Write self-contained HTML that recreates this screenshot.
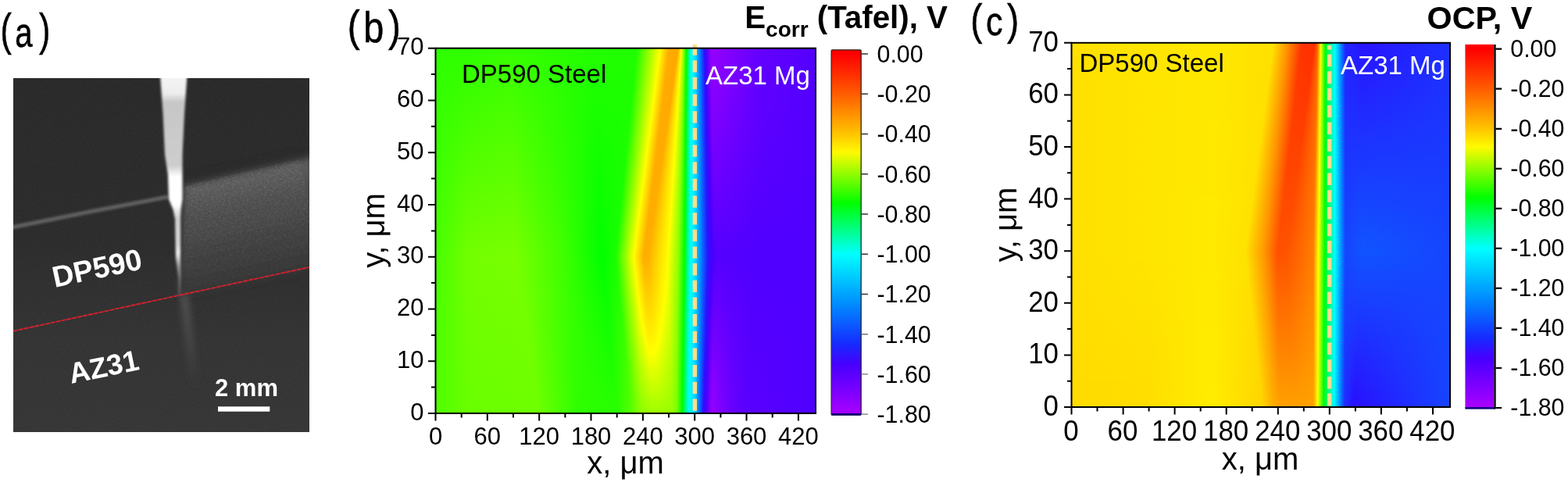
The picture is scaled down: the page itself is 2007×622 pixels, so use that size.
<!DOCTYPE html>
<html lang="en">
<head>
<meta charset="utf-8">
<title>SECM maps of DP590 steel / AZ31 Mg galvanic couple</title>
<style>
html,body{margin:0;padding:0;background:#fff;}
body{width:2007px;height:622px;overflow:hidden;font-family:"Liberation Sans", sans-serif;}
svg{display:block;}
</style>
</head>
<body>
<svg width="2007" height="622" viewBox="0 0 2007 622" font-family='"Liberation Sans", sans-serif' fill="#000">
<defs>
<clipPath id="pc"><rect x="17" y="100" width="379" height="453"/></clipPath>
<filter id="bl2" x="-30%" y="-20%" width="160%" height="140%"><feGaussianBlur stdDeviation="1.6"/></filter>
<filter id="bl4" x="-20%" y="-20%" width="140%" height="140%"><feGaussianBlur stdDeviation="4"/></filter>
<filter id="bl8" x="-30%" y="-30%" width="160%" height="160%"><feGaussianBlur stdDeviation="8"/></filter>
<filter id="grain" x="0" y="0" width="100%" height="100%"><feTurbulence type="fractalNoise" baseFrequency="0.55" numOctaves="2" seed="7" result="n"/><feColorMatrix in="n" type="matrix" values="0 0 0 0 1  0 0 0 0 1  0 0 0 0 1  0.9 0 0 0 -0.42"/></filter>
<linearGradient id="pbg" x1="0" x2="0" y1="100" y2="553" gradientUnits="userSpaceOnUse"><stop offset="0" stop-color="#2a2a2a"/><stop offset="0.45" stop-color="#2c2c2c"/><stop offset="0.75" stop-color="#343434"/><stop offset="1" stop-color="#363636"/></linearGradient>
<linearGradient id="psurf" x1="300" y1="215" x2="330" y2="360" gradientUnits="userSpaceOnUse"><stop offset="0" stop-color="#626262"/><stop offset="0.3" stop-color="#4e4e4e"/><stop offset="0.7" stop-color="#3e3e3e"/><stop offset="1" stop-color="#353535"/></linearGradient>
<linearGradient id="pstreak" x1="0" x2="0" y1="100" y2="380" gradientUnits="userSpaceOnUse"><stop offset="0" stop-color="#f4f4f4"/><stop offset="0.07" stop-color="#ededed"/><stop offset="0.11" stop-color="#c6c6c6"/><stop offset="0.40" stop-color="#cdcdcd"/><stop offset="0.45" stop-color="#fff"/><stop offset="0.58" stop-color="#fff"/><stop offset="0.64" stop-color="#cfcfcf"/><stop offset="0.76" stop-color="#d8d8d8"/><stop offset="0.80" stop-color="#f0f0f0"/><stop offset="0.86" stop-color="#9a9a9a"/><stop offset="0.93" stop-color="#6a6a6a"/><stop offset="1" stop-color="#4a4a4a"/></linearGradient>
<linearGradient id="prefl" x1="0" x2="0" y1="376" y2="500" gradientUnits="userSpaceOnUse"><stop offset="0" stop-color="#5a5a5a" stop-opacity="0.9"/><stop offset="0.5" stop-color="#4c4c4c" stop-opacity="0.7"/><stop offset="1" stop-color="#404040" stop-opacity="0"/></linearGradient>
<filter id="grain2" x="0" y="0" width="100%" height="100%"><feTurbulence type="fractalNoise" baseFrequency="0.35 0.6" numOctaves="2" seed="3" result="n"/><feColorMatrix in="n" type="matrix" values="0 0 0 0 1  0 0 0 0 1  0 0 0 0 1  1.6 0 0 0 -0.62"/></filter>
<clipPath id="psc"><polygon points="238,238 396,201 396,342 232,377"/></clipPath>
<linearGradient id="pfade" x1="300" y1="215" x2="330" y2="360" gradientUnits="userSpaceOnUse"><stop offset="0" stop-color="#fff" stop-opacity="0.9"/><stop offset="0.6" stop-color="#fff" stop-opacity="0.5"/><stop offset="1" stop-color="#fff" stop-opacity="0.15"/></linearGradient>
<mask id="pmask" maskUnits="userSpaceOnUse" x="17" y="100" width="379" height="453"><polygon points="238,238 396,201 396,342 232,377" fill="url(#pfade)"/></mask>

<linearGradient id="kb" x1="0" x2="0" y1="0" y2="1"><stop offset="0" stop-color="#ff0000"/><stop offset="0.0113" stop-color="#ff0000"/><stop offset="0.1209" stop-color="#ff5c00"/><stop offset="0.2305" stop-color="#ffc400"/><stop offset="0.2798" stop-color="#fffa00"/><stop offset="0.4196" stop-color="#00ff00"/><stop offset="0.5593" stop-color="#00ffff"/><stop offset="0.6963" stop-color="#008cff"/><stop offset="0.8059" stop-color="#162aff"/><stop offset="0.8607" stop-color="#4600ff"/><stop offset="0.9976" stop-color="#aa00ff"/></linearGradient>
<linearGradient id="kc" x1="0" x2="0" y1="0" y2="1"><stop offset="0" stop-color="#ff0000"/><stop offset="0.0125" stop-color="#ff0000"/><stop offset="0.1221" stop-color="#ff5c00"/><stop offset="0.2318" stop-color="#ffc400"/><stop offset="0.2811" stop-color="#fffa00"/><stop offset="0.4209" stop-color="#00ff00"/><stop offset="0.5607" stop-color="#00ffff"/><stop offset="0.6978" stop-color="#008cff"/><stop offset="0.8075" stop-color="#162aff"/><stop offset="0.8623" stop-color="#4600ff"/><stop offset="0.9994" stop-color="#aa00ff"/></linearGradient>
<linearGradient id="b0" gradientUnits="userSpaceOnUse" x1="557.5" x2="1044" y1="0" y2="0"><stop offset="0.0000" stop-color="#2dff00"/><stop offset="0.0874" stop-color="#2eff00"/><stop offset="0.1903" stop-color="#37ff00"/><stop offset="0.2932" stop-color="#2dff00"/><stop offset="0.4164" stop-color="#23ff00"/><stop offset="0.5289" stop-color="#1eff00"/><stop offset="0.5904" stop-color="#ffff00"/><stop offset="0.6131" stop-color="#ffac00"/><stop offset="0.6376" stop-color="#ffa700"/><stop offset="0.6462" stop-color="#ffff00"/><stop offset="0.6525" stop-color="#91ff00"/><stop offset="0.6598" stop-color="#00ff00"/><stop offset="0.6711" stop-color="#00ffeb"/><stop offset="0.6738" stop-color="#00ffff"/><stop offset="0.6820" stop-color="#00e1ff"/><stop offset="0.6948" stop-color="#0080ff"/><stop offset="0.7072" stop-color="#2814ff"/><stop offset="0.7116" stop-color="#4600ff"/><stop offset="0.7246" stop-color="#9700ff"/><stop offset="0.7760" stop-color="#8200ff"/><stop offset="0.8479" stop-color="#6500ff"/><stop offset="1.0000" stop-color="#5300ff"/></linearGradient>
<linearGradient id="b1" gradientUnits="userSpaceOnUse" x1="557.5" x2="1044" y1="0" y2="0"><stop offset="0.0000" stop-color="#2eff00"/><stop offset="0.0874" stop-color="#2fff00"/><stop offset="0.1906" stop-color="#38ff00"/><stop offset="0.2938" stop-color="#2dff00"/><stop offset="0.4167" stop-color="#22ff00"/><stop offset="0.5280" stop-color="#1eff00"/><stop offset="0.5894" stop-color="#ffff00"/><stop offset="0.6121" stop-color="#ffac00"/><stop offset="0.6365" stop-color="#ffa700"/><stop offset="0.6457" stop-color="#ffff00"/><stop offset="0.6523" stop-color="#91ff00"/><stop offset="0.6597" stop-color="#00ff00"/><stop offset="0.6711" stop-color="#00ffeb"/><stop offset="0.6738" stop-color="#00ffff"/><stop offset="0.6820" stop-color="#00e1ff"/><stop offset="0.6949" stop-color="#0080ff"/><stop offset="0.7073" stop-color="#2814ff"/><stop offset="0.7117" stop-color="#4600ff"/><stop offset="0.7248" stop-color="#9600ff"/><stop offset="0.7760" stop-color="#8100ff"/><stop offset="0.8479" stop-color="#6400ff"/><stop offset="1.0000" stop-color="#5300ff"/></linearGradient>
<linearGradient id="b2" gradientUnits="userSpaceOnUse" x1="557.5" x2="1044" y1="0" y2="0"><stop offset="0.0000" stop-color="#2eff00"/><stop offset="0.0874" stop-color="#30ff00"/><stop offset="0.1909" stop-color="#39ff00"/><stop offset="0.2944" stop-color="#2eff00"/><stop offset="0.4170" stop-color="#22ff00"/><stop offset="0.5272" stop-color="#1eff00"/><stop offset="0.5883" stop-color="#ffff00"/><stop offset="0.6111" stop-color="#ffac00"/><stop offset="0.6353" stop-color="#ffa700"/><stop offset="0.6451" stop-color="#ffff00"/><stop offset="0.6521" stop-color="#91ff00"/><stop offset="0.6596" stop-color="#00ff00"/><stop offset="0.6710" stop-color="#00ffeb"/><stop offset="0.6738" stop-color="#00ffff"/><stop offset="0.6820" stop-color="#00e1ff"/><stop offset="0.6949" stop-color="#0080ff"/><stop offset="0.7074" stop-color="#2814ff"/><stop offset="0.7119" stop-color="#4600ff"/><stop offset="0.7249" stop-color="#9500ff"/><stop offset="0.7760" stop-color="#8000ff"/><stop offset="0.8479" stop-color="#6400ff"/><stop offset="1.0000" stop-color="#5300ff"/></linearGradient>
<linearGradient id="b3" gradientUnits="userSpaceOnUse" x1="557.5" x2="1044" y1="0" y2="0"><stop offset="0.0000" stop-color="#2eff00"/><stop offset="0.0874" stop-color="#31ff00"/><stop offset="0.1912" stop-color="#3aff00"/><stop offset="0.2951" stop-color="#2eff00"/><stop offset="0.4173" stop-color="#21ff00"/><stop offset="0.5264" stop-color="#1eff00"/><stop offset="0.5873" stop-color="#ffff00"/><stop offset="0.6101" stop-color="#ffac00"/><stop offset="0.6341" stop-color="#ffa700"/><stop offset="0.6446" stop-color="#ffff00"/><stop offset="0.6519" stop-color="#91ff00"/><stop offset="0.6595" stop-color="#00ff00"/><stop offset="0.6710" stop-color="#00ffeb"/><stop offset="0.6738" stop-color="#00ffff"/><stop offset="0.6820" stop-color="#00e1ff"/><stop offset="0.6950" stop-color="#0080ff"/><stop offset="0.7076" stop-color="#2814ff"/><stop offset="0.7121" stop-color="#4600ff"/><stop offset="0.7251" stop-color="#9400ff"/><stop offset="0.7760" stop-color="#8000ff"/><stop offset="0.8479" stop-color="#6400ff"/><stop offset="1.0000" stop-color="#5300ff"/></linearGradient>
<linearGradient id="b4" gradientUnits="userSpaceOnUse" x1="557.5" x2="1044" y1="0" y2="0"><stop offset="0.0000" stop-color="#2fff00"/><stop offset="0.0874" stop-color="#32ff00"/><stop offset="0.1915" stop-color="#3bff00"/><stop offset="0.2957" stop-color="#2eff00"/><stop offset="0.4176" stop-color="#21ff00"/><stop offset="0.5255" stop-color="#1eff00"/><stop offset="0.5862" stop-color="#ffff00"/><stop offset="0.6091" stop-color="#ffac00"/><stop offset="0.6330" stop-color="#ffa700"/><stop offset="0.6441" stop-color="#ffff00"/><stop offset="0.6517" stop-color="#91ff00"/><stop offset="0.6595" stop-color="#00ff00"/><stop offset="0.6710" stop-color="#00ffeb"/><stop offset="0.6737" stop-color="#00ffff"/><stop offset="0.6820" stop-color="#00e1ff"/><stop offset="0.6950" stop-color="#0080ff"/><stop offset="0.7077" stop-color="#2814ff"/><stop offset="0.7123" stop-color="#4600ff"/><stop offset="0.7253" stop-color="#9300ff"/><stop offset="0.7760" stop-color="#7f00ff"/><stop offset="0.8479" stop-color="#6300ff"/><stop offset="1.0000" stop-color="#5200ff"/></linearGradient>
<linearGradient id="b5" gradientUnits="userSpaceOnUse" x1="557.5" x2="1044" y1="0" y2="0"><stop offset="0.0000" stop-color="#2fff00"/><stop offset="0.0874" stop-color="#33ff00"/><stop offset="0.1918" stop-color="#3cff00"/><stop offset="0.2963" stop-color="#2fff00"/><stop offset="0.4179" stop-color="#20ff00"/><stop offset="0.5247" stop-color="#1eff00"/><stop offset="0.5852" stop-color="#ffff00"/><stop offset="0.6081" stop-color="#ffac00"/><stop offset="0.6318" stop-color="#ffa700"/><stop offset="0.6436" stop-color="#ffff00"/><stop offset="0.6514" stop-color="#91ff00"/><stop offset="0.6594" stop-color="#00ff00"/><stop offset="0.6710" stop-color="#00ffeb"/><stop offset="0.6737" stop-color="#00ffff"/><stop offset="0.6820" stop-color="#00e1ff"/><stop offset="0.6951" stop-color="#0080ff"/><stop offset="0.7079" stop-color="#2814ff"/><stop offset="0.7125" stop-color="#4600ff"/><stop offset="0.7254" stop-color="#9200ff"/><stop offset="0.7760" stop-color="#7e00ff"/><stop offset="0.8479" stop-color="#6300ff"/><stop offset="1.0000" stop-color="#5200ff"/></linearGradient>
<linearGradient id="b6" gradientUnits="userSpaceOnUse" x1="557.5" x2="1044" y1="0" y2="0"><stop offset="0.0000" stop-color="#2fff00"/><stop offset="0.0874" stop-color="#34ff00"/><stop offset="0.1921" stop-color="#3dff00"/><stop offset="0.2969" stop-color="#2fff00"/><stop offset="0.4182" stop-color="#20ff00"/><stop offset="0.5239" stop-color="#1eff00"/><stop offset="0.5841" stop-color="#ffff00"/><stop offset="0.6072" stop-color="#ffac00"/><stop offset="0.6306" stop-color="#ffa800"/><stop offset="0.6431" stop-color="#ffff00"/><stop offset="0.6512" stop-color="#91ff00"/><stop offset="0.6593" stop-color="#00ff00"/><stop offset="0.6709" stop-color="#00ffeb"/><stop offset="0.6737" stop-color="#00ffff"/><stop offset="0.6820" stop-color="#00e1ff"/><stop offset="0.6952" stop-color="#0080ff"/><stop offset="0.7080" stop-color="#2814ff"/><stop offset="0.7127" stop-color="#4600ff"/><stop offset="0.7256" stop-color="#9100ff"/><stop offset="0.7760" stop-color="#7d00ff"/><stop offset="0.8479" stop-color="#6300ff"/><stop offset="1.0000" stop-color="#5200ff"/></linearGradient>
<linearGradient id="b7" gradientUnits="userSpaceOnUse" x1="557.5" x2="1044" y1="0" y2="0"><stop offset="0.0000" stop-color="#30ff00"/><stop offset="0.0874" stop-color="#35ff00"/><stop offset="0.1924" stop-color="#3eff00"/><stop offset="0.2975" stop-color="#2fff00"/><stop offset="0.4185" stop-color="#1fff00"/><stop offset="0.5231" stop-color="#1dff00"/><stop offset="0.5831" stop-color="#ffff00"/><stop offset="0.6062" stop-color="#ffac00"/><stop offset="0.6295" stop-color="#ffa800"/><stop offset="0.6425" stop-color="#ffff00"/><stop offset="0.6510" stop-color="#91ff00"/><stop offset="0.6592" stop-color="#00ff00"/><stop offset="0.6709" stop-color="#00ffeb"/><stop offset="0.6737" stop-color="#00ffff"/><stop offset="0.6820" stop-color="#00e1ff"/><stop offset="0.6952" stop-color="#0080ff"/><stop offset="0.7081" stop-color="#2814ff"/><stop offset="0.7129" stop-color="#4600ff"/><stop offset="0.7257" stop-color="#9000ff"/><stop offset="0.7760" stop-color="#7d00ff"/><stop offset="0.8479" stop-color="#6200ff"/><stop offset="1.0000" stop-color="#5200ff"/></linearGradient>
<linearGradient id="b8" gradientUnits="userSpaceOnUse" x1="557.5" x2="1044" y1="0" y2="0"><stop offset="0.0000" stop-color="#30ff00"/><stop offset="0.0874" stop-color="#36ff00"/><stop offset="0.1928" stop-color="#3fff00"/><stop offset="0.2981" stop-color="#30ff00"/><stop offset="0.4189" stop-color="#1fff00"/><stop offset="0.5222" stop-color="#1dff00"/><stop offset="0.5821" stop-color="#ffff00"/><stop offset="0.6052" stop-color="#ffac00"/><stop offset="0.6283" stop-color="#ffa800"/><stop offset="0.6420" stop-color="#ffff00"/><stop offset="0.6508" stop-color="#91ff00"/><stop offset="0.6592" stop-color="#00ff00"/><stop offset="0.6709" stop-color="#00ffeb"/><stop offset="0.6736" stop-color="#00ffff"/><stop offset="0.6820" stop-color="#00e1ff"/><stop offset="0.6953" stop-color="#0080ff"/><stop offset="0.7083" stop-color="#2814ff"/><stop offset="0.7131" stop-color="#4600ff"/><stop offset="0.7259" stop-color="#8f00ff"/><stop offset="0.7760" stop-color="#7c00ff"/><stop offset="0.8479" stop-color="#6200ff"/><stop offset="1.0000" stop-color="#5200ff"/></linearGradient>
<linearGradient id="b9" gradientUnits="userSpaceOnUse" x1="557.5" x2="1044" y1="0" y2="0"><stop offset="0.0000" stop-color="#31ff00"/><stop offset="0.0874" stop-color="#37ff00"/><stop offset="0.1931" stop-color="#40ff00"/><stop offset="0.2988" stop-color="#30ff00"/><stop offset="0.4192" stop-color="#1eff00"/><stop offset="0.5214" stop-color="#1dff00"/><stop offset="0.5810" stop-color="#ffff00"/><stop offset="0.6042" stop-color="#ffac00"/><stop offset="0.6271" stop-color="#ffa800"/><stop offset="0.6415" stop-color="#ffff00"/><stop offset="0.6506" stop-color="#91ff00"/><stop offset="0.6591" stop-color="#00ff00"/><stop offset="0.6708" stop-color="#00ffeb"/><stop offset="0.6736" stop-color="#00ffff"/><stop offset="0.6820" stop-color="#00e1ff"/><stop offset="0.6953" stop-color="#0080ff"/><stop offset="0.7084" stop-color="#2814ff"/><stop offset="0.7132" stop-color="#4600ff"/><stop offset="0.7260" stop-color="#8e00ff"/><stop offset="0.7760" stop-color="#7b00ff"/><stop offset="0.8479" stop-color="#6200ff"/><stop offset="1.0000" stop-color="#5200ff"/></linearGradient>
<linearGradient id="b10" gradientUnits="userSpaceOnUse" x1="557.5" x2="1044" y1="0" y2="0"><stop offset="0.0000" stop-color="#31ff00"/><stop offset="0.0874" stop-color="#38ff00"/><stop offset="0.1934" stop-color="#41ff00"/><stop offset="0.2994" stop-color="#30ff00"/><stop offset="0.4195" stop-color="#1dff00"/><stop offset="0.5206" stop-color="#1dff00"/><stop offset="0.5800" stop-color="#ffff00"/><stop offset="0.6032" stop-color="#ffac00"/><stop offset="0.6259" stop-color="#ffa800"/><stop offset="0.6410" stop-color="#ffff00"/><stop offset="0.6504" stop-color="#91ff00"/><stop offset="0.6590" stop-color="#00ff00"/><stop offset="0.6708" stop-color="#00ffeb"/><stop offset="0.6736" stop-color="#00ffff"/><stop offset="0.6820" stop-color="#00e1ff"/><stop offset="0.6954" stop-color="#0080ff"/><stop offset="0.7085" stop-color="#2814ff"/><stop offset="0.7134" stop-color="#4600ff"/><stop offset="0.7262" stop-color="#8d00ff"/><stop offset="0.7760" stop-color="#7b00ff"/><stop offset="0.8479" stop-color="#6100ff"/><stop offset="1.0000" stop-color="#5200ff"/></linearGradient>
<linearGradient id="b11" gradientUnits="userSpaceOnUse" x1="557.5" x2="1044" y1="0" y2="0"><stop offset="0.0000" stop-color="#31ff00"/><stop offset="0.0874" stop-color="#39ff00"/><stop offset="0.1937" stop-color="#42ff00"/><stop offset="0.3000" stop-color="#30ff00"/><stop offset="0.4198" stop-color="#1dff00"/><stop offset="0.5197" stop-color="#1dff00"/><stop offset="0.5789" stop-color="#ffff00"/><stop offset="0.6022" stop-color="#ffac00"/><stop offset="0.6248" stop-color="#ffa800"/><stop offset="0.6404" stop-color="#ffff00"/><stop offset="0.6501" stop-color="#91ff00"/><stop offset="0.6589" stop-color="#00ff00"/><stop offset="0.6708" stop-color="#00ffeb"/><stop offset="0.6736" stop-color="#00ffff"/><stop offset="0.6820" stop-color="#00e1ff"/><stop offset="0.6955" stop-color="#0080ff"/><stop offset="0.7087" stop-color="#2814ff"/><stop offset="0.7136" stop-color="#4600ff"/><stop offset="0.7263" stop-color="#8c00ff"/><stop offset="0.7760" stop-color="#7a00ff"/><stop offset="0.8479" stop-color="#6100ff"/><stop offset="1.0000" stop-color="#5200ff"/></linearGradient>
<linearGradient id="b12" gradientUnits="userSpaceOnUse" x1="557.5" x2="1044" y1="0" y2="0"><stop offset="0.0000" stop-color="#32ff00"/><stop offset="0.0874" stop-color="#3aff00"/><stop offset="0.1940" stop-color="#43ff00"/><stop offset="0.3006" stop-color="#31ff00"/><stop offset="0.4201" stop-color="#1cff00"/><stop offset="0.5189" stop-color="#1dff00"/><stop offset="0.5779" stop-color="#ffff00"/><stop offset="0.6012" stop-color="#ffac00"/><stop offset="0.6236" stop-color="#ffa800"/><stop offset="0.6399" stop-color="#ffff00"/><stop offset="0.6499" stop-color="#91ff00"/><stop offset="0.6589" stop-color="#00ff00"/><stop offset="0.6707" stop-color="#00ffeb"/><stop offset="0.6736" stop-color="#00ffff"/><stop offset="0.6820" stop-color="#00e1ff"/><stop offset="0.6955" stop-color="#0080ff"/><stop offset="0.7088" stop-color="#2814ff"/><stop offset="0.7138" stop-color="#4600ff"/><stop offset="0.7265" stop-color="#8b00ff"/><stop offset="0.7760" stop-color="#7900ff"/><stop offset="0.8479" stop-color="#6100ff"/><stop offset="1.0000" stop-color="#5200ff"/></linearGradient>
<linearGradient id="b13" gradientUnits="userSpaceOnUse" x1="557.5" x2="1044" y1="0" y2="0"><stop offset="0.0000" stop-color="#32ff00"/><stop offset="0.0874" stop-color="#3bff00"/><stop offset="0.1943" stop-color="#44ff00"/><stop offset="0.3012" stop-color="#31ff00"/><stop offset="0.4204" stop-color="#1cff00"/><stop offset="0.5181" stop-color="#1dff00"/><stop offset="0.5768" stop-color="#ffff00"/><stop offset="0.6003" stop-color="#ffac00"/><stop offset="0.6224" stop-color="#ffa900"/><stop offset="0.6394" stop-color="#ffff00"/><stop offset="0.6497" stop-color="#91ff00"/><stop offset="0.6588" stop-color="#00ff00"/><stop offset="0.6707" stop-color="#00ffeb"/><stop offset="0.6735" stop-color="#00ffff"/><stop offset="0.6820" stop-color="#00e1ff"/><stop offset="0.6956" stop-color="#0080ff"/><stop offset="0.7090" stop-color="#2814ff"/><stop offset="0.7140" stop-color="#4600ff"/><stop offset="0.7266" stop-color="#8a00ff"/><stop offset="0.7760" stop-color="#7800ff"/><stop offset="0.8479" stop-color="#6000ff"/><stop offset="1.0000" stop-color="#5200ff"/></linearGradient>
<linearGradient id="b14" gradientUnits="userSpaceOnUse" x1="557.5" x2="1044" y1="0" y2="0"><stop offset="0.0000" stop-color="#32ff00"/><stop offset="0.0874" stop-color="#3cff00"/><stop offset="0.1946" stop-color="#45ff00"/><stop offset="0.3018" stop-color="#31ff00"/><stop offset="0.4207" stop-color="#1bff00"/><stop offset="0.5172" stop-color="#1dff00"/><stop offset="0.5758" stop-color="#ffff00"/><stop offset="0.5993" stop-color="#ffac00"/><stop offset="0.6213" stop-color="#ffa900"/><stop offset="0.6389" stop-color="#ffff00"/><stop offset="0.6495" stop-color="#91ff00"/><stop offset="0.6587" stop-color="#00ff00"/><stop offset="0.6707" stop-color="#00ffeb"/><stop offset="0.6735" stop-color="#00ffff"/><stop offset="0.6820" stop-color="#00e1ff"/><stop offset="0.6957" stop-color="#0080ff"/><stop offset="0.7091" stop-color="#2814ff"/><stop offset="0.7142" stop-color="#4600ff"/><stop offset="0.7268" stop-color="#8900ff"/><stop offset="0.7760" stop-color="#7800ff"/><stop offset="0.8479" stop-color="#6000ff"/><stop offset="1.0000" stop-color="#5200ff"/></linearGradient>
<linearGradient id="b15" gradientUnits="userSpaceOnUse" x1="557.5" x2="1044" y1="0" y2="0"><stop offset="0.0000" stop-color="#33ff00"/><stop offset="0.0874" stop-color="#3dff00"/><stop offset="0.1949" stop-color="#46ff00"/><stop offset="0.3025" stop-color="#32ff00"/><stop offset="0.4210" stop-color="#1bff00"/><stop offset="0.5164" stop-color="#1dff00"/><stop offset="0.5747" stop-color="#ffff00"/><stop offset="0.5983" stop-color="#ffac00"/><stop offset="0.6201" stop-color="#ffa900"/><stop offset="0.6383" stop-color="#ffff00"/><stop offset="0.6493" stop-color="#91ff00"/><stop offset="0.6586" stop-color="#00ff00"/><stop offset="0.6706" stop-color="#00ffeb"/><stop offset="0.6735" stop-color="#00ffff"/><stop offset="0.6820" stop-color="#00e1ff"/><stop offset="0.6957" stop-color="#0080ff"/><stop offset="0.7092" stop-color="#2814ff"/><stop offset="0.7144" stop-color="#4600ff"/><stop offset="0.7270" stop-color="#8800ff"/><stop offset="0.7760" stop-color="#7700ff"/><stop offset="0.8479" stop-color="#6000ff"/><stop offset="1.0000" stop-color="#5200ff"/></linearGradient>
<linearGradient id="b16" gradientUnits="userSpaceOnUse" x1="557.5" x2="1044" y1="0" y2="0"><stop offset="0.0000" stop-color="#33ff00"/><stop offset="0.0874" stop-color="#3eff00"/><stop offset="0.1952" stop-color="#47ff00"/><stop offset="0.3031" stop-color="#32ff00"/><stop offset="0.4213" stop-color="#1aff00"/><stop offset="0.5156" stop-color="#1dff00"/><stop offset="0.5737" stop-color="#ffff00"/><stop offset="0.5973" stop-color="#ffac00"/><stop offset="0.6189" stop-color="#ffa900"/><stop offset="0.6378" stop-color="#ffff00"/><stop offset="0.6491" stop-color="#91ff00"/><stop offset="0.6585" stop-color="#00ff00"/><stop offset="0.6706" stop-color="#00ffeb"/><stop offset="0.6735" stop-color="#00ffff"/><stop offset="0.6820" stop-color="#00e1ff"/><stop offset="0.6958" stop-color="#0080ff"/><stop offset="0.7094" stop-color="#2814ff"/><stop offset="0.7146" stop-color="#4600ff"/><stop offset="0.7271" stop-color="#8700ff"/><stop offset="0.7760" stop-color="#7600ff"/><stop offset="0.8479" stop-color="#6000ff"/><stop offset="1.0000" stop-color="#5200ff"/></linearGradient>
<linearGradient id="b17" gradientUnits="userSpaceOnUse" x1="557.5" x2="1044" y1="0" y2="0"><stop offset="0.0000" stop-color="#34ff00"/><stop offset="0.0874" stop-color="#3fff00"/><stop offset="0.1955" stop-color="#48ff00"/><stop offset="0.3037" stop-color="#32ff00"/><stop offset="0.4216" stop-color="#1aff00"/><stop offset="0.5147" stop-color="#1dff00"/><stop offset="0.5726" stop-color="#ffff00"/><stop offset="0.5963" stop-color="#ffac00"/><stop offset="0.6177" stop-color="#ffa900"/><stop offset="0.6373" stop-color="#ffff00"/><stop offset="0.6488" stop-color="#91ff00"/><stop offset="0.6585" stop-color="#00ff00"/><stop offset="0.6706" stop-color="#00ffeb"/><stop offset="0.6734" stop-color="#00ffff"/><stop offset="0.6820" stop-color="#00e1ff"/><stop offset="0.6958" stop-color="#0080ff"/><stop offset="0.7095" stop-color="#2814ff"/><stop offset="0.7148" stop-color="#4600ff"/><stop offset="0.7273" stop-color="#8600ff"/><stop offset="0.7760" stop-color="#7600ff"/><stop offset="0.8479" stop-color="#5f00ff"/><stop offset="1.0000" stop-color="#5200ff"/></linearGradient>
<linearGradient id="b18" gradientUnits="userSpaceOnUse" x1="557.5" x2="1044" y1="0" y2="0"><stop offset="0.0000" stop-color="#34ff00"/><stop offset="0.0874" stop-color="#40ff00"/><stop offset="0.1958" stop-color="#49ff00"/><stop offset="0.3043" stop-color="#33ff00"/><stop offset="0.4219" stop-color="#19ff00"/><stop offset="0.5139" stop-color="#1dff00"/><stop offset="0.5716" stop-color="#ffff00"/><stop offset="0.5953" stop-color="#ffac00"/><stop offset="0.6166" stop-color="#ffa900"/><stop offset="0.6368" stop-color="#ffff00"/><stop offset="0.6486" stop-color="#91ff00"/><stop offset="0.6584" stop-color="#00ff00"/><stop offset="0.6706" stop-color="#00ffeb"/><stop offset="0.6734" stop-color="#00ffff"/><stop offset="0.6820" stop-color="#00e1ff"/><stop offset="0.6959" stop-color="#0080ff"/><stop offset="0.7097" stop-color="#2814ff"/><stop offset="0.7150" stop-color="#4600ff"/><stop offset="0.7274" stop-color="#8500ff"/><stop offset="0.7760" stop-color="#7500ff"/><stop offset="0.8479" stop-color="#5f00ff"/><stop offset="1.0000" stop-color="#5200ff"/></linearGradient>
<linearGradient id="b19" gradientUnits="userSpaceOnUse" x1="557.5" x2="1044" y1="0" y2="0"><stop offset="0.0000" stop-color="#34ff00"/><stop offset="0.0874" stop-color="#41ff00"/><stop offset="0.1961" stop-color="#4aff00"/><stop offset="0.3049" stop-color="#33ff00"/><stop offset="0.4222" stop-color="#19ff00"/><stop offset="0.5131" stop-color="#1dff00"/><stop offset="0.5705" stop-color="#ffff00"/><stop offset="0.5943" stop-color="#ffac00"/><stop offset="0.6154" stop-color="#ffaa00"/><stop offset="0.6362" stop-color="#ffff00"/><stop offset="0.6484" stop-color="#91ff00"/><stop offset="0.6583" stop-color="#00ff00"/><stop offset="0.6705" stop-color="#00ffeb"/><stop offset="0.6734" stop-color="#00ffff"/><stop offset="0.6820" stop-color="#00e1ff"/><stop offset="0.6960" stop-color="#0080ff"/><stop offset="0.7098" stop-color="#2814ff"/><stop offset="0.7152" stop-color="#4600ff"/><stop offset="0.7276" stop-color="#8400ff"/><stop offset="0.7760" stop-color="#7400ff"/><stop offset="0.8479" stop-color="#5f00ff"/><stop offset="1.0000" stop-color="#5200ff"/></linearGradient>
<linearGradient id="b20" gradientUnits="userSpaceOnUse" x1="557.5" x2="1044" y1="0" y2="0"><stop offset="0.0000" stop-color="#35ff00"/><stop offset="0.0874" stop-color="#43ff00"/><stop offset="0.1964" stop-color="#4bff00"/><stop offset="0.3055" stop-color="#33ff00"/><stop offset="0.4226" stop-color="#18ff00"/><stop offset="0.5122" stop-color="#1cff00"/><stop offset="0.5695" stop-color="#ffff00"/><stop offset="0.5934" stop-color="#ffac00"/><stop offset="0.6142" stop-color="#ffaa00"/><stop offset="0.6357" stop-color="#ffff00"/><stop offset="0.6482" stop-color="#91ff00"/><stop offset="0.6582" stop-color="#00ff00"/><stop offset="0.6705" stop-color="#00ffeb"/><stop offset="0.6734" stop-color="#00ffff"/><stop offset="0.6820" stop-color="#00e1ff"/><stop offset="0.6960" stop-color="#0080ff"/><stop offset="0.7099" stop-color="#2814ff"/><stop offset="0.7155" stop-color="#4600ff"/><stop offset="0.7277" stop-color="#8300ff"/><stop offset="0.7760" stop-color="#7300ff"/><stop offset="0.8479" stop-color="#5e00ff"/><stop offset="1.0000" stop-color="#5200ff"/></linearGradient>
<linearGradient id="b21" gradientUnits="userSpaceOnUse" x1="557.5" x2="1044" y1="0" y2="0"><stop offset="0.0000" stop-color="#35ff00"/><stop offset="0.0874" stop-color="#44ff00"/><stop offset="0.1968" stop-color="#4cff00"/><stop offset="0.3062" stop-color="#33ff00"/><stop offset="0.4229" stop-color="#18ff00"/><stop offset="0.5114" stop-color="#1cff00"/><stop offset="0.5684" stop-color="#ffff00"/><stop offset="0.5924" stop-color="#ffac00"/><stop offset="0.6131" stop-color="#ffaa00"/><stop offset="0.6352" stop-color="#ffff00"/><stop offset="0.6480" stop-color="#91ff00"/><stop offset="0.6582" stop-color="#00ff00"/><stop offset="0.6705" stop-color="#00ffeb"/><stop offset="0.6733" stop-color="#00ffff"/><stop offset="0.6820" stop-color="#00e1ff"/><stop offset="0.6961" stop-color="#0080ff"/><stop offset="0.7101" stop-color="#2814ff"/><stop offset="0.7157" stop-color="#4600ff"/><stop offset="0.7279" stop-color="#8200ff"/><stop offset="0.7760" stop-color="#7300ff"/><stop offset="0.8479" stop-color="#5e00ff"/><stop offset="1.0000" stop-color="#5200ff"/></linearGradient>
<linearGradient id="b22" gradientUnits="userSpaceOnUse" x1="557.5" x2="1044" y1="0" y2="0"><stop offset="0.0000" stop-color="#35ff00"/><stop offset="0.0874" stop-color="#45ff00"/><stop offset="0.1971" stop-color="#4dff00"/><stop offset="0.3068" stop-color="#34ff00"/><stop offset="0.4232" stop-color="#17ff00"/><stop offset="0.5106" stop-color="#1cff00"/><stop offset="0.5674" stop-color="#ffff00"/><stop offset="0.5914" stop-color="#ffac00"/><stop offset="0.6119" stop-color="#ffaa00"/><stop offset="0.6347" stop-color="#ffff00"/><stop offset="0.6478" stop-color="#91ff00"/><stop offset="0.6581" stop-color="#00ff00"/><stop offset="0.6704" stop-color="#00ffeb"/><stop offset="0.6733" stop-color="#00ffff"/><stop offset="0.6820" stop-color="#00e1ff"/><stop offset="0.6961" stop-color="#0080ff"/><stop offset="0.7102" stop-color="#2814ff"/><stop offset="0.7159" stop-color="#4600ff"/><stop offset="0.7280" stop-color="#8100ff"/><stop offset="0.7760" stop-color="#7200ff"/><stop offset="0.8479" stop-color="#5e00ff"/><stop offset="1.0000" stop-color="#5200ff"/></linearGradient>
<linearGradient id="b23" gradientUnits="userSpaceOnUse" x1="557.5" x2="1044" y1="0" y2="0"><stop offset="0.0000" stop-color="#36ff00"/><stop offset="0.0874" stop-color="#46ff00"/><stop offset="0.1974" stop-color="#4eff00"/><stop offset="0.3074" stop-color="#34ff00"/><stop offset="0.4235" stop-color="#17ff00"/><stop offset="0.5097" stop-color="#1cff00"/><stop offset="0.5663" stop-color="#ffff00"/><stop offset="0.5904" stop-color="#ffac00"/><stop offset="0.6107" stop-color="#ffaa00"/><stop offset="0.6341" stop-color="#ffff00"/><stop offset="0.6476" stop-color="#91ff00"/><stop offset="0.6580" stop-color="#00ff00"/><stop offset="0.6704" stop-color="#00ffeb"/><stop offset="0.6733" stop-color="#00ffff"/><stop offset="0.6820" stop-color="#00e1ff"/><stop offset="0.6962" stop-color="#0080ff"/><stop offset="0.7103" stop-color="#2814ff"/><stop offset="0.7161" stop-color="#4600ff"/><stop offset="0.7282" stop-color="#7f00ff"/><stop offset="0.7760" stop-color="#7100ff"/><stop offset="0.8479" stop-color="#5d00ff"/><stop offset="1.0000" stop-color="#5100ff"/></linearGradient>
<linearGradient id="b24" gradientUnits="userSpaceOnUse" x1="557.5" x2="1044" y1="0" y2="0"><stop offset="0.0000" stop-color="#36ff00"/><stop offset="0.0874" stop-color="#47ff00"/><stop offset="0.1977" stop-color="#4fff00"/><stop offset="0.3080" stop-color="#34ff00"/><stop offset="0.4238" stop-color="#16ff00"/><stop offset="0.5089" stop-color="#1cff00"/><stop offset="0.5653" stop-color="#ffff00"/><stop offset="0.5894" stop-color="#ffac00"/><stop offset="0.6096" stop-color="#ffaa00"/><stop offset="0.6336" stop-color="#ffff00"/><stop offset="0.6473" stop-color="#91ff00"/><stop offset="0.6579" stop-color="#00ff00"/><stop offset="0.6704" stop-color="#00ffeb"/><stop offset="0.6733" stop-color="#00ffff"/><stop offset="0.6820" stop-color="#00e1ff"/><stop offset="0.6963" stop-color="#0080ff"/><stop offset="0.7105" stop-color="#2814ff"/><stop offset="0.7163" stop-color="#4600ff"/><stop offset="0.7283" stop-color="#7e00ff"/><stop offset="0.7760" stop-color="#7100ff"/><stop offset="0.8479" stop-color="#5d00ff"/><stop offset="1.0000" stop-color="#5100ff"/></linearGradient>
<linearGradient id="b25" gradientUnits="userSpaceOnUse" x1="557.5" x2="1044" y1="0" y2="0"><stop offset="0.0000" stop-color="#37ff00"/><stop offset="0.0874" stop-color="#48ff00"/><stop offset="0.1980" stop-color="#50ff00"/><stop offset="0.3086" stop-color="#35ff00"/><stop offset="0.4241" stop-color="#16ff00"/><stop offset="0.5081" stop-color="#1cff00"/><stop offset="0.5642" stop-color="#ffff00"/><stop offset="0.5884" stop-color="#ffac00"/><stop offset="0.6084" stop-color="#ffab00"/><stop offset="0.6331" stop-color="#ffff00"/><stop offset="0.6471" stop-color="#91ff00"/><stop offset="0.6579" stop-color="#00ff00"/><stop offset="0.6703" stop-color="#00ffeb"/><stop offset="0.6733" stop-color="#00ffff"/><stop offset="0.6820" stop-color="#00e1ff"/><stop offset="0.6963" stop-color="#0080ff"/><stop offset="0.7106" stop-color="#2814ff"/><stop offset="0.7165" stop-color="#4600ff"/><stop offset="0.7285" stop-color="#7d00ff"/><stop offset="0.7760" stop-color="#7000ff"/><stop offset="0.8479" stop-color="#5d00ff"/><stop offset="1.0000" stop-color="#5100ff"/></linearGradient>
<linearGradient id="b26" gradientUnits="userSpaceOnUse" x1="557.5" x2="1044" y1="0" y2="0"><stop offset="0.0000" stop-color="#37ff00"/><stop offset="0.0874" stop-color="#49ff00"/><stop offset="0.1983" stop-color="#51ff00"/><stop offset="0.3092" stop-color="#35ff00"/><stop offset="0.4244" stop-color="#15ff00"/><stop offset="0.5072" stop-color="#1cff00"/><stop offset="0.5632" stop-color="#ffff00"/><stop offset="0.5874" stop-color="#ffac00"/><stop offset="0.6072" stop-color="#ffab00"/><stop offset="0.6326" stop-color="#ffff00"/><stop offset="0.6469" stop-color="#91ff00"/><stop offset="0.6578" stop-color="#00ff00"/><stop offset="0.6703" stop-color="#00ffeb"/><stop offset="0.6732" stop-color="#00ffff"/><stop offset="0.6820" stop-color="#00e1ff"/><stop offset="0.6964" stop-color="#0080ff"/><stop offset="0.7108" stop-color="#2814ff"/><stop offset="0.7167" stop-color="#4600ff"/><stop offset="0.7286" stop-color="#7c00ff"/><stop offset="0.7760" stop-color="#6f00ff"/><stop offset="0.8479" stop-color="#5c00ff"/><stop offset="1.0000" stop-color="#5100ff"/></linearGradient>
<linearGradient id="b27" gradientUnits="userSpaceOnUse" x1="557.5" x2="1044" y1="0" y2="0"><stop offset="0.0000" stop-color="#37ff00"/><stop offset="0.0874" stop-color="#4aff00"/><stop offset="0.1986" stop-color="#52ff00"/><stop offset="0.3099" stop-color="#35ff00"/><stop offset="0.4247" stop-color="#15ff00"/><stop offset="0.5064" stop-color="#1cff00"/><stop offset="0.5622" stop-color="#ffff00"/><stop offset="0.5865" stop-color="#ffac00"/><stop offset="0.6060" stop-color="#ffab00"/><stop offset="0.6321" stop-color="#ffff00"/><stop offset="0.6467" stop-color="#91ff00"/><stop offset="0.6577" stop-color="#00ff00"/><stop offset="0.6703" stop-color="#00ffeb"/><stop offset="0.6732" stop-color="#00ffff"/><stop offset="0.6820" stop-color="#00e1ff"/><stop offset="0.6965" stop-color="#0080ff"/><stop offset="0.7109" stop-color="#2814ff"/><stop offset="0.7170" stop-color="#4600ff"/><stop offset="0.7288" stop-color="#7b00ff"/><stop offset="0.7760" stop-color="#6f00ff"/><stop offset="0.8479" stop-color="#5c00ff"/><stop offset="1.0000" stop-color="#5100ff"/></linearGradient>
<linearGradient id="b28" gradientUnits="userSpaceOnUse" x1="557.5" x2="1044" y1="0" y2="0"><stop offset="0.0000" stop-color="#38ff00"/><stop offset="0.0874" stop-color="#4bff00"/><stop offset="0.1989" stop-color="#53ff00"/><stop offset="0.3105" stop-color="#36ff00"/><stop offset="0.4250" stop-color="#14ff00"/><stop offset="0.5056" stop-color="#1cff00"/><stop offset="0.5611" stop-color="#ffff00"/><stop offset="0.5855" stop-color="#ffac00"/><stop offset="0.6049" stop-color="#ffab00"/><stop offset="0.6315" stop-color="#ffff00"/><stop offset="0.6465" stop-color="#91ff00"/><stop offset="0.6576" stop-color="#00ff00"/><stop offset="0.6702" stop-color="#00ffeb"/><stop offset="0.6732" stop-color="#00ffff"/><stop offset="0.6820" stop-color="#00e1ff"/><stop offset="0.6965" stop-color="#0080ff"/><stop offset="0.7110" stop-color="#2814ff"/><stop offset="0.7172" stop-color="#4600ff"/><stop offset="0.7290" stop-color="#7a00ff"/><stop offset="0.7760" stop-color="#6e00ff"/><stop offset="0.8479" stop-color="#5c00ff"/><stop offset="1.0000" stop-color="#5100ff"/></linearGradient>
<linearGradient id="b29" gradientUnits="userSpaceOnUse" x1="557.5" x2="1044" y1="0" y2="0"><stop offset="0.0000" stop-color="#38ff00"/><stop offset="0.0874" stop-color="#4cff00"/><stop offset="0.1992" stop-color="#54ff00"/><stop offset="0.3111" stop-color="#36ff00"/><stop offset="0.4253" stop-color="#14ff00"/><stop offset="0.5048" stop-color="#1cff00"/><stop offset="0.5601" stop-color="#ffff00"/><stop offset="0.5845" stop-color="#ffac00"/><stop offset="0.6037" stop-color="#ffab00"/><stop offset="0.6310" stop-color="#ffff00"/><stop offset="0.6463" stop-color="#91ff00"/><stop offset="0.6575" stop-color="#00ff00"/><stop offset="0.6702" stop-color="#00ffeb"/><stop offset="0.6732" stop-color="#00ffff"/><stop offset="0.6820" stop-color="#00e1ff"/><stop offset="0.6966" stop-color="#0080ff"/><stop offset="0.7112" stop-color="#2814ff"/><stop offset="0.7174" stop-color="#4600ff"/><stop offset="0.7291" stop-color="#7900ff"/><stop offset="0.7760" stop-color="#6d00ff"/><stop offset="0.8479" stop-color="#5b00ff"/><stop offset="1.0000" stop-color="#5100ff"/></linearGradient>
<linearGradient id="b30" gradientUnits="userSpaceOnUse" x1="557.5" x2="1044" y1="0" y2="0"><stop offset="0.0000" stop-color="#38ff00"/><stop offset="0.0874" stop-color="#4dff00"/><stop offset="0.1995" stop-color="#55ff00"/><stop offset="0.3117" stop-color="#36ff00"/><stop offset="0.4256" stop-color="#13ff00"/><stop offset="0.5039" stop-color="#1cff00"/><stop offset="0.5590" stop-color="#ffff00"/><stop offset="0.5835" stop-color="#ffac00"/><stop offset="0.6025" stop-color="#ffab00"/><stop offset="0.6305" stop-color="#ffff00"/><stop offset="0.6460" stop-color="#91ff00"/><stop offset="0.6575" stop-color="#00ff00"/><stop offset="0.6702" stop-color="#00ffeb"/><stop offset="0.6731" stop-color="#00ffff"/><stop offset="0.6820" stop-color="#00e1ff"/><stop offset="0.6966" stop-color="#0080ff"/><stop offset="0.7113" stop-color="#2814ff"/><stop offset="0.7176" stop-color="#4600ff"/><stop offset="0.7293" stop-color="#7800ff"/><stop offset="0.7760" stop-color="#6c00ff"/><stop offset="0.8479" stop-color="#5b00ff"/><stop offset="1.0000" stop-color="#5100ff"/></linearGradient>
<linearGradient id="b31" gradientUnits="userSpaceOnUse" x1="557.5" x2="1044" y1="0" y2="0"><stop offset="0.0000" stop-color="#39ff00"/><stop offset="0.0874" stop-color="#4eff00"/><stop offset="0.1998" stop-color="#56ff00"/><stop offset="0.3123" stop-color="#36ff00"/><stop offset="0.4259" stop-color="#12ff00"/><stop offset="0.5031" stop-color="#1cff00"/><stop offset="0.5580" stop-color="#ffff00"/><stop offset="0.5825" stop-color="#ffac00"/><stop offset="0.6014" stop-color="#ffab00"/><stop offset="0.6300" stop-color="#ffff00"/><stop offset="0.6458" stop-color="#91ff00"/><stop offset="0.6574" stop-color="#00ff00"/><stop offset="0.6701" stop-color="#00ffeb"/><stop offset="0.6731" stop-color="#00ffff"/><stop offset="0.6820" stop-color="#00e1ff"/><stop offset="0.6967" stop-color="#0080ff"/><stop offset="0.7115" stop-color="#2814ff"/><stop offset="0.7179" stop-color="#4600ff"/><stop offset="0.7294" stop-color="#7700ff"/><stop offset="0.7760" stop-color="#6c00ff"/><stop offset="0.8479" stop-color="#5b00ff"/><stop offset="1.0000" stop-color="#5100ff"/></linearGradient>
<linearGradient id="b32" gradientUnits="userSpaceOnUse" x1="557.5" x2="1044" y1="0" y2="0"><stop offset="0.0000" stop-color="#39ff00"/><stop offset="0.0874" stop-color="#4fff00"/><stop offset="0.2001" stop-color="#57ff00"/><stop offset="0.3129" stop-color="#37ff00"/><stop offset="0.4263" stop-color="#12ff00"/><stop offset="0.5023" stop-color="#1cff00"/><stop offset="0.5569" stop-color="#ffff00"/><stop offset="0.5815" stop-color="#ffac00"/><stop offset="0.6002" stop-color="#ffac00"/><stop offset="0.6294" stop-color="#ffff00"/><stop offset="0.6456" stop-color="#91ff00"/><stop offset="0.6573" stop-color="#00ff00"/><stop offset="0.6701" stop-color="#00ffeb"/><stop offset="0.6731" stop-color="#00ffff"/><stop offset="0.6820" stop-color="#00e1ff"/><stop offset="0.6968" stop-color="#0080ff"/><stop offset="0.7116" stop-color="#2814ff"/><stop offset="0.7181" stop-color="#4600ff"/><stop offset="0.7296" stop-color="#7600ff"/><stop offset="0.7760" stop-color="#6b00ff"/><stop offset="0.8479" stop-color="#5a00ff"/><stop offset="1.0000" stop-color="#5100ff"/></linearGradient>
<linearGradient id="b33" gradientUnits="userSpaceOnUse" x1="557.5" x2="1044" y1="0" y2="0"><stop offset="0.0000" stop-color="#3aff00"/><stop offset="0.0874" stop-color="#50ff00"/><stop offset="0.2005" stop-color="#58ff00"/><stop offset="0.3135" stop-color="#37ff00"/><stop offset="0.4266" stop-color="#11ff00"/><stop offset="0.5014" stop-color="#1bff00"/><stop offset="0.5559" stop-color="#ffff00"/><stop offset="0.5805" stop-color="#ffac00"/><stop offset="0.5990" stop-color="#ffac00"/><stop offset="0.6289" stop-color="#ffff00"/><stop offset="0.6454" stop-color="#91ff00"/><stop offset="0.6572" stop-color="#00ff00"/><stop offset="0.6701" stop-color="#00ffeb"/><stop offset="0.6731" stop-color="#00ffff"/><stop offset="0.6820" stop-color="#00e1ff"/><stop offset="0.6968" stop-color="#0080ff"/><stop offset="0.7117" stop-color="#2814ff"/><stop offset="0.7183" stop-color="#4600ff"/><stop offset="0.7297" stop-color="#7500ff"/><stop offset="0.7760" stop-color="#6a00ff"/><stop offset="0.8479" stop-color="#5a00ff"/><stop offset="1.0000" stop-color="#5100ff"/></linearGradient>
<linearGradient id="b34" gradientUnits="userSpaceOnUse" x1="557.5" x2="1044" y1="0" y2="0"><stop offset="0.0000" stop-color="#3aff00"/><stop offset="0.0874" stop-color="#51ff00"/><stop offset="0.2008" stop-color="#59ff00"/><stop offset="0.3142" stop-color="#37ff00"/><stop offset="0.4269" stop-color="#11ff00"/><stop offset="0.5006" stop-color="#1bff00"/><stop offset="0.5548" stop-color="#ffff00"/><stop offset="0.5796" stop-color="#ffac00"/><stop offset="0.5978" stop-color="#ffac00"/><stop offset="0.6284" stop-color="#ffff00"/><stop offset="0.6452" stop-color="#91ff00"/><stop offset="0.6572" stop-color="#00ff00"/><stop offset="0.6701" stop-color="#00ffeb"/><stop offset="0.6730" stop-color="#00ffff"/><stop offset="0.6820" stop-color="#00e1ff"/><stop offset="0.6969" stop-color="#0080ff"/><stop offset="0.7119" stop-color="#2814ff"/><stop offset="0.7186" stop-color="#4600ff"/><stop offset="0.7299" stop-color="#7400ff"/><stop offset="0.7760" stop-color="#6a00ff"/><stop offset="0.8479" stop-color="#5a00ff"/><stop offset="1.0000" stop-color="#5100ff"/></linearGradient>
<linearGradient id="b35" gradientUnits="userSpaceOnUse" x1="557.5" x2="1044" y1="0" y2="0"><stop offset="0.0000" stop-color="#3aff00"/><stop offset="0.0874" stop-color="#52ff00"/><stop offset="0.2011" stop-color="#5aff00"/><stop offset="0.3148" stop-color="#38ff00"/><stop offset="0.4272" stop-color="#10ff00"/><stop offset="0.4998" stop-color="#1bff00"/><stop offset="0.5538" stop-color="#ffff00"/><stop offset="0.5786" stop-color="#ffac00"/><stop offset="0.5967" stop-color="#ffac00"/><stop offset="0.6279" stop-color="#ffff00"/><stop offset="0.6450" stop-color="#91ff00"/><stop offset="0.6571" stop-color="#00ff00"/><stop offset="0.6700" stop-color="#00ffeb"/><stop offset="0.6730" stop-color="#00ffff"/><stop offset="0.6820" stop-color="#00e1ff"/><stop offset="0.6969" stop-color="#0080ff"/><stop offset="0.7120" stop-color="#2814ff"/><stop offset="0.7188" stop-color="#4600ff"/><stop offset="0.7300" stop-color="#7300ff"/><stop offset="0.7760" stop-color="#6900ff"/><stop offset="0.8479" stop-color="#5900ff"/><stop offset="1.0000" stop-color="#5100ff"/></linearGradient>
<linearGradient id="b36" gradientUnits="userSpaceOnUse" x1="557.5" x2="1044" y1="0" y2="0"><stop offset="0.0000" stop-color="#3bff00"/><stop offset="0.0874" stop-color="#53ff00"/><stop offset="0.2014" stop-color="#5bff00"/><stop offset="0.3154" stop-color="#38ff00"/><stop offset="0.4275" stop-color="#10ff00"/><stop offset="0.4989" stop-color="#1bff00"/><stop offset="0.5527" stop-color="#ffff00"/><stop offset="0.5776" stop-color="#ffac00"/><stop offset="0.5955" stop-color="#ffac00"/><stop offset="0.6273" stop-color="#ffff00"/><stop offset="0.6447" stop-color="#91ff00"/><stop offset="0.6570" stop-color="#00ff00"/><stop offset="0.6700" stop-color="#00ffeb"/><stop offset="0.6730" stop-color="#00ffff"/><stop offset="0.6820" stop-color="#00e1ff"/><stop offset="0.6970" stop-color="#0080ff"/><stop offset="0.7122" stop-color="#2814ff"/><stop offset="0.7190" stop-color="#4600ff"/><stop offset="0.7302" stop-color="#7200ff"/><stop offset="0.7760" stop-color="#6800ff"/><stop offset="0.8479" stop-color="#5900ff"/><stop offset="1.0000" stop-color="#5100ff"/></linearGradient>
<linearGradient id="b37" gradientUnits="userSpaceOnUse" x1="557.5" x2="1044" y1="0" y2="0"><stop offset="0.0000" stop-color="#3bff00"/><stop offset="0.0874" stop-color="#54ff00"/><stop offset="0.2017" stop-color="#5cff00"/><stop offset="0.3160" stop-color="#38ff00"/><stop offset="0.4278" stop-color="#0fff00"/><stop offset="0.4981" stop-color="#1bff00"/><stop offset="0.5517" stop-color="#ffff00"/><stop offset="0.5766" stop-color="#ffac00"/><stop offset="0.5943" stop-color="#ffac00"/><stop offset="0.6268" stop-color="#ffff00"/><stop offset="0.6445" stop-color="#91ff00"/><stop offset="0.6569" stop-color="#00ff00"/><stop offset="0.6700" stop-color="#00ffeb"/><stop offset="0.6730" stop-color="#00ffff"/><stop offset="0.6820" stop-color="#00e1ff"/><stop offset="0.6971" stop-color="#0080ff"/><stop offset="0.7123" stop-color="#2814ff"/><stop offset="0.7193" stop-color="#4600ff"/><stop offset="0.7303" stop-color="#7100ff"/><stop offset="0.7760" stop-color="#6700ff"/><stop offset="0.8479" stop-color="#5900ff"/><stop offset="1.0000" stop-color="#5100ff"/></linearGradient>
<linearGradient id="b38" gradientUnits="userSpaceOnUse" x1="557.5" x2="1044" y1="0" y2="0"><stop offset="0.0000" stop-color="#3bff00"/><stop offset="0.0874" stop-color="#55ff00"/><stop offset="0.2020" stop-color="#5dff00"/><stop offset="0.3166" stop-color="#39ff00"/><stop offset="0.4281" stop-color="#0fff00"/><stop offset="0.4973" stop-color="#1bff00"/><stop offset="0.5506" stop-color="#ffff00"/><stop offset="0.5756" stop-color="#ffac00"/><stop offset="0.5932" stop-color="#ffad00"/><stop offset="0.6263" stop-color="#ffff00"/><stop offset="0.6443" stop-color="#91ff00"/><stop offset="0.6568" stop-color="#00ff00"/><stop offset="0.6699" stop-color="#00ffeb"/><stop offset="0.6730" stop-color="#00ffff"/><stop offset="0.6820" stop-color="#00e1ff"/><stop offset="0.6971" stop-color="#0080ff"/><stop offset="0.7124" stop-color="#2814ff"/><stop offset="0.7195" stop-color="#4600ff"/><stop offset="0.7305" stop-color="#7000ff"/><stop offset="0.7760" stop-color="#6700ff"/><stop offset="0.8479" stop-color="#5800ff"/><stop offset="1.0000" stop-color="#5100ff"/></linearGradient>
<linearGradient id="b39" gradientUnits="userSpaceOnUse" x1="557.5" x2="1044" y1="0" y2="0"><stop offset="0.0000" stop-color="#3cff00"/><stop offset="0.0874" stop-color="#56ff00"/><stop offset="0.2023" stop-color="#5dff00"/><stop offset="0.3172" stop-color="#39ff00"/><stop offset="0.4284" stop-color="#0eff00"/><stop offset="0.4964" stop-color="#1bff00"/><stop offset="0.5496" stop-color="#ffff00"/><stop offset="0.5746" stop-color="#ffac00"/><stop offset="0.5920" stop-color="#ffad00"/><stop offset="0.6258" stop-color="#ffff00"/><stop offset="0.6441" stop-color="#91ff00"/><stop offset="0.6568" stop-color="#00ff00"/><stop offset="0.6699" stop-color="#00ffeb"/><stop offset="0.6729" stop-color="#00ffff"/><stop offset="0.6820" stop-color="#00e1ff"/><stop offset="0.6972" stop-color="#0080ff"/><stop offset="0.7126" stop-color="#2814ff"/><stop offset="0.7198" stop-color="#4600ff"/><stop offset="0.7306" stop-color="#6f00ff"/><stop offset="0.7760" stop-color="#6600ff"/><stop offset="0.8479" stop-color="#5800ff"/><stop offset="1.0000" stop-color="#5100ff"/></linearGradient>
<linearGradient id="b40" gradientUnits="userSpaceOnUse" x1="557.5" x2="1044" y1="0" y2="0"><stop offset="0.0000" stop-color="#3cff00"/><stop offset="0.0874" stop-color="#57ff00"/><stop offset="0.2026" stop-color="#5eff00"/><stop offset="0.3179" stop-color="#39ff00"/><stop offset="0.4287" stop-color="#0eff00"/><stop offset="0.4956" stop-color="#1bff00"/><stop offset="0.5485" stop-color="#ffff00"/><stop offset="0.5736" stop-color="#ffac00"/><stop offset="0.5908" stop-color="#ffad00"/><stop offset="0.6252" stop-color="#ffff00"/><stop offset="0.6439" stop-color="#91ff00"/><stop offset="0.6567" stop-color="#00ff00"/><stop offset="0.6699" stop-color="#00ffeb"/><stop offset="0.6729" stop-color="#00ffff"/><stop offset="0.6820" stop-color="#00e1ff"/><stop offset="0.6973" stop-color="#0080ff"/><stop offset="0.7127" stop-color="#2814ff"/><stop offset="0.7201" stop-color="#4600ff"/><stop offset="0.7308" stop-color="#6e00ff"/><stop offset="0.7760" stop-color="#6500ff"/><stop offset="0.8479" stop-color="#5800ff"/><stop offset="1.0000" stop-color="#5100ff"/></linearGradient>
<linearGradient id="b41" gradientUnits="userSpaceOnUse" x1="557.5" x2="1044" y1="0" y2="0"><stop offset="0.0000" stop-color="#3dff00"/><stop offset="0.0874" stop-color="#59ff00"/><stop offset="0.2029" stop-color="#5fff00"/><stop offset="0.3185" stop-color="#39ff00"/><stop offset="0.4290" stop-color="#0dff00"/><stop offset="0.4948" stop-color="#1bff00"/><stop offset="0.5475" stop-color="#ffff00"/><stop offset="0.5727" stop-color="#ffac00"/><stop offset="0.5897" stop-color="#ffad00"/><stop offset="0.6247" stop-color="#ffff00"/><stop offset="0.6437" stop-color="#91ff00"/><stop offset="0.6566" stop-color="#00ff00"/><stop offset="0.6698" stop-color="#00ffeb"/><stop offset="0.6729" stop-color="#00ffff"/><stop offset="0.6820" stop-color="#00e1ff"/><stop offset="0.6973" stop-color="#0080ff"/><stop offset="0.7128" stop-color="#2814ff"/><stop offset="0.7203" stop-color="#4600ff"/><stop offset="0.7310" stop-color="#6d00ff"/><stop offset="0.7760" stop-color="#6500ff"/><stop offset="0.8479" stop-color="#5700ff"/><stop offset="1.0000" stop-color="#5000ff"/></linearGradient>
<linearGradient id="b42" gradientUnits="userSpaceOnUse" x1="557.5" x2="1044" y1="0" y2="0"><stop offset="0.0000" stop-color="#3dff00"/><stop offset="0.0874" stop-color="#5aff00"/><stop offset="0.2032" stop-color="#60ff00"/><stop offset="0.3191" stop-color="#3aff00"/><stop offset="0.4293" stop-color="#0dff00"/><stop offset="0.4939" stop-color="#1bff00"/><stop offset="0.5464" stop-color="#ffff00"/><stop offset="0.5717" stop-color="#ffac00"/><stop offset="0.5885" stop-color="#ffad00"/><stop offset="0.6242" stop-color="#ffff00"/><stop offset="0.6435" stop-color="#91ff00"/><stop offset="0.6565" stop-color="#00ff00"/><stop offset="0.6698" stop-color="#00ffeb"/><stop offset="0.6729" stop-color="#00ffff"/><stop offset="0.6820" stop-color="#00e1ff"/><stop offset="0.6974" stop-color="#0080ff"/><stop offset="0.7130" stop-color="#2814ff"/><stop offset="0.7206" stop-color="#4600ff"/><stop offset="0.7311" stop-color="#6c00ff"/><stop offset="0.7760" stop-color="#6400ff"/><stop offset="0.8479" stop-color="#5700ff"/><stop offset="1.0000" stop-color="#5000ff"/></linearGradient>
<linearGradient id="b43" gradientUnits="userSpaceOnUse" x1="557.5" x2="1044" y1="0" y2="0"><stop offset="0.0000" stop-color="#3dff00"/><stop offset="0.0874" stop-color="#5bff00"/><stop offset="0.2035" stop-color="#61ff00"/><stop offset="0.3197" stop-color="#3aff00"/><stop offset="0.4296" stop-color="#0cff00"/><stop offset="0.4931" stop-color="#1bff00"/><stop offset="0.5454" stop-color="#ffff00"/><stop offset="0.5707" stop-color="#ffac00"/><stop offset="0.5873" stop-color="#ffad00"/><stop offset="0.6237" stop-color="#ffff00"/><stop offset="0.6432" stop-color="#91ff00"/><stop offset="0.6565" stop-color="#00ff00"/><stop offset="0.6698" stop-color="#00ffeb"/><stop offset="0.6728" stop-color="#00ffff"/><stop offset="0.6820" stop-color="#00e1ff"/><stop offset="0.6974" stop-color="#0080ff"/><stop offset="0.7131" stop-color="#2814ff"/><stop offset="0.7208" stop-color="#4600ff"/><stop offset="0.7313" stop-color="#6b00ff"/><stop offset="0.7760" stop-color="#6300ff"/><stop offset="0.8479" stop-color="#5700ff"/><stop offset="1.0000" stop-color="#5000ff"/></linearGradient>
<linearGradient id="b44" gradientUnits="userSpaceOnUse" x1="557.5" x2="1044" y1="0" y2="0"><stop offset="0.0000" stop-color="#3eff00"/><stop offset="0.0874" stop-color="#5cff00"/><stop offset="0.2038" stop-color="#62ff00"/><stop offset="0.3203" stop-color="#3aff00"/><stop offset="0.4299" stop-color="#0cff00"/><stop offset="0.4923" stop-color="#1bff00"/><stop offset="0.5443" stop-color="#ffff00"/><stop offset="0.5697" stop-color="#ffac00"/><stop offset="0.5861" stop-color="#ffad00"/><stop offset="0.6231" stop-color="#ffff00"/><stop offset="0.6430" stop-color="#91ff00"/><stop offset="0.6564" stop-color="#00ff00"/><stop offset="0.6697" stop-color="#00ffeb"/><stop offset="0.6728" stop-color="#00ffff"/><stop offset="0.6820" stop-color="#00e1ff"/><stop offset="0.6975" stop-color="#0080ff"/><stop offset="0.7133" stop-color="#2814ff"/><stop offset="0.7211" stop-color="#4600ff"/><stop offset="0.7314" stop-color="#6a00ff"/><stop offset="0.7760" stop-color="#6200ff"/><stop offset="0.8479" stop-color="#5600ff"/><stop offset="1.0000" stop-color="#5000ff"/></linearGradient>
<linearGradient id="b45" gradientUnits="userSpaceOnUse" x1="557.5" x2="1044" y1="0" y2="0"><stop offset="0.0000" stop-color="#3eff00"/><stop offset="0.0874" stop-color="#5dff00"/><stop offset="0.2042" stop-color="#63ff00"/><stop offset="0.3209" stop-color="#3bff00"/><stop offset="0.4303" stop-color="#0bff00"/><stop offset="0.4914" stop-color="#1bff00"/><stop offset="0.5433" stop-color="#ffff00"/><stop offset="0.5687" stop-color="#ffac00"/><stop offset="0.5850" stop-color="#ffae00"/><stop offset="0.6226" stop-color="#ffff00"/><stop offset="0.6428" stop-color="#91ff00"/><stop offset="0.6563" stop-color="#00ff00"/><stop offset="0.6697" stop-color="#00ffeb"/><stop offset="0.6728" stop-color="#00ffff"/><stop offset="0.6820" stop-color="#00e1ff"/><stop offset="0.6976" stop-color="#0080ff"/><stop offset="0.7134" stop-color="#2814ff"/><stop offset="0.7214" stop-color="#4600ff"/><stop offset="0.7316" stop-color="#6900ff"/><stop offset="0.7760" stop-color="#6200ff"/><stop offset="0.8479" stop-color="#5600ff"/><stop offset="1.0000" stop-color="#5000ff"/></linearGradient>
<linearGradient id="b46" gradientUnits="userSpaceOnUse" x1="557.5" x2="1044" y1="0" y2="0"><stop offset="0.0000" stop-color="#3eff00"/><stop offset="0.0874" stop-color="#5eff00"/><stop offset="0.2045" stop-color="#64ff00"/><stop offset="0.3216" stop-color="#3bff00"/><stop offset="0.4306" stop-color="#0bff00"/><stop offset="0.4906" stop-color="#1bff00"/><stop offset="0.5423" stop-color="#ffff00"/><stop offset="0.5677" stop-color="#ffac00"/><stop offset="0.5838" stop-color="#ffae00"/><stop offset="0.6221" stop-color="#ffff00"/><stop offset="0.6426" stop-color="#91ff00"/><stop offset="0.6562" stop-color="#00ff00"/><stop offset="0.6697" stop-color="#00ffeb"/><stop offset="0.6728" stop-color="#00ffff"/><stop offset="0.6820" stop-color="#00e1ff"/><stop offset="0.6976" stop-color="#0080ff"/><stop offset="0.7135" stop-color="#2814ff"/><stop offset="0.7217" stop-color="#4600ff"/><stop offset="0.7317" stop-color="#6800ff"/><stop offset="0.7760" stop-color="#6100ff"/><stop offset="0.8479" stop-color="#5600ff"/><stop offset="1.0000" stop-color="#5000ff"/></linearGradient>
<linearGradient id="b47" gradientUnits="userSpaceOnUse" x1="557.5" x2="1044" y1="0" y2="0"><stop offset="0.0000" stop-color="#3fff00"/><stop offset="0.0874" stop-color="#5fff00"/><stop offset="0.2048" stop-color="#65ff00"/><stop offset="0.3222" stop-color="#3bff00"/><stop offset="0.4309" stop-color="#0aff00"/><stop offset="0.4898" stop-color="#1aff00"/><stop offset="0.5412" stop-color="#ffff00"/><stop offset="0.5667" stop-color="#ffac00"/><stop offset="0.5826" stop-color="#ffae00"/><stop offset="0.6216" stop-color="#ffff00"/><stop offset="0.6424" stop-color="#91ff00"/><stop offset="0.6562" stop-color="#00ff00"/><stop offset="0.6697" stop-color="#00ffeb"/><stop offset="0.6727" stop-color="#00ffff"/><stop offset="0.6820" stop-color="#00e1ff"/><stop offset="0.6977" stop-color="#0080ff"/><stop offset="0.7137" stop-color="#2814ff"/><stop offset="0.7220" stop-color="#4600ff"/><stop offset="0.7319" stop-color="#6700ff"/><stop offset="0.7760" stop-color="#6000ff"/><stop offset="0.8479" stop-color="#5500ff"/><stop offset="1.0000" stop-color="#5000ff"/></linearGradient>
<linearGradient id="b48" gradientUnits="userSpaceOnUse" x1="557.5" x2="1044" y1="0" y2="0"><stop offset="0.0000" stop-color="#3fff00"/><stop offset="0.0874" stop-color="#60ff00"/><stop offset="0.2051" stop-color="#66ff00"/><stop offset="0.3228" stop-color="#3cff00"/><stop offset="0.4312" stop-color="#0aff00"/><stop offset="0.4890" stop-color="#1aff00"/><stop offset="0.5402" stop-color="#ffff00"/><stop offset="0.5658" stop-color="#ffac00"/><stop offset="0.5815" stop-color="#ffae00"/><stop offset="0.6211" stop-color="#ffff00"/><stop offset="0.6422" stop-color="#91ff00"/><stop offset="0.6561" stop-color="#00ff00"/><stop offset="0.6696" stop-color="#00ffeb"/><stop offset="0.6727" stop-color="#00ffff"/><stop offset="0.6820" stop-color="#00e1ff"/><stop offset="0.6977" stop-color="#0080ff"/><stop offset="0.7138" stop-color="#2814ff"/><stop offset="0.7223" stop-color="#4600ff"/><stop offset="0.7320" stop-color="#6600ff"/><stop offset="0.7760" stop-color="#6000ff"/><stop offset="0.8479" stop-color="#5500ff"/><stop offset="1.0000" stop-color="#5000ff"/></linearGradient>
<linearGradient id="b49" gradientUnits="userSpaceOnUse" x1="557.5" x2="1044" y1="0" y2="0"><stop offset="0.0000" stop-color="#40ff00"/><stop offset="0.0874" stop-color="#61ff00"/><stop offset="0.2054" stop-color="#67ff00"/><stop offset="0.3234" stop-color="#3cff00"/><stop offset="0.4315" stop-color="#09ff00"/><stop offset="0.4881" stop-color="#1aff00"/><stop offset="0.5391" stop-color="#ffff00"/><stop offset="0.5648" stop-color="#ffac00"/><stop offset="0.5803" stop-color="#ffae00"/><stop offset="0.6205" stop-color="#ffff00"/><stop offset="0.6419" stop-color="#91ff00"/><stop offset="0.6560" stop-color="#00ff00"/><stop offset="0.6696" stop-color="#00ffeb"/><stop offset="0.6727" stop-color="#00ffff"/><stop offset="0.6820" stop-color="#00e1ff"/><stop offset="0.6978" stop-color="#0080ff"/><stop offset="0.7140" stop-color="#2814ff"/><stop offset="0.7226" stop-color="#4600ff"/><stop offset="0.7322" stop-color="#6500ff"/><stop offset="0.7760" stop-color="#5f00ff"/><stop offset="0.8479" stop-color="#5500ff"/><stop offset="1.0000" stop-color="#5000ff"/></linearGradient>
<linearGradient id="b50" gradientUnits="userSpaceOnUse" x1="557.5" x2="1044" y1="0" y2="0"><stop offset="0.0000" stop-color="#40ff00"/><stop offset="0.0874" stop-color="#62ff00"/><stop offset="0.2057" stop-color="#68ff00"/><stop offset="0.3240" stop-color="#3cff00"/><stop offset="0.4318" stop-color="#09ff00"/><stop offset="0.4873" stop-color="#1aff00"/><stop offset="0.5381" stop-color="#ffff00"/><stop offset="0.5638" stop-color="#ffac00"/><stop offset="0.5791" stop-color="#ffae00"/><stop offset="0.6200" stop-color="#ffff00"/><stop offset="0.6417" stop-color="#91ff00"/><stop offset="0.6559" stop-color="#00ff00"/><stop offset="0.6696" stop-color="#00ffeb"/><stop offset="0.6727" stop-color="#00ffff"/><stop offset="0.6820" stop-color="#00e1ff"/><stop offset="0.6979" stop-color="#0080ff"/><stop offset="0.7141" stop-color="#2814ff"/><stop offset="0.7229" stop-color="#4600ff"/><stop offset="0.7323" stop-color="#6400ff"/><stop offset="0.7760" stop-color="#5e00ff"/><stop offset="0.8479" stop-color="#5400ff"/><stop offset="1.0000" stop-color="#5000ff"/></linearGradient>
<linearGradient id="b51" gradientUnits="userSpaceOnUse" x1="557.5" x2="1044" y1="0" y2="0"><stop offset="0.0000" stop-color="#40ff00"/><stop offset="0.0874" stop-color="#63ff00"/><stop offset="0.2060" stop-color="#69ff00"/><stop offset="0.3246" stop-color="#3cff00"/><stop offset="0.4321" stop-color="#08ff00"/><stop offset="0.4865" stop-color="#1aff00"/><stop offset="0.5370" stop-color="#ffff00"/><stop offset="0.5628" stop-color="#ffac00"/><stop offset="0.5779" stop-color="#ffaf00"/><stop offset="0.6195" stop-color="#ffff00"/><stop offset="0.6415" stop-color="#91ff00"/><stop offset="0.6558" stop-color="#00ff00"/><stop offset="0.6695" stop-color="#00ffeb"/><stop offset="0.6727" stop-color="#00ffff"/><stop offset="0.6820" stop-color="#00e1ff"/><stop offset="0.6979" stop-color="#0080ff"/><stop offset="0.7142" stop-color="#2814ff"/><stop offset="0.7232" stop-color="#4600ff"/><stop offset="0.7325" stop-color="#6200ff"/><stop offset="0.7760" stop-color="#5e00ff"/><stop offset="0.8479" stop-color="#5400ff"/><stop offset="1.0000" stop-color="#5000ff"/></linearGradient>
<linearGradient id="b52" gradientUnits="userSpaceOnUse" x1="557.5" x2="1044" y1="0" y2="0"><stop offset="0.0000" stop-color="#41ff00"/><stop offset="0.0874" stop-color="#64ff00"/><stop offset="0.2063" stop-color="#6aff00"/><stop offset="0.3253" stop-color="#3dff00"/><stop offset="0.4324" stop-color="#07ff00"/><stop offset="0.4856" stop-color="#1aff00"/><stop offset="0.5360" stop-color="#ffff00"/><stop offset="0.5618" stop-color="#ffac00"/><stop offset="0.5768" stop-color="#ffaf00"/><stop offset="0.6190" stop-color="#ffff00"/><stop offset="0.6413" stop-color="#91ff00"/><stop offset="0.6558" stop-color="#00ff00"/><stop offset="0.6695" stop-color="#00ffeb"/><stop offset="0.6726" stop-color="#00ffff"/><stop offset="0.6820" stop-color="#00e1ff"/><stop offset="0.6980" stop-color="#0080ff"/><stop offset="0.7144" stop-color="#2814ff"/><stop offset="0.7235" stop-color="#4600ff"/><stop offset="0.7326" stop-color="#6100ff"/><stop offset="0.7760" stop-color="#5d00ff"/><stop offset="0.8479" stop-color="#5400ff"/><stop offset="1.0000" stop-color="#5000ff"/></linearGradient>
<linearGradient id="b53" gradientUnits="userSpaceOnUse" x1="557.5" x2="1044" y1="0" y2="0"><stop offset="0.0000" stop-color="#41ff00"/><stop offset="0.0874" stop-color="#65ff00"/><stop offset="0.2066" stop-color="#6bff00"/><stop offset="0.3259" stop-color="#3dff00"/><stop offset="0.4327" stop-color="#07ff00"/><stop offset="0.4848" stop-color="#1aff00"/><stop offset="0.5349" stop-color="#ffff00"/><stop offset="0.5608" stop-color="#ffac00"/><stop offset="0.5756" stop-color="#ffaf00"/><stop offset="0.6184" stop-color="#ffff00"/><stop offset="0.6411" stop-color="#91ff00"/><stop offset="0.6557" stop-color="#00ff00"/><stop offset="0.6695" stop-color="#00ffeb"/><stop offset="0.6726" stop-color="#00ffff"/><stop offset="0.6820" stop-color="#00e1ff"/><stop offset="0.6981" stop-color="#0080ff"/><stop offset="0.7145" stop-color="#2814ff"/><stop offset="0.7238" stop-color="#4600ff"/><stop offset="0.7328" stop-color="#6000ff"/><stop offset="0.7760" stop-color="#5c00ff"/><stop offset="0.8479" stop-color="#5300ff"/><stop offset="1.0000" stop-color="#5000ff"/></linearGradient>
<linearGradient id="b54" gradientUnits="userSpaceOnUse" x1="557.5" x2="1044" y1="0" y2="0"><stop offset="0.0000" stop-color="#41ff00"/><stop offset="0.0874" stop-color="#66ff00"/><stop offset="0.2069" stop-color="#6cff00"/><stop offset="0.3265" stop-color="#3dff00"/><stop offset="0.4330" stop-color="#06ff00"/><stop offset="0.4840" stop-color="#1aff00"/><stop offset="0.5339" stop-color="#ffff00"/><stop offset="0.5598" stop-color="#ffac00"/><stop offset="0.5744" stop-color="#ffaf00"/><stop offset="0.6179" stop-color="#ffff00"/><stop offset="0.6409" stop-color="#91ff00"/><stop offset="0.6556" stop-color="#00ff00"/><stop offset="0.6694" stop-color="#00ffeb"/><stop offset="0.6726" stop-color="#00ffff"/><stop offset="0.6820" stop-color="#00e1ff"/><stop offset="0.6981" stop-color="#0080ff"/><stop offset="0.7146" stop-color="#2814ff"/><stop offset="0.7241" stop-color="#4600ff"/><stop offset="0.7330" stop-color="#5f00ff"/><stop offset="0.7760" stop-color="#5b00ff"/><stop offset="0.8479" stop-color="#5300ff"/><stop offset="1.0000" stop-color="#5000ff"/></linearGradient>
<linearGradient id="b55" gradientUnits="userSpaceOnUse" x1="557.5" x2="1044" y1="0" y2="0"><stop offset="0.0000" stop-color="#42ff00"/><stop offset="0.0874" stop-color="#67ff00"/><stop offset="0.2072" stop-color="#6dff00"/><stop offset="0.3271" stop-color="#3eff00"/><stop offset="0.4333" stop-color="#06ff00"/><stop offset="0.4831" stop-color="#1aff00"/><stop offset="0.5328" stop-color="#ffff00"/><stop offset="0.5589" stop-color="#ffac00"/><stop offset="0.5733" stop-color="#ffaf00"/><stop offset="0.6174" stop-color="#ffff00"/><stop offset="0.6407" stop-color="#91ff00"/><stop offset="0.6555" stop-color="#00ff00"/><stop offset="0.6694" stop-color="#00ffeb"/><stop offset="0.6726" stop-color="#00ffff"/><stop offset="0.6820" stop-color="#00e1ff"/><stop offset="0.6982" stop-color="#0080ff"/><stop offset="0.7148" stop-color="#2814ff"/><stop offset="0.7245" stop-color="#4600ff"/><stop offset="0.7331" stop-color="#5e00ff"/><stop offset="0.7760" stop-color="#5b00ff"/><stop offset="0.8479" stop-color="#5300ff"/><stop offset="1.0000" stop-color="#5000ff"/></linearGradient>
<linearGradient id="b56" gradientUnits="userSpaceOnUse" x1="557.5" x2="1044" y1="0" y2="0"><stop offset="0.0000" stop-color="#42ff00"/><stop offset="0.0874" stop-color="#68ff00"/><stop offset="0.2075" stop-color="#6eff00"/><stop offset="0.3277" stop-color="#3eff00"/><stop offset="0.4336" stop-color="#05ff00"/><stop offset="0.4823" stop-color="#1aff00"/><stop offset="0.5318" stop-color="#ffff00"/><stop offset="0.5579" stop-color="#ffac00"/><stop offset="0.5721" stop-color="#ffaf00"/><stop offset="0.6169" stop-color="#ffff00"/><stop offset="0.6404" stop-color="#91ff00"/><stop offset="0.6555" stop-color="#00ff00"/><stop offset="0.6694" stop-color="#00ffeb"/><stop offset="0.6725" stop-color="#00ffff"/><stop offset="0.6820" stop-color="#00e1ff"/><stop offset="0.6982" stop-color="#0080ff"/><stop offset="0.7149" stop-color="#2814ff"/><stop offset="0.7248" stop-color="#4600ff"/><stop offset="0.7333" stop-color="#5d00ff"/><stop offset="0.7760" stop-color="#5a00ff"/><stop offset="0.8479" stop-color="#5200ff"/><stop offset="1.0000" stop-color="#5000ff"/></linearGradient>
<linearGradient id="b57" gradientUnits="userSpaceOnUse" x1="557.5" x2="1044" y1="0" y2="0"><stop offset="0.0000" stop-color="#43ff00"/><stop offset="0.0874" stop-color="#69ff00"/><stop offset="0.2078" stop-color="#6fff00"/><stop offset="0.3283" stop-color="#3eff00"/><stop offset="0.4340" stop-color="#05ff00"/><stop offset="0.4815" stop-color="#1aff00"/><stop offset="0.5307" stop-color="#ffff00"/><stop offset="0.5569" stop-color="#ffac00"/><stop offset="0.5709" stop-color="#ffaf00"/><stop offset="0.6163" stop-color="#ffff00"/><stop offset="0.6402" stop-color="#91ff00"/><stop offset="0.6554" stop-color="#00ff00"/><stop offset="0.6693" stop-color="#00ffeb"/><stop offset="0.6725" stop-color="#00ffff"/><stop offset="0.6820" stop-color="#00e1ff"/><stop offset="0.6983" stop-color="#0080ff"/><stop offset="0.7151" stop-color="#2814ff"/><stop offset="0.7252" stop-color="#4600ff"/><stop offset="0.7334" stop-color="#5c00ff"/><stop offset="0.7760" stop-color="#5900ff"/><stop offset="0.8479" stop-color="#5200ff"/><stop offset="1.0000" stop-color="#5000ff"/></linearGradient>
<linearGradient id="b58" gradientUnits="userSpaceOnUse" x1="557.5" x2="1044" y1="0" y2="0"><stop offset="0.0000" stop-color="#43ff00"/><stop offset="0.0874" stop-color="#6aff00"/><stop offset="0.2082" stop-color="#70ff00"/><stop offset="0.3290" stop-color="#3fff00"/><stop offset="0.4343" stop-color="#04ff00"/><stop offset="0.4806" stop-color="#1aff00"/><stop offset="0.5297" stop-color="#ffff00"/><stop offset="0.5559" stop-color="#ffac00"/><stop offset="0.5698" stop-color="#ffb000"/><stop offset="0.6158" stop-color="#ffff00"/><stop offset="0.6400" stop-color="#91ff00"/><stop offset="0.6553" stop-color="#00ff00"/><stop offset="0.6693" stop-color="#00ffeb"/><stop offset="0.6725" stop-color="#00ffff"/><stop offset="0.6820" stop-color="#00e1ff"/><stop offset="0.6984" stop-color="#0080ff"/><stop offset="0.7152" stop-color="#2814ff"/><stop offset="0.7255" stop-color="#4600ff"/><stop offset="0.7336" stop-color="#5b00ff"/><stop offset="0.7760" stop-color="#5900ff"/><stop offset="0.8479" stop-color="#5200ff"/><stop offset="1.0000" stop-color="#5000ff"/></linearGradient>
<linearGradient id="b59" gradientUnits="userSpaceOnUse" x1="557.5" x2="1044" y1="0" y2="0"><stop offset="0.0000" stop-color="#43ff00"/><stop offset="0.0874" stop-color="#6bff00"/><stop offset="0.2085" stop-color="#71ff00"/><stop offset="0.3296" stop-color="#3fff00"/><stop offset="0.4346" stop-color="#04ff00"/><stop offset="0.4798" stop-color="#1aff00"/><stop offset="0.5286" stop-color="#ffff00"/><stop offset="0.5549" stop-color="#ffac00"/><stop offset="0.5686" stop-color="#ffb000"/><stop offset="0.6153" stop-color="#ffff00"/><stop offset="0.6398" stop-color="#91ff00"/><stop offset="0.6552" stop-color="#00ff00"/><stop offset="0.6693" stop-color="#00ffeb"/><stop offset="0.6725" stop-color="#00ffff"/><stop offset="0.6820" stop-color="#00e1ff"/><stop offset="0.6984" stop-color="#0080ff"/><stop offset="0.7153" stop-color="#2814ff"/><stop offset="0.7259" stop-color="#4600ff"/><stop offset="0.7337" stop-color="#5a00ff"/><stop offset="0.7760" stop-color="#5800ff"/><stop offset="0.8479" stop-color="#5100ff"/><stop offset="1.0000" stop-color="#4f00ff"/></linearGradient>
<linearGradient id="b60" gradientUnits="userSpaceOnUse" x1="557.5" x2="1044" y1="0" y2="0"><stop offset="0.0000" stop-color="#44ff00"/><stop offset="0.0874" stop-color="#6cff00"/><stop offset="0.2088" stop-color="#72ff00"/><stop offset="0.3302" stop-color="#3fff00"/><stop offset="0.4349" stop-color="#03ff00"/><stop offset="0.4790" stop-color="#19ff00"/><stop offset="0.5276" stop-color="#ffff00"/><stop offset="0.5539" stop-color="#ffac00"/><stop offset="0.5674" stop-color="#ffb000"/><stop offset="0.6148" stop-color="#ffff00"/><stop offset="0.6396" stop-color="#91ff00"/><stop offset="0.6552" stop-color="#00ff00"/><stop offset="0.6693" stop-color="#00ffeb"/><stop offset="0.6724" stop-color="#00ffff"/><stop offset="0.6820" stop-color="#00e1ff"/><stop offset="0.6985" stop-color="#0080ff"/><stop offset="0.7155" stop-color="#2814ff"/><stop offset="0.7263" stop-color="#4600ff"/><stop offset="0.7339" stop-color="#5900ff"/><stop offset="0.7760" stop-color="#5700ff"/><stop offset="0.8479" stop-color="#5100ff"/><stop offset="1.0000" stop-color="#4f00ff"/></linearGradient>
<linearGradient id="b61" gradientUnits="userSpaceOnUse" x1="557.5" x2="1044" y1="0" y2="0"><stop offset="0.0000" stop-color="#44ff00"/><stop offset="0.0874" stop-color="#6eff00"/><stop offset="0.2091" stop-color="#73ff00"/><stop offset="0.3308" stop-color="#3fff00"/><stop offset="0.4352" stop-color="#03ff00"/><stop offset="0.4781" stop-color="#19ff00"/><stop offset="0.5265" stop-color="#ffff00"/><stop offset="0.5529" stop-color="#ffac00"/><stop offset="0.5662" stop-color="#ffb000"/><stop offset="0.6142" stop-color="#ffff00"/><stop offset="0.6394" stop-color="#91ff00"/><stop offset="0.6551" stop-color="#00ff00"/><stop offset="0.6692" stop-color="#00ffeb"/><stop offset="0.6724" stop-color="#00ffff"/><stop offset="0.6820" stop-color="#00e1ff"/><stop offset="0.6985" stop-color="#0080ff"/><stop offset="0.7156" stop-color="#2814ff"/><stop offset="0.7267" stop-color="#4600ff"/><stop offset="0.7340" stop-color="#5800ff"/><stop offset="0.7760" stop-color="#5600ff"/><stop offset="0.8479" stop-color="#5100ff"/><stop offset="1.0000" stop-color="#4f00ff"/></linearGradient>
<linearGradient id="b62" gradientUnits="userSpaceOnUse" x1="557.5" x2="1044" y1="0" y2="0"><stop offset="0.0000" stop-color="#44ff00"/><stop offset="0.0874" stop-color="#6fff00"/><stop offset="0.2094" stop-color="#74ff00"/><stop offset="0.3314" stop-color="#40ff00"/><stop offset="0.4355" stop-color="#02ff00"/><stop offset="0.4773" stop-color="#19ff00"/><stop offset="0.5255" stop-color="#ffff00"/><stop offset="0.5520" stop-color="#ffac00"/><stop offset="0.5651" stop-color="#ffb000"/><stop offset="0.6137" stop-color="#ffff00"/><stop offset="0.6391" stop-color="#91ff00"/><stop offset="0.6550" stop-color="#00ff00"/><stop offset="0.6692" stop-color="#00ffeb"/><stop offset="0.6724" stop-color="#00ffff"/><stop offset="0.6820" stop-color="#00e1ff"/><stop offset="0.6986" stop-color="#0080ff"/><stop offset="0.7158" stop-color="#2814ff"/><stop offset="0.7271" stop-color="#4600ff"/><stop offset="0.7342" stop-color="#5700ff"/><stop offset="0.7760" stop-color="#5600ff"/><stop offset="0.8479" stop-color="#5000ff"/><stop offset="1.0000" stop-color="#4f00ff"/></linearGradient>
<linearGradient id="b63" gradientUnits="userSpaceOnUse" x1="557.5" x2="1044" y1="0" y2="0"><stop offset="0.0000" stop-color="#45ff00"/><stop offset="0.0874" stop-color="#70ff00"/><stop offset="0.2097" stop-color="#75ff00"/><stop offset="0.3320" stop-color="#40ff00"/><stop offset="0.4358" stop-color="#02ff00"/><stop offset="0.4765" stop-color="#19ff00"/><stop offset="0.5244" stop-color="#ffff00"/><stop offset="0.5510" stop-color="#ffac00"/><stop offset="0.5639" stop-color="#ffb000"/><stop offset="0.6132" stop-color="#ffff00"/><stop offset="0.6389" stop-color="#91ff00"/><stop offset="0.6549" stop-color="#00ff00"/><stop offset="0.6692" stop-color="#00ffeb"/><stop offset="0.6724" stop-color="#00ffff"/><stop offset="0.6820" stop-color="#00e1ff"/><stop offset="0.6987" stop-color="#0080ff"/><stop offset="0.7159" stop-color="#2814ff"/><stop offset="0.7275" stop-color="#4600ff"/><stop offset="0.7343" stop-color="#5600ff"/><stop offset="0.7760" stop-color="#5500ff"/><stop offset="0.8479" stop-color="#5000ff"/><stop offset="1.0000" stop-color="#4f00ff"/></linearGradient>
<linearGradient id="b64" gradientUnits="userSpaceOnUse" x1="557.5" x2="1044" y1="0" y2="0"><stop offset="0.0000" stop-color="#45ff00"/><stop offset="0.0874" stop-color="#71ff00"/><stop offset="0.2100" stop-color="#76ff00"/><stop offset="0.3326" stop-color="#40ff00"/><stop offset="0.4361" stop-color="#01ff00"/><stop offset="0.4756" stop-color="#19ff00"/><stop offset="0.5234" stop-color="#ffff00"/><stop offset="0.5500" stop-color="#ffac00"/><stop offset="0.5627" stop-color="#ffb100"/><stop offset="0.6127" stop-color="#ffff00"/><stop offset="0.6387" stop-color="#91ff00"/><stop offset="0.6548" stop-color="#00ff00"/><stop offset="0.6691" stop-color="#00ffeb"/><stop offset="0.6724" stop-color="#00ffff"/><stop offset="0.6820" stop-color="#00e1ff"/><stop offset="0.6987" stop-color="#0080ff"/><stop offset="0.7160" stop-color="#2814ff"/><stop offset="0.7279" stop-color="#4600ff"/><stop offset="0.7345" stop-color="#5500ff"/><stop offset="0.7760" stop-color="#5400ff"/><stop offset="0.8479" stop-color="#5000ff"/><stop offset="1.0000" stop-color="#4f00ff"/></linearGradient>
<linearGradient id="b65" gradientUnits="userSpaceOnUse" x1="557.5" x2="1044" y1="0" y2="0"><stop offset="0.0000" stop-color="#46ff00"/><stop offset="0.0874" stop-color="#72ff00"/><stop offset="0.2103" stop-color="#77ff00"/><stop offset="0.3333" stop-color="#41ff00"/><stop offset="0.4364" stop-color="#01ff00"/><stop offset="0.4748" stop-color="#19ff00"/><stop offset="0.5224" stop-color="#ffff00"/><stop offset="0.5490" stop-color="#ffac00"/><stop offset="0.5616" stop-color="#ffb100"/><stop offset="0.6122" stop-color="#ffff00"/><stop offset="0.6385" stop-color="#91ff00"/><stop offset="0.6548" stop-color="#00ff00"/><stop offset="0.6691" stop-color="#00ffeb"/><stop offset="0.6723" stop-color="#00ffff"/><stop offset="0.6820" stop-color="#00e1ff"/><stop offset="0.6988" stop-color="#0080ff"/><stop offset="0.7162" stop-color="#2814ff"/><stop offset="0.7284" stop-color="#4600ff"/><stop offset="0.7347" stop-color="#5400ff"/><stop offset="0.7760" stop-color="#5400ff"/><stop offset="0.8479" stop-color="#4f00ff"/><stop offset="1.0000" stop-color="#4f00ff"/></linearGradient>
<linearGradient id="b66" gradientUnits="userSpaceOnUse" x1="557.5" x2="1044" y1="0" y2="0"><stop offset="0.0000" stop-color="#46ff00"/><stop offset="0.0874" stop-color="#73ff00"/><stop offset="0.2106" stop-color="#78ff00"/><stop offset="0.3339" stop-color="#41ff00"/><stop offset="0.4367" stop-color="#00ff00"/><stop offset="0.4740" stop-color="#19ff00"/><stop offset="0.5213" stop-color="#ffff00"/><stop offset="0.5480" stop-color="#ffac00"/><stop offset="0.5604" stop-color="#ffb100"/><stop offset="0.6116" stop-color="#ffff00"/><stop offset="0.6383" stop-color="#91ff00"/><stop offset="0.6547" stop-color="#00ff00"/><stop offset="0.6691" stop-color="#00ffeb"/><stop offset="0.6723" stop-color="#00ffff"/><stop offset="0.6820" stop-color="#00e1ff"/><stop offset="0.6989" stop-color="#0080ff"/><stop offset="0.7163" stop-color="#2814ff"/><stop offset="0.7288" stop-color="#4600ff"/><stop offset="0.7348" stop-color="#5300ff"/><stop offset="0.7760" stop-color="#5300ff"/><stop offset="0.8479" stop-color="#4f00ff"/><stop offset="1.0000" stop-color="#4f00ff"/></linearGradient>
<linearGradient id="b67" gradientUnits="userSpaceOnUse" x1="557.5" x2="1044" y1="0" y2="0"><stop offset="0.0000" stop-color="#46ff00"/><stop offset="0.0874" stop-color="#73ff00"/><stop offset="0.2116" stop-color="#78ff00"/><stop offset="0.3347" stop-color="#41ff00"/><stop offset="0.4374" stop-color="#01ff00"/><stop offset="0.4744" stop-color="#1aff00"/><stop offset="0.5214" stop-color="#fdff00"/><stop offset="0.5217" stop-color="#ffff00"/><stop offset="0.5481" stop-color="#ffae00"/><stop offset="0.5606" stop-color="#ffb300"/><stop offset="0.6111" stop-color="#ffff00"/><stop offset="0.6117" stop-color="#fdff00"/><stop offset="0.6382" stop-color="#91ff00"/><stop offset="0.6546" stop-color="#00ff00"/><stop offset="0.6690" stop-color="#00ffeb"/><stop offset="0.6722" stop-color="#00ffff"/><stop offset="0.6820" stop-color="#00e0ff"/><stop offset="0.6988" stop-color="#0080ff"/><stop offset="0.7162" stop-color="#2814ff"/><stop offset="0.7285" stop-color="#4600ff"/><stop offset="0.7347" stop-color="#5400ff"/><stop offset="0.7758" stop-color="#5300ff"/><stop offset="0.8473" stop-color="#4f00ff"/><stop offset="1.0000" stop-color="#4f00ff"/></linearGradient>
<linearGradient id="b68" gradientUnits="userSpaceOnUse" x1="557.5" x2="1044" y1="0" y2="0"><stop offset="0.0000" stop-color="#46ff00"/><stop offset="0.0874" stop-color="#73ff00"/><stop offset="0.2129" stop-color="#78ff00"/><stop offset="0.3355" stop-color="#40ff00"/><stop offset="0.4382" stop-color="#01ff00"/><stop offset="0.4752" stop-color="#1bff00"/><stop offset="0.5219" stop-color="#fbff00"/><stop offset="0.5225" stop-color="#ffff00"/><stop offset="0.5486" stop-color="#ffb100"/><stop offset="0.5612" stop-color="#ffb600"/><stop offset="0.6106" stop-color="#ffff00"/><stop offset="0.6119" stop-color="#fbff00"/><stop offset="0.6381" stop-color="#90ff00"/><stop offset="0.6545" stop-color="#00ff00"/><stop offset="0.6689" stop-color="#00ffeb"/><stop offset="0.6722" stop-color="#00ffff"/><stop offset="0.6820" stop-color="#00e0ff"/><stop offset="0.6986" stop-color="#0080ff"/><stop offset="0.7159" stop-color="#2814ff"/><stop offset="0.7279" stop-color="#4600ff"/><stop offset="0.7345" stop-color="#5500ff"/><stop offset="0.7756" stop-color="#5400ff"/><stop offset="0.8464" stop-color="#4f00ff"/><stop offset="1.0000" stop-color="#4f00ff"/></linearGradient>
<linearGradient id="b69" gradientUnits="userSpaceOnUse" x1="557.5" x2="1044" y1="0" y2="0"><stop offset="0.0000" stop-color="#47ff00"/><stop offset="0.0874" stop-color="#72ff00"/><stop offset="0.2141" stop-color="#77ff00"/><stop offset="0.3363" stop-color="#40ff00"/><stop offset="0.4391" stop-color="#02ff00"/><stop offset="0.4761" stop-color="#1cff00"/><stop offset="0.5223" stop-color="#f9ff00"/><stop offset="0.5234" stop-color="#ffff00"/><stop offset="0.5490" stop-color="#ffb300"/><stop offset="0.5618" stop-color="#ffb800"/><stop offset="0.6100" stop-color="#ffff00"/><stop offset="0.6121" stop-color="#f9ff00"/><stop offset="0.6380" stop-color="#90ff00"/><stop offset="0.6543" stop-color="#00ff00"/><stop offset="0.6688" stop-color="#00ffeb"/><stop offset="0.6721" stop-color="#00ffff"/><stop offset="0.6820" stop-color="#00e0ff"/><stop offset="0.6985" stop-color="#0080ff"/><stop offset="0.7157" stop-color="#2814ff"/><stop offset="0.7273" stop-color="#4600ff"/><stop offset="0.7344" stop-color="#5700ff"/><stop offset="0.7754" stop-color="#5400ff"/><stop offset="0.8456" stop-color="#5000ff"/><stop offset="1.0000" stop-color="#4f00ff"/></linearGradient>
<linearGradient id="b70" gradientUnits="userSpaceOnUse" x1="557.5" x2="1044" y1="0" y2="0"><stop offset="0.0000" stop-color="#47ff00"/><stop offset="0.0874" stop-color="#72ff00"/><stop offset="0.2153" stop-color="#77ff00"/><stop offset="0.3371" stop-color="#3fff00"/><stop offset="0.4399" stop-color="#03ff00"/><stop offset="0.4769" stop-color="#1eff00"/><stop offset="0.5228" stop-color="#f7ff00"/><stop offset="0.5243" stop-color="#ffff00"/><stop offset="0.5495" stop-color="#ffb600"/><stop offset="0.5624" stop-color="#ffbb00"/><stop offset="0.6094" stop-color="#ffff00"/><stop offset="0.6123" stop-color="#f7ff00"/><stop offset="0.6379" stop-color="#8fff00"/><stop offset="0.6542" stop-color="#00ff00"/><stop offset="0.6688" stop-color="#00ffeb"/><stop offset="0.6720" stop-color="#00ffff"/><stop offset="0.6820" stop-color="#00e0ff"/><stop offset="0.6983" stop-color="#0080ff"/><stop offset="0.7154" stop-color="#2814ff"/><stop offset="0.7268" stop-color="#4600ff"/><stop offset="0.7342" stop-color="#5800ff"/><stop offset="0.7752" stop-color="#5500ff"/><stop offset="0.8448" stop-color="#5000ff"/><stop offset="1.0000" stop-color="#4f00ff"/></linearGradient>
<linearGradient id="b71" gradientUnits="userSpaceOnUse" x1="557.5" x2="1044" y1="0" y2="0"><stop offset="0.0000" stop-color="#47ff00"/><stop offset="0.0874" stop-color="#72ff00"/><stop offset="0.2166" stop-color="#77ff00"/><stop offset="0.3379" stop-color="#3fff00"/><stop offset="0.4407" stop-color="#04ff00"/><stop offset="0.4777" stop-color="#1fff00"/><stop offset="0.5232" stop-color="#f5ff00"/><stop offset="0.5251" stop-color="#ffff00"/><stop offset="0.5499" stop-color="#ffb900"/><stop offset="0.5631" stop-color="#ffbd00"/><stop offset="0.6089" stop-color="#ffff00"/><stop offset="0.6125" stop-color="#f5ff00"/><stop offset="0.6378" stop-color="#8fff00"/><stop offset="0.6541" stop-color="#00ff00"/><stop offset="0.6687" stop-color="#00ffeb"/><stop offset="0.6719" stop-color="#00ffff"/><stop offset="0.6820" stop-color="#00e0ff"/><stop offset="0.6982" stop-color="#0080ff"/><stop offset="0.7152" stop-color="#2814ff"/><stop offset="0.7262" stop-color="#4600ff"/><stop offset="0.7341" stop-color="#5900ff"/><stop offset="0.7750" stop-color="#5500ff"/><stop offset="0.8440" stop-color="#5000ff"/><stop offset="1.0000" stop-color="#4f00ff"/></linearGradient>
<linearGradient id="b72" gradientUnits="userSpaceOnUse" x1="557.5" x2="1044" y1="0" y2="0"><stop offset="0.0000" stop-color="#47ff00"/><stop offset="0.0874" stop-color="#72ff00"/><stop offset="0.2178" stop-color="#77ff00"/><stop offset="0.3388" stop-color="#3fff00"/><stop offset="0.4415" stop-color="#05ff00"/><stop offset="0.4785" stop-color="#20ff00"/><stop offset="0.5237" stop-color="#f2ff00"/><stop offset="0.5260" stop-color="#ffff00"/><stop offset="0.5504" stop-color="#ffbb00"/><stop offset="0.5637" stop-color="#ffc000"/><stop offset="0.6082" stop-color="#ffff00"/><stop offset="0.6127" stop-color="#f3ff00"/><stop offset="0.6378" stop-color="#8fff00"/><stop offset="0.6540" stop-color="#00ff00"/><stop offset="0.6686" stop-color="#00ffeb"/><stop offset="0.6719" stop-color="#00ffff"/><stop offset="0.6820" stop-color="#00dfff"/><stop offset="0.6980" stop-color="#0080ff"/><stop offset="0.7149" stop-color="#2814ff"/><stop offset="0.7257" stop-color="#4600ff"/><stop offset="0.7339" stop-color="#5b00ff"/><stop offset="0.7748" stop-color="#5600ff"/><stop offset="0.8432" stop-color="#5000ff"/><stop offset="1.0000" stop-color="#4f00ff"/></linearGradient>
<linearGradient id="b73" gradientUnits="userSpaceOnUse" x1="557.5" x2="1044" y1="0" y2="0"><stop offset="0.0000" stop-color="#47ff00"/><stop offset="0.0874" stop-color="#72ff00"/><stop offset="0.2190" stop-color="#77ff00"/><stop offset="0.3396" stop-color="#3eff00"/><stop offset="0.4424" stop-color="#05ff00"/><stop offset="0.4794" stop-color="#21ff00"/><stop offset="0.5241" stop-color="#f0ff00"/><stop offset="0.5270" stop-color="#ffff00"/><stop offset="0.5508" stop-color="#ffbe00"/><stop offset="0.5643" stop-color="#ffc300"/><stop offset="0.6076" stop-color="#ffff00"/><stop offset="0.6129" stop-color="#f1ff00"/><stop offset="0.6377" stop-color="#8eff00"/><stop offset="0.6538" stop-color="#00ff00"/><stop offset="0.6685" stop-color="#00ffeb"/><stop offset="0.6718" stop-color="#00ffff"/><stop offset="0.6820" stop-color="#00dfff"/><stop offset="0.6979" stop-color="#0080ff"/><stop offset="0.7147" stop-color="#2814ff"/><stop offset="0.7252" stop-color="#4600ff"/><stop offset="0.7337" stop-color="#5c00ff"/><stop offset="0.7746" stop-color="#5700ff"/><stop offset="0.8423" stop-color="#5100ff"/><stop offset="1.0000" stop-color="#4f00ff"/></linearGradient>
<linearGradient id="b74" gradientUnits="userSpaceOnUse" x1="557.5" x2="1044" y1="0" y2="0"><stop offset="0.0000" stop-color="#48ff00"/><stop offset="0.0874" stop-color="#71ff00"/><stop offset="0.2203" stop-color="#76ff00"/><stop offset="0.3404" stop-color="#3eff00"/><stop offset="0.4432" stop-color="#06ff00"/><stop offset="0.4802" stop-color="#22ff00"/><stop offset="0.5246" stop-color="#eeff00"/><stop offset="0.5279" stop-color="#ffff00"/><stop offset="0.5513" stop-color="#ffc100"/><stop offset="0.5649" stop-color="#ffc500"/><stop offset="0.6069" stop-color="#ffff00"/><stop offset="0.6131" stop-color="#efff00"/><stop offset="0.6376" stop-color="#8eff00"/><stop offset="0.6537" stop-color="#00ff00"/><stop offset="0.6684" stop-color="#00ffeb"/><stop offset="0.6717" stop-color="#00ffff"/><stop offset="0.6820" stop-color="#00dfff"/><stop offset="0.6978" stop-color="#0080ff"/><stop offset="0.7144" stop-color="#2814ff"/><stop offset="0.7247" stop-color="#4600ff"/><stop offset="0.7336" stop-color="#5d00ff"/><stop offset="0.7744" stop-color="#5700ff"/><stop offset="0.8415" stop-color="#5100ff"/><stop offset="1.0000" stop-color="#4f00ff"/></linearGradient>
<linearGradient id="b75" gradientUnits="userSpaceOnUse" x1="557.5" x2="1044" y1="0" y2="0"><stop offset="0.0000" stop-color="#48ff00"/><stop offset="0.0874" stop-color="#71ff00"/><stop offset="0.2215" stop-color="#76ff00"/><stop offset="0.3412" stop-color="#3dff00"/><stop offset="0.4440" stop-color="#07ff00"/><stop offset="0.4810" stop-color="#24ff00"/><stop offset="0.5250" stop-color="#ecff00"/><stop offset="0.5289" stop-color="#ffff00"/><stop offset="0.5518" stop-color="#ffc300"/><stop offset="0.5655" stop-color="#ffc800"/><stop offset="0.6063" stop-color="#ffff00"/><stop offset="0.6133" stop-color="#edff00"/><stop offset="0.6375" stop-color="#8dff00"/><stop offset="0.6536" stop-color="#00ff00"/><stop offset="0.6683" stop-color="#00ffeb"/><stop offset="0.6716" stop-color="#00ffff"/><stop offset="0.6820" stop-color="#00dfff"/><stop offset="0.6976" stop-color="#0080ff"/><stop offset="0.7142" stop-color="#2814ff"/><stop offset="0.7242" stop-color="#4600ff"/><stop offset="0.7334" stop-color="#5f00ff"/><stop offset="0.7742" stop-color="#5800ff"/><stop offset="0.8407" stop-color="#5100ff"/><stop offset="1.0000" stop-color="#4f00ff"/></linearGradient>
<linearGradient id="b76" gradientUnits="userSpaceOnUse" x1="557.5" x2="1044" y1="0" y2="0"><stop offset="0.0000" stop-color="#48ff00"/><stop offset="0.0874" stop-color="#71ff00"/><stop offset="0.2227" stop-color="#76ff00"/><stop offset="0.3420" stop-color="#3dff00"/><stop offset="0.4448" stop-color="#08ff00"/><stop offset="0.4818" stop-color="#25ff00"/><stop offset="0.5255" stop-color="#eaff00"/><stop offset="0.5299" stop-color="#ffff00"/><stop offset="0.5522" stop-color="#ffc600"/><stop offset="0.5661" stop-color="#ffca00"/><stop offset="0.6055" stop-color="#ffff00"/><stop offset="0.6135" stop-color="#ebff00"/><stop offset="0.6374" stop-color="#8dff00"/><stop offset="0.6535" stop-color="#00ff00"/><stop offset="0.6683" stop-color="#00ffeb"/><stop offset="0.6715" stop-color="#00ffff"/><stop offset="0.6820" stop-color="#00dfff"/><stop offset="0.6975" stop-color="#0080ff"/><stop offset="0.7139" stop-color="#2814ff"/><stop offset="0.7238" stop-color="#4600ff"/><stop offset="0.7332" stop-color="#6000ff"/><stop offset="0.7739" stop-color="#5800ff"/><stop offset="0.8399" stop-color="#5100ff"/><stop offset="1.0000" stop-color="#4f00ff"/></linearGradient>
<linearGradient id="b77" gradientUnits="userSpaceOnUse" x1="557.5" x2="1044" y1="0" y2="0"><stop offset="0.0000" stop-color="#48ff00"/><stop offset="0.0874" stop-color="#71ff00"/><stop offset="0.2240" stop-color="#76ff00"/><stop offset="0.3429" stop-color="#3dff00"/><stop offset="0.4456" stop-color="#09ff00"/><stop offset="0.4826" stop-color="#26ff00"/><stop offset="0.5259" stop-color="#e7ff00"/><stop offset="0.5309" stop-color="#ffff00"/><stop offset="0.5527" stop-color="#ffc900"/><stop offset="0.5668" stop-color="#ffcd00"/><stop offset="0.6048" stop-color="#ffff00"/><stop offset="0.6137" stop-color="#e8ff00"/><stop offset="0.6373" stop-color="#8dff00"/><stop offset="0.6534" stop-color="#00ff00"/><stop offset="0.6682" stop-color="#00ffeb"/><stop offset="0.6715" stop-color="#00ffff"/><stop offset="0.6820" stop-color="#00deff"/><stop offset="0.6973" stop-color="#0080ff"/><stop offset="0.7137" stop-color="#2814ff"/><stop offset="0.7233" stop-color="#4600ff"/><stop offset="0.7331" stop-color="#6200ff"/><stop offset="0.7737" stop-color="#5900ff"/><stop offset="0.8391" stop-color="#5100ff"/><stop offset="1.0000" stop-color="#4f00ff"/></linearGradient>
<linearGradient id="b78" gradientUnits="userSpaceOnUse" x1="557.5" x2="1044" y1="0" y2="0"><stop offset="0.0000" stop-color="#48ff00"/><stop offset="0.0874" stop-color="#71ff00"/><stop offset="0.2252" stop-color="#76ff00"/><stop offset="0.3437" stop-color="#3cff00"/><stop offset="0.4465" stop-color="#09ff00"/><stop offset="0.4835" stop-color="#27ff00"/><stop offset="0.5264" stop-color="#e5ff00"/><stop offset="0.5319" stop-color="#ffff00"/><stop offset="0.5531" stop-color="#ffcc00"/><stop offset="0.5674" stop-color="#ffd000"/><stop offset="0.6040" stop-color="#ffff00"/><stop offset="0.6139" stop-color="#e6ff00"/><stop offset="0.6373" stop-color="#8cff00"/><stop offset="0.6532" stop-color="#00ff00"/><stop offset="0.6681" stop-color="#00ffeb"/><stop offset="0.6714" stop-color="#00ffff"/><stop offset="0.6820" stop-color="#00deff"/><stop offset="0.6972" stop-color="#0080ff"/><stop offset="0.7134" stop-color="#2814ff"/><stop offset="0.7229" stop-color="#4600ff"/><stop offset="0.7329" stop-color="#6300ff"/><stop offset="0.7735" stop-color="#5a00ff"/><stop offset="0.8382" stop-color="#5200ff"/><stop offset="1.0000" stop-color="#4f00ff"/></linearGradient>
<linearGradient id="b79" gradientUnits="userSpaceOnUse" x1="557.5" x2="1044" y1="0" y2="0"><stop offset="0.0000" stop-color="#49ff00"/><stop offset="0.0874" stop-color="#70ff00"/><stop offset="0.2264" stop-color="#75ff00"/><stop offset="0.3445" stop-color="#3cff00"/><stop offset="0.4473" stop-color="#0aff00"/><stop offset="0.4843" stop-color="#28ff00"/><stop offset="0.5268" stop-color="#e3ff00"/><stop offset="0.5330" stop-color="#ffff00"/><stop offset="0.5536" stop-color="#ffce00"/><stop offset="0.5680" stop-color="#ffd200"/><stop offset="0.6032" stop-color="#ffff00"/><stop offset="0.6141" stop-color="#e4ff00"/><stop offset="0.6372" stop-color="#8cff00"/><stop offset="0.6531" stop-color="#00ff00"/><stop offset="0.6680" stop-color="#00ffeb"/><stop offset="0.6713" stop-color="#00ffff"/><stop offset="0.6820" stop-color="#00deff"/><stop offset="0.6970" stop-color="#0080ff"/><stop offset="0.7132" stop-color="#2814ff"/><stop offset="0.7224" stop-color="#4600ff"/><stop offset="0.7327" stop-color="#6400ff"/><stop offset="0.7733" stop-color="#5a00ff"/><stop offset="0.8374" stop-color="#5200ff"/><stop offset="1.0000" stop-color="#4f00ff"/></linearGradient>
<linearGradient id="b80" gradientUnits="userSpaceOnUse" x1="557.5" x2="1044" y1="0" y2="0"><stop offset="0.0000" stop-color="#49ff00"/><stop offset="0.0874" stop-color="#70ff00"/><stop offset="0.2276" stop-color="#75ff00"/><stop offset="0.3453" stop-color="#3cff00"/><stop offset="0.4481" stop-color="#0bff00"/><stop offset="0.4851" stop-color="#29ff00"/><stop offset="0.5273" stop-color="#e1ff00"/><stop offset="0.5341" stop-color="#ffff00"/><stop offset="0.5540" stop-color="#ffd100"/><stop offset="0.5686" stop-color="#ffd500"/><stop offset="0.6023" stop-color="#ffff00"/><stop offset="0.6143" stop-color="#e2ff00"/><stop offset="0.6371" stop-color="#8cff00"/><stop offset="0.6530" stop-color="#00ff00"/><stop offset="0.6679" stop-color="#00ffeb"/><stop offset="0.6712" stop-color="#00ffff"/><stop offset="0.6820" stop-color="#00deff"/><stop offset="0.6969" stop-color="#0080ff"/><stop offset="0.7130" stop-color="#2814ff"/><stop offset="0.7220" stop-color="#4600ff"/><stop offset="0.7326" stop-color="#6600ff"/><stop offset="0.7731" stop-color="#5b00ff"/><stop offset="0.8366" stop-color="#5200ff"/><stop offset="1.0000" stop-color="#4f00ff"/></linearGradient>
<linearGradient id="b81" gradientUnits="userSpaceOnUse" x1="557.5" x2="1044" y1="0" y2="0"><stop offset="0.0000" stop-color="#49ff00"/><stop offset="0.0874" stop-color="#70ff00"/><stop offset="0.2289" stop-color="#75ff00"/><stop offset="0.3461" stop-color="#3bff00"/><stop offset="0.4489" stop-color="#0cff00"/><stop offset="0.4859" stop-color="#2bff00"/><stop offset="0.5277" stop-color="#dfff00"/><stop offset="0.5352" stop-color="#ffff00"/><stop offset="0.5545" stop-color="#ffd400"/><stop offset="0.5692" stop-color="#ffd700"/><stop offset="0.6015" stop-color="#ffff00"/><stop offset="0.6145" stop-color="#e0ff00"/><stop offset="0.6370" stop-color="#8bff00"/><stop offset="0.6529" stop-color="#00ff00"/><stop offset="0.6679" stop-color="#00ffeb"/><stop offset="0.6711" stop-color="#00ffff"/><stop offset="0.6820" stop-color="#00deff"/><stop offset="0.6967" stop-color="#0080ff"/><stop offset="0.7127" stop-color="#2814ff"/><stop offset="0.7216" stop-color="#4600ff"/><stop offset="0.7324" stop-color="#6700ff"/><stop offset="0.7729" stop-color="#5b00ff"/><stop offset="0.8358" stop-color="#5200ff"/><stop offset="1.0000" stop-color="#4f00ff"/></linearGradient>
<linearGradient id="b82" gradientUnits="userSpaceOnUse" x1="557.5" x2="1044" y1="0" y2="0"><stop offset="0.0000" stop-color="#49ff00"/><stop offset="0.0874" stop-color="#70ff00"/><stop offset="0.2301" stop-color="#75ff00"/><stop offset="0.3470" stop-color="#3bff00"/><stop offset="0.4497" stop-color="#0dff00"/><stop offset="0.4867" stop-color="#2cff00"/><stop offset="0.5282" stop-color="#dcff00"/><stop offset="0.5364" stop-color="#ffff00"/><stop offset="0.5549" stop-color="#ffd600"/><stop offset="0.5698" stop-color="#ffda00"/><stop offset="0.6005" stop-color="#ffff00"/><stop offset="0.6147" stop-color="#deff00"/><stop offset="0.6369" stop-color="#8bff00"/><stop offset="0.6527" stop-color="#00ff00"/><stop offset="0.6678" stop-color="#00ffeb"/><stop offset="0.6711" stop-color="#00ffff"/><stop offset="0.6820" stop-color="#00ddff"/><stop offset="0.6966" stop-color="#0080ff"/><stop offset="0.7125" stop-color="#2814ff"/><stop offset="0.7212" stop-color="#4600ff"/><stop offset="0.7323" stop-color="#6800ff"/><stop offset="0.7727" stop-color="#5c00ff"/><stop offset="0.8349" stop-color="#5300ff"/><stop offset="1.0000" stop-color="#4f00ff"/></linearGradient>
<linearGradient id="b83" gradientUnits="userSpaceOnUse" x1="557.5" x2="1044" y1="0" y2="0"><stop offset="0.0000" stop-color="#49ff00"/><stop offset="0.0874" stop-color="#70ff00"/><stop offset="0.2313" stop-color="#75ff00"/><stop offset="0.3478" stop-color="#3aff00"/><stop offset="0.4506" stop-color="#0dff00"/><stop offset="0.4876" stop-color="#2dff00"/><stop offset="0.5286" stop-color="#daff00"/><stop offset="0.5376" stop-color="#ffff00"/><stop offset="0.5554" stop-color="#ffd900"/><stop offset="0.5704" stop-color="#ffdd00"/><stop offset="0.5995" stop-color="#ffff00"/><stop offset="0.6150" stop-color="#dcff00"/><stop offset="0.6369" stop-color="#8aff00"/><stop offset="0.6526" stop-color="#00ff00"/><stop offset="0.6677" stop-color="#00ffeb"/><stop offset="0.6710" stop-color="#00ffff"/><stop offset="0.6820" stop-color="#00ddff"/><stop offset="0.6965" stop-color="#0080ff"/><stop offset="0.7122" stop-color="#2814ff"/><stop offset="0.7208" stop-color="#4600ff"/><stop offset="0.7321" stop-color="#6a00ff"/><stop offset="0.7725" stop-color="#5c00ff"/><stop offset="0.8341" stop-color="#5300ff"/><stop offset="1.0000" stop-color="#4f00ff"/></linearGradient>
<linearGradient id="b84" gradientUnits="userSpaceOnUse" x1="557.5" x2="1044" y1="0" y2="0"><stop offset="0.0000" stop-color="#4aff00"/><stop offset="0.0874" stop-color="#6fff00"/><stop offset="0.2326" stop-color="#74ff00"/><stop offset="0.3486" stop-color="#3aff00"/><stop offset="0.4514" stop-color="#0eff00"/><stop offset="0.4884" stop-color="#2eff00"/><stop offset="0.5291" stop-color="#d8ff00"/><stop offset="0.5389" stop-color="#ffff00"/><stop offset="0.5558" stop-color="#ffdc00"/><stop offset="0.5711" stop-color="#ffdf00"/><stop offset="0.5985" stop-color="#ffff00"/><stop offset="0.6152" stop-color="#daff00"/><stop offset="0.6368" stop-color="#8aff00"/><stop offset="0.6525" stop-color="#00ff00"/><stop offset="0.6676" stop-color="#00ffeb"/><stop offset="0.6709" stop-color="#00ffff"/><stop offset="0.6820" stop-color="#00ddff"/><stop offset="0.6963" stop-color="#0080ff"/><stop offset="0.7120" stop-color="#2814ff"/><stop offset="0.7204" stop-color="#4600ff"/><stop offset="0.7319" stop-color="#6b00ff"/><stop offset="0.7723" stop-color="#5d00ff"/><stop offset="0.8333" stop-color="#5300ff"/><stop offset="1.0000" stop-color="#4f00ff"/></linearGradient>
<linearGradient id="b85" gradientUnits="userSpaceOnUse" x1="557.5" x2="1044" y1="0" y2="0"><stop offset="0.0000" stop-color="#4aff00"/><stop offset="0.0874" stop-color="#6fff00"/><stop offset="0.2338" stop-color="#74ff00"/><stop offset="0.3494" stop-color="#3aff00"/><stop offset="0.4522" stop-color="#0fff00"/><stop offset="0.4892" stop-color="#2fff00"/><stop offset="0.5295" stop-color="#d6ff00"/><stop offset="0.5402" stop-color="#ffff00"/><stop offset="0.5563" stop-color="#ffde00"/><stop offset="0.5717" stop-color="#ffe200"/><stop offset="0.5974" stop-color="#ffff00"/><stop offset="0.6154" stop-color="#d8ff00"/><stop offset="0.6367" stop-color="#8aff00"/><stop offset="0.6524" stop-color="#00ff00"/><stop offset="0.6675" stop-color="#00ffeb"/><stop offset="0.6708" stop-color="#00ffff"/><stop offset="0.6820" stop-color="#00ddff"/><stop offset="0.6962" stop-color="#0080ff"/><stop offset="0.7117" stop-color="#2814ff"/><stop offset="0.7200" stop-color="#4600ff"/><stop offset="0.7318" stop-color="#6d00ff"/><stop offset="0.7721" stop-color="#5e00ff"/><stop offset="0.8325" stop-color="#5300ff"/><stop offset="1.0000" stop-color="#4f00ff"/></linearGradient>
<linearGradient id="b86" gradientUnits="userSpaceOnUse" x1="557.5" x2="1044" y1="0" y2="0"><stop offset="0.0000" stop-color="#4aff00"/><stop offset="0.0874" stop-color="#6fff00"/><stop offset="0.2350" stop-color="#74ff00"/><stop offset="0.3502" stop-color="#39ff00"/><stop offset="0.4530" stop-color="#10ff00"/><stop offset="0.4900" stop-color="#31ff00"/><stop offset="0.5300" stop-color="#d4ff00"/><stop offset="0.5415" stop-color="#ffff00"/><stop offset="0.5567" stop-color="#ffe100"/><stop offset="0.5723" stop-color="#ffe400"/><stop offset="0.5962" stop-color="#ffff00"/><stop offset="0.6156" stop-color="#d6ff00"/><stop offset="0.6366" stop-color="#89ff00"/><stop offset="0.6522" stop-color="#00ff00"/><stop offset="0.6674" stop-color="#00ffeb"/><stop offset="0.6708" stop-color="#00ffff"/><stop offset="0.6820" stop-color="#00ddff"/><stop offset="0.6960" stop-color="#0080ff"/><stop offset="0.7115" stop-color="#2814ff"/><stop offset="0.7196" stop-color="#4600ff"/><stop offset="0.7316" stop-color="#6e00ff"/><stop offset="0.7719" stop-color="#5e00ff"/><stop offset="0.8317" stop-color="#5300ff"/><stop offset="1.0000" stop-color="#4f00ff"/></linearGradient>
<linearGradient id="b87" gradientUnits="userSpaceOnUse" x1="557.5" x2="1044" y1="0" y2="0"><stop offset="0.0000" stop-color="#4aff00"/><stop offset="0.0874" stop-color="#6fff00"/><stop offset="0.2363" stop-color="#74ff00"/><stop offset="0.3511" stop-color="#39ff00"/><stop offset="0.4538" stop-color="#11ff00"/><stop offset="0.4908" stop-color="#32ff00"/><stop offset="0.5304" stop-color="#d1ff00"/><stop offset="0.5429" stop-color="#ffff00"/><stop offset="0.5572" stop-color="#ffe400"/><stop offset="0.5729" stop-color="#ffe700"/><stop offset="0.5950" stop-color="#ffff00"/><stop offset="0.6158" stop-color="#d3ff00"/><stop offset="0.6365" stop-color="#89ff00"/><stop offset="0.6521" stop-color="#00ff00"/><stop offset="0.6674" stop-color="#00ffeb"/><stop offset="0.6707" stop-color="#00ffff"/><stop offset="0.6820" stop-color="#00dcff"/><stop offset="0.6959" stop-color="#0080ff"/><stop offset="0.7112" stop-color="#2814ff"/><stop offset="0.7193" stop-color="#4600ff"/><stop offset="0.7314" stop-color="#6f00ff"/><stop offset="0.7717" stop-color="#5f00ff"/><stop offset="0.8308" stop-color="#5400ff"/><stop offset="1.0000" stop-color="#4f00ff"/></linearGradient>
<linearGradient id="b88" gradientUnits="userSpaceOnUse" x1="557.5" x2="1044" y1="0" y2="0"><stop offset="0.0000" stop-color="#4aff00"/><stop offset="0.0874" stop-color="#6fff00"/><stop offset="0.2375" stop-color="#74ff00"/><stop offset="0.3519" stop-color="#38ff00"/><stop offset="0.4547" stop-color="#11ff00"/><stop offset="0.4917" stop-color="#33ff00"/><stop offset="0.5309" stop-color="#cfff00"/><stop offset="0.5444" stop-color="#ffff00"/><stop offset="0.5576" stop-color="#ffe700"/><stop offset="0.5735" stop-color="#ffe900"/><stop offset="0.5937" stop-color="#ffff00"/><stop offset="0.6160" stop-color="#d1ff00"/><stop offset="0.6364" stop-color="#88ff00"/><stop offset="0.6520" stop-color="#00ff00"/><stop offset="0.6673" stop-color="#00ffeb"/><stop offset="0.6706" stop-color="#00ffff"/><stop offset="0.6820" stop-color="#00dcff"/><stop offset="0.6957" stop-color="#0080ff"/><stop offset="0.7110" stop-color="#2814ff"/><stop offset="0.7189" stop-color="#4600ff"/><stop offset="0.7313" stop-color="#7100ff"/><stop offset="0.7715" stop-color="#5f00ff"/><stop offset="0.8300" stop-color="#5400ff"/><stop offset="1.0000" stop-color="#4f00ff"/></linearGradient>
<linearGradient id="b89" gradientUnits="userSpaceOnUse" x1="557.5" x2="1044" y1="0" y2="0"><stop offset="0.0000" stop-color="#4bff00"/><stop offset="0.0874" stop-color="#6eff00"/><stop offset="0.2387" stop-color="#73ff00"/><stop offset="0.3527" stop-color="#38ff00"/><stop offset="0.4555" stop-color="#12ff00"/><stop offset="0.4925" stop-color="#34ff00"/><stop offset="0.5313" stop-color="#cdff00"/><stop offset="0.5459" stop-color="#ffff00"/><stop offset="0.5581" stop-color="#ffe900"/><stop offset="0.5741" stop-color="#ffec00"/><stop offset="0.5923" stop-color="#ffff00"/><stop offset="0.6162" stop-color="#cfff00"/><stop offset="0.6364" stop-color="#88ff00"/><stop offset="0.6519" stop-color="#00ff00"/><stop offset="0.6672" stop-color="#00ffeb"/><stop offset="0.6705" stop-color="#00ffff"/><stop offset="0.6820" stop-color="#00dcff"/><stop offset="0.6956" stop-color="#0080ff"/><stop offset="0.7107" stop-color="#2814ff"/><stop offset="0.7185" stop-color="#4600ff"/><stop offset="0.7311" stop-color="#7200ff"/><stop offset="0.7713" stop-color="#6000ff"/><stop offset="0.8292" stop-color="#5400ff"/><stop offset="1.0000" stop-color="#4f00ff"/></linearGradient>
<linearGradient id="b90" gradientUnits="userSpaceOnUse" x1="557.5" x2="1044" y1="0" y2="0"><stop offset="0.0000" stop-color="#4bff00"/><stop offset="0.0874" stop-color="#6eff00"/><stop offset="0.2400" stop-color="#73ff00"/><stop offset="0.3535" stop-color="#38ff00"/><stop offset="0.4563" stop-color="#13ff00"/><stop offset="0.4933" stop-color="#35ff00"/><stop offset="0.5318" stop-color="#cbff00"/><stop offset="0.5475" stop-color="#ffff00"/><stop offset="0.5585" stop-color="#ffec00"/><stop offset="0.5748" stop-color="#ffef00"/><stop offset="0.5908" stop-color="#ffff00"/><stop offset="0.6164" stop-color="#cdff00"/><stop offset="0.6363" stop-color="#88ff00"/><stop offset="0.6517" stop-color="#00ff00"/><stop offset="0.6671" stop-color="#00ffeb"/><stop offset="0.6704" stop-color="#00ffff"/><stop offset="0.6820" stop-color="#00dcff"/><stop offset="0.6955" stop-color="#0080ff"/><stop offset="0.7105" stop-color="#2814ff"/><stop offset="0.7182" stop-color="#4600ff"/><stop offset="0.7309" stop-color="#7400ff"/><stop offset="0.7711" stop-color="#6100ff"/><stop offset="0.8284" stop-color="#5400ff"/><stop offset="1.0000" stop-color="#4f00ff"/></linearGradient>
<linearGradient id="b91" gradientUnits="userSpaceOnUse" x1="557.5" x2="1044" y1="0" y2="0"><stop offset="0.0000" stop-color="#4bff00"/><stop offset="0.0874" stop-color="#6eff00"/><stop offset="0.2412" stop-color="#73ff00"/><stop offset="0.3543" stop-color="#37ff00"/><stop offset="0.4571" stop-color="#14ff00"/><stop offset="0.4941" stop-color="#37ff00"/><stop offset="0.5322" stop-color="#c9ff00"/><stop offset="0.5492" stop-color="#ffff00"/><stop offset="0.5590" stop-color="#ffef00"/><stop offset="0.5754" stop-color="#fff100"/><stop offset="0.5893" stop-color="#ffff00"/><stop offset="0.6166" stop-color="#cbff00"/><stop offset="0.6362" stop-color="#87ff00"/><stop offset="0.6516" stop-color="#00ff00"/><stop offset="0.6670" stop-color="#00ffeb"/><stop offset="0.6704" stop-color="#00ffff"/><stop offset="0.6820" stop-color="#00dbff"/><stop offset="0.6953" stop-color="#0080ff"/><stop offset="0.7102" stop-color="#2814ff"/><stop offset="0.7178" stop-color="#4600ff"/><stop offset="0.7308" stop-color="#7500ff"/><stop offset="0.7709" stop-color="#6100ff"/><stop offset="0.8276" stop-color="#5400ff"/><stop offset="1.0000" stop-color="#4f00ff"/></linearGradient>
<linearGradient id="b92" gradientUnits="userSpaceOnUse" x1="557.5" x2="1044" y1="0" y2="0"><stop offset="0.0000" stop-color="#4bff00"/><stop offset="0.0874" stop-color="#6eff00"/><stop offset="0.2424" stop-color="#73ff00"/><stop offset="0.3552" stop-color="#37ff00"/><stop offset="0.4579" stop-color="#15ff00"/><stop offset="0.4949" stop-color="#38ff00"/><stop offset="0.5327" stop-color="#c6ff00"/><stop offset="0.5510" stop-color="#ffff00"/><stop offset="0.5594" stop-color="#fff100"/><stop offset="0.5760" stop-color="#fff400"/><stop offset="0.5876" stop-color="#ffff00"/><stop offset="0.6168" stop-color="#c9ff00"/><stop offset="0.6361" stop-color="#87ff00"/><stop offset="0.6515" stop-color="#00ff00"/><stop offset="0.6669" stop-color="#00ffeb"/><stop offset="0.6703" stop-color="#00ffff"/><stop offset="0.6820" stop-color="#00dbff"/><stop offset="0.6952" stop-color="#0080ff"/><stop offset="0.7100" stop-color="#2814ff"/><stop offset="0.7174" stop-color="#4600ff"/><stop offset="0.7306" stop-color="#7600ff"/><stop offset="0.7707" stop-color="#6200ff"/><stop offset="0.8267" stop-color="#5500ff"/><stop offset="1.0000" stop-color="#4f00ff"/></linearGradient>
<linearGradient id="b93" gradientUnits="userSpaceOnUse" x1="557.5" x2="1044" y1="0" y2="0"><stop offset="0.0000" stop-color="#4bff00"/><stop offset="0.0874" stop-color="#6eff00"/><stop offset="0.2436" stop-color="#73ff00"/><stop offset="0.3560" stop-color="#36ff00"/><stop offset="0.4588" stop-color="#15ff00"/><stop offset="0.4958" stop-color="#39ff00"/><stop offset="0.5332" stop-color="#c4ff00"/><stop offset="0.5528" stop-color="#ffff00"/><stop offset="0.5599" stop-color="#fff400"/><stop offset="0.5766" stop-color="#fff600"/><stop offset="0.5857" stop-color="#ffff00"/><stop offset="0.6170" stop-color="#c7ff00"/><stop offset="0.6360" stop-color="#86ff00"/><stop offset="0.6514" stop-color="#00ff00"/><stop offset="0.6669" stop-color="#00ffeb"/><stop offset="0.6702" stop-color="#00ffff"/><stop offset="0.6820" stop-color="#00dbff"/><stop offset="0.6950" stop-color="#0080ff"/><stop offset="0.7098" stop-color="#2814ff"/><stop offset="0.7171" stop-color="#4600ff"/><stop offset="0.7304" stop-color="#7800ff"/><stop offset="0.7705" stop-color="#6200ff"/><stop offset="0.8259" stop-color="#5500ff"/><stop offset="1.0000" stop-color="#4f00ff"/></linearGradient>
<linearGradient id="b94" gradientUnits="userSpaceOnUse" x1="557.5" x2="1044" y1="0" y2="0"><stop offset="0.0000" stop-color="#4cff00"/><stop offset="0.0874" stop-color="#6dff00"/><stop offset="0.2449" stop-color="#72ff00"/><stop offset="0.3568" stop-color="#36ff00"/><stop offset="0.4596" stop-color="#16ff00"/><stop offset="0.4966" stop-color="#3aff00"/><stop offset="0.5336" stop-color="#c2ff00"/><stop offset="0.5548" stop-color="#ffff00"/><stop offset="0.5603" stop-color="#fff700"/><stop offset="0.5772" stop-color="#fff900"/><stop offset="0.5838" stop-color="#ffff00"/><stop offset="0.6172" stop-color="#c5ff00"/><stop offset="0.6360" stop-color="#86ff00"/><stop offset="0.6513" stop-color="#00ff00"/><stop offset="0.6668" stop-color="#00ffeb"/><stop offset="0.6701" stop-color="#00ffff"/><stop offset="0.6820" stop-color="#00dbff"/><stop offset="0.6949" stop-color="#0080ff"/><stop offset="0.7095" stop-color="#2814ff"/><stop offset="0.7167" stop-color="#4600ff"/><stop offset="0.7303" stop-color="#7900ff"/><stop offset="0.7703" stop-color="#6300ff"/><stop offset="0.8251" stop-color="#5500ff"/><stop offset="1.0000" stop-color="#4f00ff"/></linearGradient>
<linearGradient id="b95" gradientUnits="userSpaceOnUse" x1="557.5" x2="1044" y1="0" y2="0"><stop offset="0.0000" stop-color="#4cff00"/><stop offset="0.0874" stop-color="#6dff00"/><stop offset="0.2461" stop-color="#72ff00"/><stop offset="0.3576" stop-color="#36ff00"/><stop offset="0.4604" stop-color="#17ff00"/><stop offset="0.4974" stop-color="#3bff00"/><stop offset="0.5341" stop-color="#c0ff00"/><stop offset="0.5569" stop-color="#ffff00"/><stop offset="0.5608" stop-color="#fff900"/><stop offset="0.5778" stop-color="#fffc00"/><stop offset="0.5816" stop-color="#ffff00"/><stop offset="0.6174" stop-color="#c3ff00"/><stop offset="0.6359" stop-color="#86ff00"/><stop offset="0.6511" stop-color="#00ff00"/><stop offset="0.6667" stop-color="#00ffeb"/><stop offset="0.6701" stop-color="#00ffff"/><stop offset="0.6820" stop-color="#00dbff"/><stop offset="0.6947" stop-color="#0080ff"/><stop offset="0.7093" stop-color="#2814ff"/><stop offset="0.7164" stop-color="#4600ff"/><stop offset="0.7301" stop-color="#7a00ff"/><stop offset="0.7700" stop-color="#6300ff"/><stop offset="0.8243" stop-color="#5500ff"/><stop offset="1.0000" stop-color="#4f00ff"/></linearGradient>
<linearGradient id="b96" gradientUnits="userSpaceOnUse" x1="557.5" x2="1044" y1="0" y2="0"><stop offset="0.0000" stop-color="#4cff00"/><stop offset="0.0874" stop-color="#6dff00"/><stop offset="0.2473" stop-color="#72ff00"/><stop offset="0.3585" stop-color="#35ff00"/><stop offset="0.4612" stop-color="#18ff00"/><stop offset="0.4982" stop-color="#3dff00"/><stop offset="0.5345" stop-color="#beff00"/><stop offset="0.5592" stop-color="#ffff00"/><stop offset="0.5612" stop-color="#fffc00"/><stop offset="0.5784" stop-color="#fffe00"/><stop offset="0.5793" stop-color="#ffff00"/><stop offset="0.6176" stop-color="#c1ff00"/><stop offset="0.6358" stop-color="#85ff00"/><stop offset="0.6510" stop-color="#00ff00"/><stop offset="0.6666" stop-color="#00ffeb"/><stop offset="0.6700" stop-color="#00ffff"/><stop offset="0.6820" stop-color="#00daff"/><stop offset="0.6946" stop-color="#0080ff"/><stop offset="0.7090" stop-color="#2814ff"/><stop offset="0.7161" stop-color="#4600ff"/><stop offset="0.7300" stop-color="#7c00ff"/><stop offset="0.7698" stop-color="#6400ff"/><stop offset="0.8235" stop-color="#5600ff"/><stop offset="1.0000" stop-color="#4f00ff"/></linearGradient>
<linearGradient id="b97" gradientUnits="userSpaceOnUse" x1="557.5" x2="1044" y1="0" y2="0"><stop offset="0.0000" stop-color="#4cff00"/><stop offset="0.0874" stop-color="#6dff00"/><stop offset="0.2486" stop-color="#72ff00"/><stop offset="0.3593" stop-color="#35ff00"/><stop offset="0.4620" stop-color="#19ff00"/><stop offset="0.4990" stop-color="#3eff00"/><stop offset="0.5350" stop-color="#bbff00"/><stop offset="0.5616" stop-color="#ffff00"/><stop offset="0.5617" stop-color="#ffff00"/><stop offset="0.5630" stop-color="#ffff00"/><stop offset="0.5791" stop-color="#fbff00"/><stop offset="0.6178" stop-color="#bfff00"/><stop offset="0.6357" stop-color="#85ff00"/><stop offset="0.6509" stop-color="#00ff00"/><stop offset="0.6665" stop-color="#00ffeb"/><stop offset="0.6699" stop-color="#00ffff"/><stop offset="0.6820" stop-color="#00daff"/><stop offset="0.6945" stop-color="#0080ff"/><stop offset="0.7088" stop-color="#2814ff"/><stop offset="0.7157" stop-color="#4600ff"/><stop offset="0.7298" stop-color="#7d00ff"/><stop offset="0.7696" stop-color="#6500ff"/><stop offset="0.8226" stop-color="#5600ff"/><stop offset="1.0000" stop-color="#4f00ff"/></linearGradient>
<linearGradient id="b98" gradientUnits="userSpaceOnUse" x1="557.5" x2="1044" y1="0" y2="0"><stop offset="0.0000" stop-color="#4cff00"/><stop offset="0.0874" stop-color="#6dff00"/><stop offset="0.2498" stop-color="#72ff00"/><stop offset="0.3601" stop-color="#34ff00"/><stop offset="0.4629" stop-color="#19ff00"/><stop offset="0.4999" stop-color="#3fff00"/><stop offset="0.5354" stop-color="#b9ff00"/><stop offset="0.5621" stop-color="#faff00"/><stop offset="0.5797" stop-color="#f6ff00"/><stop offset="0.6180" stop-color="#bcff00"/><stop offset="0.6356" stop-color="#84ff00"/><stop offset="0.6508" stop-color="#00ff00"/><stop offset="0.6665" stop-color="#00ffeb"/><stop offset="0.6698" stop-color="#00ffff"/><stop offset="0.6820" stop-color="#00daff"/><stop offset="0.6943" stop-color="#0080ff"/><stop offset="0.7085" stop-color="#2814ff"/><stop offset="0.7154" stop-color="#4600ff"/><stop offset="0.7296" stop-color="#7f00ff"/><stop offset="0.7694" stop-color="#6500ff"/><stop offset="0.8218" stop-color="#5600ff"/><stop offset="1.0000" stop-color="#4f00ff"/></linearGradient>
<linearGradient id="b99" gradientUnits="userSpaceOnUse" x1="557.5" x2="1044" y1="0" y2="0"><stop offset="0.0000" stop-color="#4dff00"/><stop offset="0.0874" stop-color="#6cff00"/><stop offset="0.2510" stop-color="#71ff00"/><stop offset="0.3609" stop-color="#34ff00"/><stop offset="0.4637" stop-color="#1aff00"/><stop offset="0.5007" stop-color="#40ff00"/><stop offset="0.5359" stop-color="#b7ff00"/><stop offset="0.5626" stop-color="#f5ff00"/><stop offset="0.5803" stop-color="#f1ff00"/><stop offset="0.6182" stop-color="#baff00"/><stop offset="0.6355" stop-color="#84ff00"/><stop offset="0.6506" stop-color="#00ff00"/><stop offset="0.6664" stop-color="#00ffeb"/><stop offset="0.6697" stop-color="#00ffff"/><stop offset="0.6820" stop-color="#00daff"/><stop offset="0.6942" stop-color="#0080ff"/><stop offset="0.7083" stop-color="#2814ff"/><stop offset="0.7151" stop-color="#4600ff"/><stop offset="0.7295" stop-color="#8000ff"/><stop offset="0.7692" stop-color="#6600ff"/><stop offset="0.8210" stop-color="#5600ff"/><stop offset="1.0000" stop-color="#4f00ff"/></linearGradient>
<linearGradient id="b100" gradientUnits="userSpaceOnUse" x1="557.5" x2="1044" y1="0" y2="0"><stop offset="0.0000" stop-color="#4dff00"/><stop offset="0.0874" stop-color="#6cff00"/><stop offset="0.2523" stop-color="#71ff00"/><stop offset="0.3617" stop-color="#34ff00"/><stop offset="0.4645" stop-color="#1bff00"/><stop offset="0.5015" stop-color="#41ff00"/><stop offset="0.5363" stop-color="#b5ff00"/><stop offset="0.5630" stop-color="#f0ff00"/><stop offset="0.5809" stop-color="#ecff00"/><stop offset="0.6184" stop-color="#b8ff00"/><stop offset="0.6355" stop-color="#84ff00"/><stop offset="0.6505" stop-color="#00ff00"/><stop offset="0.6663" stop-color="#00ffeb"/><stop offset="0.6697" stop-color="#00ffff"/><stop offset="0.6820" stop-color="#00daff"/><stop offset="0.6940" stop-color="#0080ff"/><stop offset="0.7080" stop-color="#2814ff"/><stop offset="0.7147" stop-color="#4600ff"/><stop offset="0.7293" stop-color="#8100ff"/><stop offset="0.7690" stop-color="#6600ff"/><stop offset="0.8202" stop-color="#5600ff"/><stop offset="1.0000" stop-color="#4f00ff"/></linearGradient>
<linearGradient id="b101" gradientUnits="userSpaceOnUse" x1="557.5" x2="1044" y1="0" y2="0"><stop offset="0.0000" stop-color="#4dff00"/><stop offset="0.0874" stop-color="#6cff00"/><stop offset="0.2535" stop-color="#71ff00"/><stop offset="0.3626" stop-color="#33ff00"/><stop offset="0.4653" stop-color="#1cff00"/><stop offset="0.5023" stop-color="#43ff00"/><stop offset="0.5368" stop-color="#b3ff00"/><stop offset="0.5635" stop-color="#ebff00"/><stop offset="0.5815" stop-color="#e7ff00"/><stop offset="0.6186" stop-color="#b6ff00"/><stop offset="0.6354" stop-color="#83ff00"/><stop offset="0.6504" stop-color="#00ff00"/><stop offset="0.6662" stop-color="#00ffeb"/><stop offset="0.6696" stop-color="#00ffff"/><stop offset="0.6820" stop-color="#00d9ff"/><stop offset="0.6939" stop-color="#0080ff"/><stop offset="0.7078" stop-color="#2814ff"/><stop offset="0.7144" stop-color="#4600ff"/><stop offset="0.7291" stop-color="#8300ff"/><stop offset="0.7688" stop-color="#6700ff"/><stop offset="0.8194" stop-color="#5700ff"/><stop offset="1.0000" stop-color="#4f00ff"/></linearGradient>
<linearGradient id="b102" gradientUnits="userSpaceOnUse" x1="557.5" x2="1044" y1="0" y2="0"><stop offset="0.0000" stop-color="#4dff00"/><stop offset="0.0874" stop-color="#6cff00"/><stop offset="0.2547" stop-color="#71ff00"/><stop offset="0.3634" stop-color="#33ff00"/><stop offset="0.4661" stop-color="#1dff00"/><stop offset="0.5031" stop-color="#44ff00"/><stop offset="0.5372" stop-color="#b0ff00"/><stop offset="0.5639" stop-color="#e5ff00"/><stop offset="0.5821" stop-color="#e2ff00"/><stop offset="0.6188" stop-color="#b4ff00"/><stop offset="0.6353" stop-color="#83ff00"/><stop offset="0.6503" stop-color="#00ff00"/><stop offset="0.6661" stop-color="#00ffeb"/><stop offset="0.6695" stop-color="#00ffff"/><stop offset="0.6820" stop-color="#00d9ff"/><stop offset="0.6937" stop-color="#0080ff"/><stop offset="0.7075" stop-color="#2814ff"/><stop offset="0.7141" stop-color="#4600ff"/><stop offset="0.7290" stop-color="#8400ff"/><stop offset="0.7686" stop-color="#6800ff"/><stop offset="0.8185" stop-color="#5700ff"/><stop offset="1.0000" stop-color="#4f00ff"/></linearGradient>
<linearGradient id="b103" gradientUnits="userSpaceOnUse" x1="557.5" x2="1044" y1="0" y2="0"><stop offset="0.0000" stop-color="#4dff00"/><stop offset="0.0874" stop-color="#6cff00"/><stop offset="0.2560" stop-color="#71ff00"/><stop offset="0.3642" stop-color="#32ff00"/><stop offset="0.4670" stop-color="#1dff00"/><stop offset="0.5040" stop-color="#45ff00"/><stop offset="0.5377" stop-color="#aeff00"/><stop offset="0.5644" stop-color="#e0ff00"/><stop offset="0.5828" stop-color="#ddff00"/><stop offset="0.6191" stop-color="#b2ff00"/><stop offset="0.6352" stop-color="#82ff00"/><stop offset="0.6501" stop-color="#00ff00"/><stop offset="0.6660" stop-color="#00ffeb"/><stop offset="0.6694" stop-color="#00ffff"/><stop offset="0.6820" stop-color="#00d9ff"/><stop offset="0.6936" stop-color="#0080ff"/><stop offset="0.7073" stop-color="#2814ff"/><stop offset="0.7138" stop-color="#4600ff"/><stop offset="0.7288" stop-color="#8500ff"/><stop offset="0.7684" stop-color="#6800ff"/><stop offset="0.8177" stop-color="#5700ff"/><stop offset="1.0000" stop-color="#4f00ff"/></linearGradient>
<linearGradient id="b104" gradientUnits="userSpaceOnUse" x1="557.5" x2="1044" y1="0" y2="0"><stop offset="0.0000" stop-color="#4eff00"/><stop offset="0.0874" stop-color="#6bff00"/><stop offset="0.2572" stop-color="#70ff00"/><stop offset="0.3650" stop-color="#32ff00"/><stop offset="0.4678" stop-color="#1eff00"/><stop offset="0.5048" stop-color="#46ff00"/><stop offset="0.5381" stop-color="#acff00"/><stop offset="0.5648" stop-color="#dbff00"/><stop offset="0.5834" stop-color="#d9ff00"/><stop offset="0.6193" stop-color="#b0ff00"/><stop offset="0.6351" stop-color="#82ff00"/><stop offset="0.6500" stop-color="#00ff00"/><stop offset="0.6660" stop-color="#00ffeb"/><stop offset="0.6693" stop-color="#00ffff"/><stop offset="0.6820" stop-color="#00d9ff"/><stop offset="0.6934" stop-color="#0080ff"/><stop offset="0.7070" stop-color="#2814ff"/><stop offset="0.7134" stop-color="#4600ff"/><stop offset="0.7286" stop-color="#8700ff"/><stop offset="0.7682" stop-color="#6900ff"/><stop offset="0.8169" stop-color="#5700ff"/><stop offset="1.0000" stop-color="#4f00ff"/></linearGradient>
<linearGradient id="b105" gradientUnits="userSpaceOnUse" x1="557.5" x2="1044" y1="0" y2="0"><stop offset="0.0000" stop-color="#4eff00"/><stop offset="0.0874" stop-color="#6bff00"/><stop offset="0.2584" stop-color="#70ff00"/><stop offset="0.3658" stop-color="#32ff00"/><stop offset="0.4686" stop-color="#1fff00"/><stop offset="0.5056" stop-color="#47ff00"/><stop offset="0.5386" stop-color="#aaff00"/><stop offset="0.5653" stop-color="#d6ff00"/><stop offset="0.5840" stop-color="#d4ff00"/><stop offset="0.6195" stop-color="#aeff00"/><stop offset="0.6351" stop-color="#82ff00"/><stop offset="0.6499" stop-color="#00ff00"/><stop offset="0.6659" stop-color="#00ffeb"/><stop offset="0.6693" stop-color="#00ffff"/><stop offset="0.6820" stop-color="#00d9ff"/><stop offset="0.6933" stop-color="#0080ff"/><stop offset="0.7068" stop-color="#2814ff"/><stop offset="0.7131" stop-color="#4600ff"/><stop offset="0.7285" stop-color="#8800ff"/><stop offset="0.7680" stop-color="#6900ff"/><stop offset="0.8161" stop-color="#5800ff"/><stop offset="1.0000" stop-color="#4f00ff"/></linearGradient>
<linearGradient id="b106" gradientUnits="userSpaceOnUse" x1="557.5" x2="1044" y1="0" y2="0"><stop offset="0.0000" stop-color="#4eff00"/><stop offset="0.0874" stop-color="#6bff00"/><stop offset="0.2596" stop-color="#70ff00"/><stop offset="0.3667" stop-color="#31ff00"/><stop offset="0.4694" stop-color="#20ff00"/><stop offset="0.5064" stop-color="#49ff00"/><stop offset="0.5390" stop-color="#a8ff00"/><stop offset="0.5657" stop-color="#d1ff00"/><stop offset="0.5846" stop-color="#cfff00"/><stop offset="0.6197" stop-color="#acff00"/><stop offset="0.6350" stop-color="#81ff00"/><stop offset="0.6498" stop-color="#00ff00"/><stop offset="0.6658" stop-color="#00ffeb"/><stop offset="0.6692" stop-color="#00ffff"/><stop offset="0.6820" stop-color="#00d8ff"/><stop offset="0.6932" stop-color="#0080ff"/><stop offset="0.7065" stop-color="#2814ff"/><stop offset="0.7128" stop-color="#4600ff"/><stop offset="0.7283" stop-color="#8a00ff"/><stop offset="0.7678" stop-color="#6a00ff"/><stop offset="0.8153" stop-color="#5800ff"/><stop offset="1.0000" stop-color="#4f00ff"/></linearGradient>
<linearGradient id="b107" gradientUnits="userSpaceOnUse" x1="557.5" x2="1044" y1="0" y2="0"><stop offset="0.0000" stop-color="#4eff00"/><stop offset="0.0874" stop-color="#6bff00"/><stop offset="0.2609" stop-color="#70ff00"/><stop offset="0.3675" stop-color="#31ff00"/><stop offset="0.4703" stop-color="#21ff00"/><stop offset="0.5073" stop-color="#4aff00"/><stop offset="0.5395" stop-color="#a5ff00"/><stop offset="0.5662" stop-color="#cbff00"/><stop offset="0.5852" stop-color="#caff00"/><stop offset="0.6199" stop-color="#aaff00"/><stop offset="0.6349" stop-color="#81ff00"/><stop offset="0.6497" stop-color="#00ff00"/><stop offset="0.6657" stop-color="#00ffeb"/><stop offset="0.6691" stop-color="#00ffff"/><stop offset="0.6820" stop-color="#00d8ff"/><stop offset="0.6930" stop-color="#0080ff"/><stop offset="0.7063" stop-color="#2814ff"/><stop offset="0.7125" stop-color="#4600ff"/><stop offset="0.7281" stop-color="#8b00ff"/><stop offset="0.7676" stop-color="#6a00ff"/><stop offset="0.8144" stop-color="#5800ff"/><stop offset="1.0000" stop-color="#4f00ff"/></linearGradient>
<linearGradient id="b108" gradientUnits="userSpaceOnUse" x1="557.5" x2="1044" y1="0" y2="0"><stop offset="0.0000" stop-color="#4eff00"/><stop offset="0.0874" stop-color="#6bff00"/><stop offset="0.2621" stop-color="#70ff00"/><stop offset="0.3683" stop-color="#30ff00"/><stop offset="0.4711" stop-color="#21ff00"/><stop offset="0.5081" stop-color="#4bff00"/><stop offset="0.5399" stop-color="#a3ff00"/><stop offset="0.5666" stop-color="#c6ff00"/><stop offset="0.5858" stop-color="#c5ff00"/><stop offset="0.6201" stop-color="#a7ff00"/><stop offset="0.6348" stop-color="#80ff00"/><stop offset="0.6495" stop-color="#00ff00"/><stop offset="0.6656" stop-color="#00ffeb"/><stop offset="0.6690" stop-color="#00ffff"/><stop offset="0.6820" stop-color="#00d8ff"/><stop offset="0.6929" stop-color="#0080ff"/><stop offset="0.7061" stop-color="#2814ff"/><stop offset="0.7122" stop-color="#4600ff"/><stop offset="0.7280" stop-color="#8c00ff"/><stop offset="0.7674" stop-color="#6b00ff"/><stop offset="0.8136" stop-color="#5800ff"/><stop offset="1.0000" stop-color="#4f00ff"/></linearGradient>
<linearGradient id="b109" gradientUnits="userSpaceOnUse" x1="557.5" x2="1044" y1="0" y2="0"><stop offset="0.0000" stop-color="#4fff00"/><stop offset="0.0874" stop-color="#6aff00"/><stop offset="0.2633" stop-color="#6fff00"/><stop offset="0.3691" stop-color="#30ff00"/><stop offset="0.4719" stop-color="#22ff00"/><stop offset="0.5089" stop-color="#4cff00"/><stop offset="0.5404" stop-color="#a1ff00"/><stop offset="0.5671" stop-color="#c1ff00"/><stop offset="0.5864" stop-color="#c0ff00"/><stop offset="0.6203" stop-color="#a5ff00"/><stop offset="0.6347" stop-color="#80ff00"/><stop offset="0.6494" stop-color="#00ff00"/><stop offset="0.6656" stop-color="#00ffeb"/><stop offset="0.6689" stop-color="#00ffff"/><stop offset="0.6820" stop-color="#00d8ff"/><stop offset="0.6927" stop-color="#0080ff"/><stop offset="0.7058" stop-color="#2814ff"/><stop offset="0.7119" stop-color="#4600ff"/><stop offset="0.7278" stop-color="#8e00ff"/><stop offset="0.7672" stop-color="#6c00ff"/><stop offset="0.8128" stop-color="#5800ff"/><stop offset="1.0000" stop-color="#4f00ff"/></linearGradient>
<linearGradient id="b110" gradientUnits="userSpaceOnUse" x1="557.5" x2="1044" y1="0" y2="0"><stop offset="0.0000" stop-color="#4fff00"/><stop offset="0.0874" stop-color="#6aff00"/><stop offset="0.2646" stop-color="#6fff00"/><stop offset="0.3699" stop-color="#30ff00"/><stop offset="0.4727" stop-color="#23ff00"/><stop offset="0.5097" stop-color="#4dff00"/><stop offset="0.5408" stop-color="#9fff00"/><stop offset="0.5675" stop-color="#bcff00"/><stop offset="0.5871" stop-color="#bbff00"/><stop offset="0.6205" stop-color="#a3ff00"/><stop offset="0.6346" stop-color="#80ff00"/><stop offset="0.6493" stop-color="#00ff00"/><stop offset="0.6655" stop-color="#00ffeb"/><stop offset="0.6689" stop-color="#00ffff"/><stop offset="0.6820" stop-color="#00d8ff"/><stop offset="0.6926" stop-color="#0080ff"/><stop offset="0.7056" stop-color="#2814ff"/><stop offset="0.7116" stop-color="#4600ff"/><stop offset="0.7277" stop-color="#8f00ff"/><stop offset="0.7670" stop-color="#6c00ff"/><stop offset="0.8120" stop-color="#5900ff"/><stop offset="1.0000" stop-color="#4f00ff"/></linearGradient>
<linearGradient id="b111" gradientUnits="userSpaceOnUse" x1="557.5" x2="1044" y1="0" y2="0"><stop offset="0.0000" stop-color="#4fff00"/><stop offset="0.0874" stop-color="#6aff00"/><stop offset="0.2658" stop-color="#6fff00"/><stop offset="0.3708" stop-color="#2fff00"/><stop offset="0.4735" stop-color="#24ff00"/><stop offset="0.5105" stop-color="#4fff00"/><stop offset="0.5413" stop-color="#9dff00"/><stop offset="0.5680" stop-color="#b7ff00"/><stop offset="0.5877" stop-color="#b6ff00"/><stop offset="0.6207" stop-color="#a1ff00"/><stop offset="0.6346" stop-color="#7fff00"/><stop offset="0.6492" stop-color="#00ff00"/><stop offset="0.6654" stop-color="#00ffeb"/><stop offset="0.6688" stop-color="#00ffff"/><stop offset="0.6820" stop-color="#00d7ff"/><stop offset="0.6924" stop-color="#0080ff"/><stop offset="0.7053" stop-color="#2814ff"/><stop offset="0.7113" stop-color="#4600ff"/><stop offset="0.7275" stop-color="#9000ff"/><stop offset="0.7668" stop-color="#6d00ff"/><stop offset="0.8112" stop-color="#5900ff"/><stop offset="1.0000" stop-color="#4f00ff"/></linearGradient>
<linearGradient id="b112" gradientUnits="userSpaceOnUse" x1="557.5" x2="1044" y1="0" y2="0"><stop offset="0.0000" stop-color="#4fff00"/><stop offset="0.0874" stop-color="#6aff00"/><stop offset="0.2670" stop-color="#6fff00"/><stop offset="0.3716" stop-color="#2fff00"/><stop offset="0.4744" stop-color="#25ff00"/><stop offset="0.5114" stop-color="#50ff00"/><stop offset="0.5417" stop-color="#9aff00"/><stop offset="0.5684" stop-color="#b1ff00"/><stop offset="0.5883" stop-color="#b1ff00"/><stop offset="0.6209" stop-color="#9fff00"/><stop offset="0.6345" stop-color="#7fff00"/><stop offset="0.6490" stop-color="#00ff00"/><stop offset="0.6653" stop-color="#00ffeb"/><stop offset="0.6687" stop-color="#00ffff"/><stop offset="0.6820" stop-color="#00d7ff"/><stop offset="0.6923" stop-color="#0080ff"/><stop offset="0.7051" stop-color="#2814ff"/><stop offset="0.7110" stop-color="#4600ff"/><stop offset="0.7273" stop-color="#9200ff"/><stop offset="0.7666" stop-color="#6d00ff"/><stop offset="0.8103" stop-color="#5900ff"/><stop offset="1.0000" stop-color="#4f00ff"/></linearGradient>
<linearGradient id="b113" gradientUnits="userSpaceOnUse" x1="557.5" x2="1044" y1="0" y2="0"><stop offset="0.0000" stop-color="#4fff00"/><stop offset="0.0874" stop-color="#6aff00"/><stop offset="0.2683" stop-color="#6fff00"/><stop offset="0.3724" stop-color="#2eff00"/><stop offset="0.4752" stop-color="#25ff00"/><stop offset="0.5122" stop-color="#51ff00"/><stop offset="0.5422" stop-color="#98ff00"/><stop offset="0.5689" stop-color="#acff00"/><stop offset="0.5889" stop-color="#acff00"/><stop offset="0.6211" stop-color="#9dff00"/><stop offset="0.6344" stop-color="#7eff00"/><stop offset="0.6489" stop-color="#00ff00"/><stop offset="0.6652" stop-color="#00ffeb"/><stop offset="0.6686" stop-color="#00ffff"/><stop offset="0.6820" stop-color="#00d7ff"/><stop offset="0.6922" stop-color="#0080ff"/><stop offset="0.7048" stop-color="#2814ff"/><stop offset="0.7107" stop-color="#4600ff"/><stop offset="0.7272" stop-color="#9300ff"/><stop offset="0.7664" stop-color="#6e00ff"/><stop offset="0.8095" stop-color="#5900ff"/><stop offset="1.0000" stop-color="#4f00ff"/></linearGradient>
<linearGradient id="b114" gradientUnits="userSpaceOnUse" x1="557.5" x2="1044" y1="0" y2="0"><stop offset="0.0000" stop-color="#50ff00"/><stop offset="0.0874" stop-color="#69ff00"/><stop offset="0.2695" stop-color="#6eff00"/><stop offset="0.3732" stop-color="#2eff00"/><stop offset="0.4760" stop-color="#26ff00"/><stop offset="0.5130" stop-color="#52ff00"/><stop offset="0.5426" stop-color="#96ff00"/><stop offset="0.5694" stop-color="#a7ff00"/><stop offset="0.5895" stop-color="#a7ff00"/><stop offset="0.6213" stop-color="#9bff00"/><stop offset="0.6343" stop-color="#7eff00"/><stop offset="0.6488" stop-color="#00ff00"/><stop offset="0.6651" stop-color="#00ffeb"/><stop offset="0.6686" stop-color="#00ffff"/><stop offset="0.6820" stop-color="#00d7ff"/><stop offset="0.6920" stop-color="#0080ff"/><stop offset="0.7046" stop-color="#2814ff"/><stop offset="0.7104" stop-color="#4600ff"/><stop offset="0.7270" stop-color="#9500ff"/><stop offset="0.7662" stop-color="#6e00ff"/><stop offset="0.8087" stop-color="#5900ff"/><stop offset="1.0000" stop-color="#4f00ff"/></linearGradient>
<linearGradient id="b115" gradientUnits="userSpaceOnUse" x1="557.5" x2="1044" y1="0" y2="0"><stop offset="0.0000" stop-color="#50ff00"/><stop offset="0.0874" stop-color="#69ff00"/><stop offset="0.2707" stop-color="#6eff00"/><stop offset="0.3740" stop-color="#2eff00"/><stop offset="0.4768" stop-color="#27ff00"/><stop offset="0.5138" stop-color="#53ff00"/><stop offset="0.5431" stop-color="#94ff00"/><stop offset="0.5698" stop-color="#a2ff00"/><stop offset="0.5901" stop-color="#a2ff00"/><stop offset="0.6215" stop-color="#99ff00"/><stop offset="0.6342" stop-color="#7eff00"/><stop offset="0.6487" stop-color="#00ff00"/><stop offset="0.6651" stop-color="#00ffeb"/><stop offset="0.6685" stop-color="#00ffff"/><stop offset="0.6820" stop-color="#00d7ff"/><stop offset="0.6919" stop-color="#0080ff"/><stop offset="0.7043" stop-color="#2814ff"/><stop offset="0.7101" stop-color="#4600ff"/><stop offset="0.7268" stop-color="#9600ff"/><stop offset="0.7659" stop-color="#6f00ff"/><stop offset="0.8079" stop-color="#5a00ff"/><stop offset="1.0000" stop-color="#4f00ff"/></linearGradient>
<linearGradient id="b116" gradientUnits="userSpaceOnUse" x1="557.5" x2="1044" y1="0" y2="0"><stop offset="0.0000" stop-color="#50ff00"/><stop offset="0.0874" stop-color="#69ff00"/><stop offset="0.2718" stop-color="#6eff00"/><stop offset="0.3748" stop-color="#2dff00"/><stop offset="0.4776" stop-color="#28ff00"/><stop offset="0.5146" stop-color="#55ff00"/><stop offset="0.5435" stop-color="#92ff00"/><stop offset="0.5702" stop-color="#9dff00"/><stop offset="0.5907" stop-color="#9dff00"/><stop offset="0.6217" stop-color="#97ff00"/><stop offset="0.6342" stop-color="#7dff00"/><stop offset="0.6486" stop-color="#00ff00"/><stop offset="0.6650" stop-color="#00ffeb"/><stop offset="0.6684" stop-color="#00ffff"/><stop offset="0.6820" stop-color="#00d6ff"/><stop offset="0.6917" stop-color="#0080ff"/><stop offset="0.7041" stop-color="#2814ff"/><stop offset="0.7098" stop-color="#4600ff"/><stop offset="0.7267" stop-color="#9700ff"/><stop offset="0.7658" stop-color="#7000ff"/><stop offset="0.8071" stop-color="#5a00ff"/><stop offset="1.0000" stop-color="#4f00ff"/></linearGradient>
<linearGradient id="c0" gradientUnits="userSpaceOnUse" x1="1371.5" x2="1856" y1="0" y2="0"><stop offset="0.0000" stop-color="#ffe000"/><stop offset="0.2033" stop-color="#ffe500"/><stop offset="0.3889" stop-color="#ffe800"/><stop offset="0.5330" stop-color="#ffe000"/><stop offset="0.5702" stop-color="#ff9200"/><stop offset="0.6074" stop-color="#ff3400"/><stop offset="0.6424" stop-color="#ff2f00"/><stop offset="0.6501" stop-color="#ff6800"/><stop offset="0.6584" stop-color="#ffff00"/><stop offset="0.6698" stop-color="#00ff00"/><stop offset="0.6813" stop-color="#00ff7d"/><stop offset="0.6958" stop-color="#00ffff"/><stop offset="0.7122" stop-color="#0080ff"/><stop offset="0.7234" stop-color="#2224ff"/><stop offset="0.7709" stop-color="#2814ff"/><stop offset="1.0000" stop-color="#1e2fff"/></linearGradient>
<linearGradient id="c1" gradientUnits="userSpaceOnUse" x1="1371.5" x2="1856" y1="0" y2="0"><stop offset="0.0000" stop-color="#ffe000"/><stop offset="0.2033" stop-color="#ffe500"/><stop offset="0.3886" stop-color="#ffe800"/><stop offset="0.5319" stop-color="#ffe000"/><stop offset="0.5693" stop-color="#ff9200"/><stop offset="0.6064" stop-color="#ff3500"/><stop offset="0.6413" stop-color="#ff3000"/><stop offset="0.6499" stop-color="#ff6900"/><stop offset="0.6583" stop-color="#ffff00"/><stop offset="0.6697" stop-color="#00ff00"/><stop offset="0.6813" stop-color="#00ff7d"/><stop offset="0.6958" stop-color="#00ffff"/><stop offset="0.7123" stop-color="#0080ff"/><stop offset="0.7234" stop-color="#2225ff"/><stop offset="0.7709" stop-color="#2715ff"/><stop offset="1.0000" stop-color="#1e2fff"/></linearGradient>
<linearGradient id="c2" gradientUnits="userSpaceOnUse" x1="1371.5" x2="1856" y1="0" y2="0"><stop offset="0.0000" stop-color="#ffe000"/><stop offset="0.2033" stop-color="#ffe500"/><stop offset="0.3883" stop-color="#ffe800"/><stop offset="0.5308" stop-color="#ffe000"/><stop offset="0.5684" stop-color="#ff9200"/><stop offset="0.6054" stop-color="#ff3500"/><stop offset="0.6402" stop-color="#ff3000"/><stop offset="0.6497" stop-color="#ff6900"/><stop offset="0.6582" stop-color="#ffff00"/><stop offset="0.6697" stop-color="#00ff00"/><stop offset="0.6813" stop-color="#00ff7d"/><stop offset="0.6958" stop-color="#00ffff"/><stop offset="0.7123" stop-color="#0080ff"/><stop offset="0.7234" stop-color="#2225ff"/><stop offset="0.7709" stop-color="#2716ff"/><stop offset="1.0000" stop-color="#1e30ff"/></linearGradient>
<linearGradient id="c3" gradientUnits="userSpaceOnUse" x1="1371.5" x2="1856" y1="0" y2="0"><stop offset="0.0000" stop-color="#ffe000"/><stop offset="0.2033" stop-color="#ffe500"/><stop offset="0.3880" stop-color="#ffe800"/><stop offset="0.5296" stop-color="#ffe000"/><stop offset="0.5674" stop-color="#ff9200"/><stop offset="0.6045" stop-color="#ff3600"/><stop offset="0.6390" stop-color="#ff3100"/><stop offset="0.6496" stop-color="#ff6900"/><stop offset="0.6581" stop-color="#ffff00"/><stop offset="0.6697" stop-color="#00ff00"/><stop offset="0.6813" stop-color="#00ff7d"/><stop offset="0.6958" stop-color="#00ffff"/><stop offset="0.7124" stop-color="#0080ff"/><stop offset="0.7234" stop-color="#2126ff"/><stop offset="0.7709" stop-color="#2717ff"/><stop offset="1.0000" stop-color="#1e30ff"/></linearGradient>
<linearGradient id="c4" gradientUnits="userSpaceOnUse" x1="1371.5" x2="1856" y1="0" y2="0"><stop offset="0.0000" stop-color="#ffe000"/><stop offset="0.2033" stop-color="#ffe500"/><stop offset="0.3877" stop-color="#ffe800"/><stop offset="0.5285" stop-color="#ffe000"/><stop offset="0.5665" stop-color="#ff9200"/><stop offset="0.6035" stop-color="#ff3600"/><stop offset="0.6379" stop-color="#ff3100"/><stop offset="0.6494" stop-color="#ff6900"/><stop offset="0.6580" stop-color="#ffff00"/><stop offset="0.6697" stop-color="#00ff00"/><stop offset="0.6813" stop-color="#00ff7d"/><stop offset="0.6958" stop-color="#00ffff"/><stop offset="0.7124" stop-color="#0080ff"/><stop offset="0.7234" stop-color="#2126ff"/><stop offset="0.7709" stop-color="#2618ff"/><stop offset="1.0000" stop-color="#1d30ff"/></linearGradient>
<linearGradient id="c5" gradientUnits="userSpaceOnUse" x1="1371.5" x2="1856" y1="0" y2="0"><stop offset="0.0000" stop-color="#ffe000"/><stop offset="0.2033" stop-color="#ffe500"/><stop offset="0.3874" stop-color="#ffe800"/><stop offset="0.5274" stop-color="#ffe000"/><stop offset="0.5656" stop-color="#ff9200"/><stop offset="0.6026" stop-color="#ff3600"/><stop offset="0.6368" stop-color="#ff3200"/><stop offset="0.6492" stop-color="#ff6a00"/><stop offset="0.6579" stop-color="#ffff00"/><stop offset="0.6697" stop-color="#00ff00"/><stop offset="0.6813" stop-color="#00ff7d"/><stop offset="0.6958" stop-color="#00ffff"/><stop offset="0.7124" stop-color="#0080ff"/><stop offset="0.7234" stop-color="#2127ff"/><stop offset="0.7709" stop-color="#2619ff"/><stop offset="1.0000" stop-color="#1d31ff"/></linearGradient>
<linearGradient id="c6" gradientUnits="userSpaceOnUse" x1="1371.5" x2="1856" y1="0" y2="0"><stop offset="0.0000" stop-color="#ffe000"/><stop offset="0.2033" stop-color="#ffe500"/><stop offset="0.3871" stop-color="#ffe800"/><stop offset="0.5263" stop-color="#ffe000"/><stop offset="0.5647" stop-color="#ff9200"/><stop offset="0.6016" stop-color="#ff3700"/><stop offset="0.6357" stop-color="#ff3200"/><stop offset="0.6491" stop-color="#ff6a00"/><stop offset="0.6578" stop-color="#ffff00"/><stop offset="0.6697" stop-color="#00ff00"/><stop offset="0.6813" stop-color="#00ff7d"/><stop offset="0.6958" stop-color="#00ffff"/><stop offset="0.7125" stop-color="#0080ff"/><stop offset="0.7234" stop-color="#2127ff"/><stop offset="0.7709" stop-color="#261aff"/><stop offset="1.0000" stop-color="#1d31ff"/></linearGradient>
<linearGradient id="c7" gradientUnits="userSpaceOnUse" x1="1371.5" x2="1856" y1="0" y2="0"><stop offset="0.0000" stop-color="#ffe000"/><stop offset="0.2033" stop-color="#ffe500"/><stop offset="0.3867" stop-color="#ffe800"/><stop offset="0.5252" stop-color="#ffe000"/><stop offset="0.5637" stop-color="#ff9200"/><stop offset="0.6007" stop-color="#ff3700"/><stop offset="0.6346" stop-color="#ff3300"/><stop offset="0.6489" stop-color="#ff6a00"/><stop offset="0.6577" stop-color="#ffff00"/><stop offset="0.6696" stop-color="#00ff00"/><stop offset="0.6813" stop-color="#00ff7d"/><stop offset="0.6958" stop-color="#00ffff"/><stop offset="0.7125" stop-color="#0080ff"/><stop offset="0.7234" stop-color="#2128ff"/><stop offset="0.7709" stop-color="#251bff"/><stop offset="1.0000" stop-color="#1d31ff"/></linearGradient>
<linearGradient id="c8" gradientUnits="userSpaceOnUse" x1="1371.5" x2="1856" y1="0" y2="0"><stop offset="0.0000" stop-color="#ffe000"/><stop offset="0.2033" stop-color="#ffe500"/><stop offset="0.3864" stop-color="#ffe800"/><stop offset="0.5241" stop-color="#ffe000"/><stop offset="0.5628" stop-color="#ff9200"/><stop offset="0.5997" stop-color="#ff3800"/><stop offset="0.6335" stop-color="#ff3300"/><stop offset="0.6487" stop-color="#ff6b00"/><stop offset="0.6576" stop-color="#ffff00"/><stop offset="0.6696" stop-color="#00ff00"/><stop offset="0.6813" stop-color="#00ff7d"/><stop offset="0.6958" stop-color="#00ffff"/><stop offset="0.7125" stop-color="#0080ff"/><stop offset="0.7234" stop-color="#2028ff"/><stop offset="0.7709" stop-color="#251cff"/><stop offset="1.0000" stop-color="#1d32ff"/></linearGradient>
<linearGradient id="c9" gradientUnits="userSpaceOnUse" x1="1371.5" x2="1856" y1="0" y2="0"><stop offset="0.0000" stop-color="#ffe000"/><stop offset="0.2033" stop-color="#ffe500"/><stop offset="0.3861" stop-color="#ffe800"/><stop offset="0.5230" stop-color="#ffe000"/><stop offset="0.5619" stop-color="#ff9200"/><stop offset="0.5987" stop-color="#ff3800"/><stop offset="0.6324" stop-color="#ff3400"/><stop offset="0.6485" stop-color="#ff6b00"/><stop offset="0.6575" stop-color="#ffff00"/><stop offset="0.6696" stop-color="#00ff00"/><stop offset="0.6813" stop-color="#00ff7d"/><stop offset="0.6958" stop-color="#00ffff"/><stop offset="0.7126" stop-color="#0080ff"/><stop offset="0.7234" stop-color="#2029ff"/><stop offset="0.7709" stop-color="#251dff"/><stop offset="1.0000" stop-color="#1d32ff"/></linearGradient>
<linearGradient id="c10" gradientUnits="userSpaceOnUse" x1="1371.5" x2="1856" y1="0" y2="0"><stop offset="0.0000" stop-color="#ffe000"/><stop offset="0.2033" stop-color="#ffe500"/><stop offset="0.3858" stop-color="#ffe800"/><stop offset="0.5219" stop-color="#ffe000"/><stop offset="0.5610" stop-color="#ff9300"/><stop offset="0.5978" stop-color="#ff3900"/><stop offset="0.6313" stop-color="#ff3500"/><stop offset="0.6484" stop-color="#ff6b00"/><stop offset="0.6574" stop-color="#ffff00"/><stop offset="0.6696" stop-color="#00ff00"/><stop offset="0.6813" stop-color="#00ff7d"/><stop offset="0.6958" stop-color="#00ffff"/><stop offset="0.7126" stop-color="#0080ff"/><stop offset="0.7234" stop-color="#2029ff"/><stop offset="0.7709" stop-color="#241eff"/><stop offset="1.0000" stop-color="#1d32ff"/></linearGradient>
<linearGradient id="c11" gradientUnits="userSpaceOnUse" x1="1371.5" x2="1856" y1="0" y2="0"><stop offset="0.0000" stop-color="#ffe000"/><stop offset="0.2033" stop-color="#ffe500"/><stop offset="0.3855" stop-color="#ffe800"/><stop offset="0.5207" stop-color="#ffe000"/><stop offset="0.5600" stop-color="#ff9300"/><stop offset="0.5968" stop-color="#ff3900"/><stop offset="0.6301" stop-color="#ff3500"/><stop offset="0.6482" stop-color="#ff6c00"/><stop offset="0.6573" stop-color="#ffff00"/><stop offset="0.6696" stop-color="#00ff00"/><stop offset="0.6813" stop-color="#00ff7d"/><stop offset="0.6958" stop-color="#00ffff"/><stop offset="0.7126" stop-color="#0080ff"/><stop offset="0.7234" stop-color="#202aff"/><stop offset="0.7709" stop-color="#241fff"/><stop offset="1.0000" stop-color="#1d33ff"/></linearGradient>
<linearGradient id="c12" gradientUnits="userSpaceOnUse" x1="1371.5" x2="1856" y1="0" y2="0"><stop offset="0.0000" stop-color="#ffe000"/><stop offset="0.2033" stop-color="#ffe500"/><stop offset="0.3852" stop-color="#ffe800"/><stop offset="0.5196" stop-color="#ffe000"/><stop offset="0.5591" stop-color="#ff9300"/><stop offset="0.5959" stop-color="#ff3900"/><stop offset="0.6290" stop-color="#ff3600"/><stop offset="0.6480" stop-color="#ff6c00"/><stop offset="0.6573" stop-color="#ffff00"/><stop offset="0.6696" stop-color="#00ff00"/><stop offset="0.6813" stop-color="#00ff7d"/><stop offset="0.6958" stop-color="#00ffff"/><stop offset="0.7127" stop-color="#0080ff"/><stop offset="0.7234" stop-color="#202aff"/><stop offset="0.7709" stop-color="#2420ff"/><stop offset="1.0000" stop-color="#1d33ff"/></linearGradient>
<linearGradient id="c13" gradientUnits="userSpaceOnUse" x1="1371.5" x2="1856" y1="0" y2="0"><stop offset="0.0000" stop-color="#ffe000"/><stop offset="0.2033" stop-color="#ffe500"/><stop offset="0.3849" stop-color="#ffe800"/><stop offset="0.5185" stop-color="#ffe000"/><stop offset="0.5582" stop-color="#ff9300"/><stop offset="0.5949" stop-color="#ff3a00"/><stop offset="0.6279" stop-color="#ff3600"/><stop offset="0.6479" stop-color="#ff6c00"/><stop offset="0.6572" stop-color="#ffff00"/><stop offset="0.6696" stop-color="#00ff00"/><stop offset="0.6813" stop-color="#00ff7d"/><stop offset="0.6958" stop-color="#00ffff"/><stop offset="0.7127" stop-color="#0080ff"/><stop offset="0.7234" stop-color="#202bff"/><stop offset="0.7709" stop-color="#2321ff"/><stop offset="1.0000" stop-color="#1c33ff"/></linearGradient>
<linearGradient id="c14" gradientUnits="userSpaceOnUse" x1="1371.5" x2="1856" y1="0" y2="0"><stop offset="0.0000" stop-color="#ffe000"/><stop offset="0.2033" stop-color="#ffe500"/><stop offset="0.3846" stop-color="#ffe800"/><stop offset="0.5174" stop-color="#ffe000"/><stop offset="0.5573" stop-color="#ff9300"/><stop offset="0.5940" stop-color="#ff3a00"/><stop offset="0.6268" stop-color="#ff3700"/><stop offset="0.6477" stop-color="#ff6d00"/><stop offset="0.6571" stop-color="#ffff00"/><stop offset="0.6695" stop-color="#00ff00"/><stop offset="0.6813" stop-color="#00ff7d"/><stop offset="0.6958" stop-color="#00ffff"/><stop offset="0.7128" stop-color="#0080ff"/><stop offset="0.7234" stop-color="#1f2bff"/><stop offset="0.7709" stop-color="#2322ff"/><stop offset="1.0000" stop-color="#1c34ff"/></linearGradient>
<linearGradient id="c15" gradientUnits="userSpaceOnUse" x1="1371.5" x2="1856" y1="0" y2="0"><stop offset="0.0000" stop-color="#ffe000"/><stop offset="0.2033" stop-color="#ffe500"/><stop offset="0.3843" stop-color="#ffe800"/><stop offset="0.5163" stop-color="#ffe000"/><stop offset="0.5563" stop-color="#ff9300"/><stop offset="0.5930" stop-color="#ff3b00"/><stop offset="0.6257" stop-color="#ff3700"/><stop offset="0.6475" stop-color="#ff6d00"/><stop offset="0.6570" stop-color="#ffff00"/><stop offset="0.6695" stop-color="#00ff00"/><stop offset="0.6813" stop-color="#00ff7d"/><stop offset="0.6958" stop-color="#00ffff"/><stop offset="0.7128" stop-color="#0080ff"/><stop offset="0.7234" stop-color="#1f2cff"/><stop offset="0.7709" stop-color="#2223ff"/><stop offset="1.0000" stop-color="#1c34ff"/></linearGradient>
<linearGradient id="c16" gradientUnits="userSpaceOnUse" x1="1371.5" x2="1856" y1="0" y2="0"><stop offset="0.0000" stop-color="#ffe000"/><stop offset="0.2033" stop-color="#ffe500"/><stop offset="0.3840" stop-color="#ffe800"/><stop offset="0.5152" stop-color="#ffe000"/><stop offset="0.5554" stop-color="#ff9300"/><stop offset="0.5920" stop-color="#ff3b00"/><stop offset="0.6246" stop-color="#ff3800"/><stop offset="0.6474" stop-color="#ff6d00"/><stop offset="0.6569" stop-color="#ffff00"/><stop offset="0.6695" stop-color="#00ff00"/><stop offset="0.6813" stop-color="#00ff7d"/><stop offset="0.6958" stop-color="#00ffff"/><stop offset="0.7128" stop-color="#0080ff"/><stop offset="0.7234" stop-color="#1f2cff"/><stop offset="0.7709" stop-color="#2224ff"/><stop offset="1.0000" stop-color="#1c34ff"/></linearGradient>
<linearGradient id="c17" gradientUnits="userSpaceOnUse" x1="1371.5" x2="1856" y1="0" y2="0"><stop offset="0.0000" stop-color="#ffe000"/><stop offset="0.2033" stop-color="#ffe500"/><stop offset="0.3837" stop-color="#ffe800"/><stop offset="0.5141" stop-color="#ffe000"/><stop offset="0.5545" stop-color="#ff9300"/><stop offset="0.5911" stop-color="#ff3c00"/><stop offset="0.6235" stop-color="#ff3800"/><stop offset="0.6472" stop-color="#ff6e00"/><stop offset="0.6568" stop-color="#ffff00"/><stop offset="0.6695" stop-color="#00ff00"/><stop offset="0.6813" stop-color="#00ff7d"/><stop offset="0.6958" stop-color="#00ffff"/><stop offset="0.7129" stop-color="#0080ff"/><stop offset="0.7234" stop-color="#1f2dff"/><stop offset="0.7709" stop-color="#2225ff"/><stop offset="1.0000" stop-color="#1c35ff"/></linearGradient>
<linearGradient id="c18" gradientUnits="userSpaceOnUse" x1="1371.5" x2="1856" y1="0" y2="0"><stop offset="0.0000" stop-color="#ffe000"/><stop offset="0.2033" stop-color="#ffe500"/><stop offset="0.3833" stop-color="#ffe800"/><stop offset="0.5130" stop-color="#ffe000"/><stop offset="0.5535" stop-color="#ff9300"/><stop offset="0.5901" stop-color="#ff3c00"/><stop offset="0.6224" stop-color="#ff3900"/><stop offset="0.6470" stop-color="#ff6e00"/><stop offset="0.6567" stop-color="#ffff00"/><stop offset="0.6695" stop-color="#00ff00"/><stop offset="0.6813" stop-color="#00ff7d"/><stop offset="0.6958" stop-color="#00ffff"/><stop offset="0.7129" stop-color="#0080ff"/><stop offset="0.7234" stop-color="#1f2dff"/><stop offset="0.7709" stop-color="#2126ff"/><stop offset="1.0000" stop-color="#1c35ff"/></linearGradient>
<linearGradient id="c19" gradientUnits="userSpaceOnUse" x1="1371.5" x2="1856" y1="0" y2="0"><stop offset="0.0000" stop-color="#ffe000"/><stop offset="0.2033" stop-color="#ffe500"/><stop offset="0.3830" stop-color="#ffe800"/><stop offset="0.5118" stop-color="#ffe100"/><stop offset="0.5526" stop-color="#ff9300"/><stop offset="0.5892" stop-color="#ff3c00"/><stop offset="0.6212" stop-color="#ff3900"/><stop offset="0.6468" stop-color="#ff6e00"/><stop offset="0.6566" stop-color="#ffff00"/><stop offset="0.6695" stop-color="#00ff00"/><stop offset="0.6813" stop-color="#00ff7d"/><stop offset="0.6958" stop-color="#00ffff"/><stop offset="0.7129" stop-color="#0080ff"/><stop offset="0.7234" stop-color="#1e2eff"/><stop offset="0.7709" stop-color="#2127ff"/><stop offset="1.0000" stop-color="#1c35ff"/></linearGradient>
<linearGradient id="c20" gradientUnits="userSpaceOnUse" x1="1371.5" x2="1856" y1="0" y2="0"><stop offset="0.0000" stop-color="#ffe000"/><stop offset="0.2033" stop-color="#ffe500"/><stop offset="0.3827" stop-color="#ffe800"/><stop offset="0.5107" stop-color="#ffe100"/><stop offset="0.5517" stop-color="#ff9300"/><stop offset="0.5882" stop-color="#ff3d00"/><stop offset="0.6201" stop-color="#ff3a00"/><stop offset="0.6467" stop-color="#ff6e00"/><stop offset="0.6565" stop-color="#ffff00"/><stop offset="0.6694" stop-color="#00ff00"/><stop offset="0.6813" stop-color="#00ff7d"/><stop offset="0.6958" stop-color="#00ffff"/><stop offset="0.7130" stop-color="#0080ff"/><stop offset="0.7234" stop-color="#1e2eff"/><stop offset="0.7709" stop-color="#2128ff"/><stop offset="1.0000" stop-color="#1c36ff"/></linearGradient>
<linearGradient id="c21" gradientUnits="userSpaceOnUse" x1="1371.5" x2="1856" y1="0" y2="0"><stop offset="0.0000" stop-color="#ffe000"/><stop offset="0.2033" stop-color="#ffe500"/><stop offset="0.3824" stop-color="#ffe800"/><stop offset="0.5096" stop-color="#ffe100"/><stop offset="0.5508" stop-color="#ff9300"/><stop offset="0.5872" stop-color="#ff3d00"/><stop offset="0.6190" stop-color="#ff3b00"/><stop offset="0.6465" stop-color="#ff6f00"/><stop offset="0.6564" stop-color="#ffff00"/><stop offset="0.6694" stop-color="#00ff00"/><stop offset="0.6813" stop-color="#00ff7d"/><stop offset="0.6958" stop-color="#00ffff"/><stop offset="0.7130" stop-color="#0080ff"/><stop offset="0.7234" stop-color="#1e2fff"/><stop offset="0.7709" stop-color="#2029ff"/><stop offset="1.0000" stop-color="#1b36ff"/></linearGradient>
<linearGradient id="c22" gradientUnits="userSpaceOnUse" x1="1371.5" x2="1856" y1="0" y2="0"><stop offset="0.0000" stop-color="#ffe000"/><stop offset="0.2033" stop-color="#ffe500"/><stop offset="0.3821" stop-color="#ffe800"/><stop offset="0.5085" stop-color="#ffe100"/><stop offset="0.5498" stop-color="#ff9300"/><stop offset="0.5863" stop-color="#ff3e00"/><stop offset="0.6179" stop-color="#ff3b00"/><stop offset="0.6463" stop-color="#ff6f00"/><stop offset="0.6563" stop-color="#ffff00"/><stop offset="0.6694" stop-color="#00ff00"/><stop offset="0.6813" stop-color="#00ff7d"/><stop offset="0.6958" stop-color="#00ffff"/><stop offset="0.7131" stop-color="#0080ff"/><stop offset="0.7234" stop-color="#1e2fff"/><stop offset="0.7709" stop-color="#202aff"/><stop offset="1.0000" stop-color="#1b36ff"/></linearGradient>
<linearGradient id="c23" gradientUnits="userSpaceOnUse" x1="1371.5" x2="1856" y1="0" y2="0"><stop offset="0.0000" stop-color="#ffe000"/><stop offset="0.2033" stop-color="#ffe500"/><stop offset="0.3818" stop-color="#ffe800"/><stop offset="0.5074" stop-color="#ffe100"/><stop offset="0.5489" stop-color="#ff9400"/><stop offset="0.5853" stop-color="#ff3e00"/><stop offset="0.6168" stop-color="#ff3c00"/><stop offset="0.6462" stop-color="#ff6f00"/><stop offset="0.6562" stop-color="#ffff00"/><stop offset="0.6694" stop-color="#00ff00"/><stop offset="0.6813" stop-color="#00ff7d"/><stop offset="0.6958" stop-color="#00ffff"/><stop offset="0.7131" stop-color="#0080ff"/><stop offset="0.7234" stop-color="#1e30ff"/><stop offset="0.7709" stop-color="#202bff"/><stop offset="1.0000" stop-color="#1b37ff"/></linearGradient>
<linearGradient id="c24" gradientUnits="userSpaceOnUse" x1="1371.5" x2="1856" y1="0" y2="0"><stop offset="0.0000" stop-color="#ffe000"/><stop offset="0.2033" stop-color="#ffe500"/><stop offset="0.3815" stop-color="#ffe900"/><stop offset="0.5063" stop-color="#ffe100"/><stop offset="0.5480" stop-color="#ff9400"/><stop offset="0.5844" stop-color="#ff3f00"/><stop offset="0.6157" stop-color="#ff3c00"/><stop offset="0.6460" stop-color="#ff7000"/><stop offset="0.6561" stop-color="#ffff00"/><stop offset="0.6694" stop-color="#00ff00"/><stop offset="0.6813" stop-color="#00ff7d"/><stop offset="0.6958" stop-color="#00ffff"/><stop offset="0.7131" stop-color="#0080ff"/><stop offset="0.7234" stop-color="#1e30ff"/><stop offset="0.7709" stop-color="#1f2cff"/><stop offset="1.0000" stop-color="#1b37ff"/></linearGradient>
<linearGradient id="c25" gradientUnits="userSpaceOnUse" x1="1371.5" x2="1856" y1="0" y2="0"><stop offset="0.0000" stop-color="#ffe000"/><stop offset="0.2033" stop-color="#ffe500"/><stop offset="0.3812" stop-color="#ffe900"/><stop offset="0.5052" stop-color="#ffe100"/><stop offset="0.5471" stop-color="#ff9400"/><stop offset="0.5834" stop-color="#ff3f00"/><stop offset="0.6146" stop-color="#ff3d00"/><stop offset="0.6458" stop-color="#ff7000"/><stop offset="0.6560" stop-color="#ffff00"/><stop offset="0.6694" stop-color="#00ff00"/><stop offset="0.6813" stop-color="#00ff7d"/><stop offset="0.6958" stop-color="#00ffff"/><stop offset="0.7132" stop-color="#0080ff"/><stop offset="0.7234" stop-color="#1d31ff"/><stop offset="0.7709" stop-color="#1f2dff"/><stop offset="1.0000" stop-color="#1b37ff"/></linearGradient>
<linearGradient id="c26" gradientUnits="userSpaceOnUse" x1="1371.5" x2="1856" y1="0" y2="0"><stop offset="0.0000" stop-color="#ffe000"/><stop offset="0.2033" stop-color="#ffe500"/><stop offset="0.3809" stop-color="#ffe900"/><stop offset="0.5041" stop-color="#ffe100"/><stop offset="0.5461" stop-color="#ff9400"/><stop offset="0.5825" stop-color="#ff3f00"/><stop offset="0.6135" stop-color="#ff3d00"/><stop offset="0.6457" stop-color="#ff7000"/><stop offset="0.6560" stop-color="#ffff00"/><stop offset="0.6694" stop-color="#00ff00"/><stop offset="0.6813" stop-color="#00ff7d"/><stop offset="0.6958" stop-color="#00ffff"/><stop offset="0.7132" stop-color="#0080ff"/><stop offset="0.7234" stop-color="#1d31ff"/><stop offset="0.7709" stop-color="#1e2eff"/><stop offset="1.0000" stop-color="#1b38ff"/></linearGradient>
<linearGradient id="c27" gradientUnits="userSpaceOnUse" x1="1371.5" x2="1856" y1="0" y2="0"><stop offset="0.0000" stop-color="#ffe000"/><stop offset="0.2033" stop-color="#ffe500"/><stop offset="0.3806" stop-color="#ffe900"/><stop offset="0.5030" stop-color="#ffe100"/><stop offset="0.5452" stop-color="#ff9400"/><stop offset="0.5815" stop-color="#ff4000"/><stop offset="0.6123" stop-color="#ff3e00"/><stop offset="0.6455" stop-color="#ff7100"/><stop offset="0.6559" stop-color="#ffff00"/><stop offset="0.6693" stop-color="#00ff00"/><stop offset="0.6813" stop-color="#00ff7d"/><stop offset="0.6958" stop-color="#00ffff"/><stop offset="0.7133" stop-color="#0080ff"/><stop offset="0.7234" stop-color="#1d32ff"/><stop offset="0.7709" stop-color="#1e2fff"/><stop offset="1.0000" stop-color="#1b38ff"/></linearGradient>
<linearGradient id="c28" gradientUnits="userSpaceOnUse" x1="1371.5" x2="1856" y1="0" y2="0"><stop offset="0.0000" stop-color="#ffe000"/><stop offset="0.2033" stop-color="#ffe500"/><stop offset="0.3803" stop-color="#ffe900"/><stop offset="0.5018" stop-color="#ffe100"/><stop offset="0.5443" stop-color="#ff9400"/><stop offset="0.5805" stop-color="#ff4000"/><stop offset="0.6112" stop-color="#ff3e00"/><stop offset="0.6453" stop-color="#ff7100"/><stop offset="0.6558" stop-color="#ffff00"/><stop offset="0.6693" stop-color="#00ff00"/><stop offset="0.6813" stop-color="#00ff7d"/><stop offset="0.6958" stop-color="#00ffff"/><stop offset="0.7133" stop-color="#0080ff"/><stop offset="0.7234" stop-color="#1d32ff"/><stop offset="0.7709" stop-color="#1e30ff"/><stop offset="1.0000" stop-color="#1b38ff"/></linearGradient>
<linearGradient id="c29" gradientUnits="userSpaceOnUse" x1="1371.5" x2="1856" y1="0" y2="0"><stop offset="0.0000" stop-color="#ffe000"/><stop offset="0.2033" stop-color="#ffe500"/><stop offset="0.3799" stop-color="#ffe900"/><stop offset="0.5007" stop-color="#ffe100"/><stop offset="0.5433" stop-color="#ff9400"/><stop offset="0.5796" stop-color="#ff4100"/><stop offset="0.6101" stop-color="#ff3f00"/><stop offset="0.6451" stop-color="#ff7100"/><stop offset="0.6557" stop-color="#ffff00"/><stop offset="0.6693" stop-color="#00ff00"/><stop offset="0.6813" stop-color="#00ff7d"/><stop offset="0.6958" stop-color="#00ffff"/><stop offset="0.7133" stop-color="#0080ff"/><stop offset="0.7234" stop-color="#1d33ff"/><stop offset="0.7709" stop-color="#1d31ff"/><stop offset="1.0000" stop-color="#1a39ff"/></linearGradient>
<linearGradient id="c30" gradientUnits="userSpaceOnUse" x1="1371.5" x2="1856" y1="0" y2="0"><stop offset="0.0000" stop-color="#ffe000"/><stop offset="0.2033" stop-color="#ffe500"/><stop offset="0.3796" stop-color="#ffe900"/><stop offset="0.4996" stop-color="#ffe100"/><stop offset="0.5424" stop-color="#ff9400"/><stop offset="0.5786" stop-color="#ff4100"/><stop offset="0.6090" stop-color="#ff3f00"/><stop offset="0.6450" stop-color="#ff7200"/><stop offset="0.6556" stop-color="#ffff00"/><stop offset="0.6693" stop-color="#00ff00"/><stop offset="0.6813" stop-color="#00ff7d"/><stop offset="0.6958" stop-color="#00ffff"/><stop offset="0.7134" stop-color="#0080ff"/><stop offset="0.7234" stop-color="#1d33ff"/><stop offset="0.7709" stop-color="#1d32ff"/><stop offset="1.0000" stop-color="#1a39ff"/></linearGradient>
<linearGradient id="c31" gradientUnits="userSpaceOnUse" x1="1371.5" x2="1856" y1="0" y2="0"><stop offset="0.0000" stop-color="#ffe000"/><stop offset="0.2033" stop-color="#ffe500"/><stop offset="0.3793" stop-color="#ffe900"/><stop offset="0.4985" stop-color="#ffe100"/><stop offset="0.5415" stop-color="#ff9400"/><stop offset="0.5777" stop-color="#ff4200"/><stop offset="0.6079" stop-color="#ff4000"/><stop offset="0.6448" stop-color="#ff7200"/><stop offset="0.6555" stop-color="#ffff00"/><stop offset="0.6693" stop-color="#00ff00"/><stop offset="0.6813" stop-color="#00ff7d"/><stop offset="0.6958" stop-color="#00ffff"/><stop offset="0.7134" stop-color="#0080ff"/><stop offset="0.7234" stop-color="#1c33ff"/><stop offset="0.7709" stop-color="#1d33ff"/><stop offset="1.0000" stop-color="#1a39ff"/></linearGradient>
<linearGradient id="c32" gradientUnits="userSpaceOnUse" x1="1371.5" x2="1856" y1="0" y2="0"><stop offset="0.0000" stop-color="#ffe000"/><stop offset="0.2033" stop-color="#ffe500"/><stop offset="0.3790" stop-color="#ffe900"/><stop offset="0.4974" stop-color="#ffe100"/><stop offset="0.5406" stop-color="#ff9400"/><stop offset="0.5767" stop-color="#ff4200"/><stop offset="0.6068" stop-color="#ff4100"/><stop offset="0.6446" stop-color="#ff7200"/><stop offset="0.6554" stop-color="#ffff00"/><stop offset="0.6693" stop-color="#00ff00"/><stop offset="0.6813" stop-color="#00ff7d"/><stop offset="0.6958" stop-color="#00ffff"/><stop offset="0.7135" stop-color="#0080ff"/><stop offset="0.7234" stop-color="#1c34ff"/><stop offset="0.7709" stop-color="#1c34ff"/><stop offset="1.0000" stop-color="#1a3aff"/></linearGradient>
<linearGradient id="c33" gradientUnits="userSpaceOnUse" x1="1371.5" x2="1856" y1="0" y2="0"><stop offset="0.0000" stop-color="#ffe000"/><stop offset="0.2033" stop-color="#ffe500"/><stop offset="0.3787" stop-color="#ffe900"/><stop offset="0.4963" stop-color="#ffe100"/><stop offset="0.5396" stop-color="#ff9400"/><stop offset="0.5758" stop-color="#ff4200"/><stop offset="0.6057" stop-color="#ff4100"/><stop offset="0.6445" stop-color="#ff7300"/><stop offset="0.6553" stop-color="#ffff00"/><stop offset="0.6692" stop-color="#00ff00"/><stop offset="0.6813" stop-color="#00ff7d"/><stop offset="0.6958" stop-color="#00ffff"/><stop offset="0.7135" stop-color="#0080ff"/><stop offset="0.7234" stop-color="#1c34ff"/><stop offset="0.7709" stop-color="#1c34ff"/><stop offset="1.0000" stop-color="#1a3aff"/></linearGradient>
<linearGradient id="c34" gradientUnits="userSpaceOnUse" x1="1371.5" x2="1856" y1="0" y2="0"><stop offset="0.0000" stop-color="#ffe000"/><stop offset="0.2033" stop-color="#ffe500"/><stop offset="0.3784" stop-color="#ffe900"/><stop offset="0.4952" stop-color="#ffe100"/><stop offset="0.5387" stop-color="#ff9400"/><stop offset="0.5748" stop-color="#ff4300"/><stop offset="0.6046" stop-color="#ff4200"/><stop offset="0.6443" stop-color="#ff7300"/><stop offset="0.6552" stop-color="#ffff00"/><stop offset="0.6692" stop-color="#00ff00"/><stop offset="0.6813" stop-color="#00ff7d"/><stop offset="0.6958" stop-color="#00ffff"/><stop offset="0.7135" stop-color="#0080ff"/><stop offset="0.7234" stop-color="#1c35ff"/><stop offset="0.7709" stop-color="#1c35ff"/><stop offset="1.0000" stop-color="#1a3aff"/></linearGradient>
<linearGradient id="c35" gradientUnits="userSpaceOnUse" x1="1371.5" x2="1856" y1="0" y2="0"><stop offset="0.0000" stop-color="#ffe000"/><stop offset="0.2033" stop-color="#ffe500"/><stop offset="0.3781" stop-color="#ffe900"/><stop offset="0.4941" stop-color="#ffe100"/><stop offset="0.5378" stop-color="#ff9400"/><stop offset="0.5738" stop-color="#ff4300"/><stop offset="0.6034" stop-color="#ff4200"/><stop offset="0.6441" stop-color="#ff7300"/><stop offset="0.6551" stop-color="#ffff00"/><stop offset="0.6692" stop-color="#00ff00"/><stop offset="0.6813" stop-color="#00ff7d"/><stop offset="0.6958" stop-color="#00ffff"/><stop offset="0.7136" stop-color="#0080ff"/><stop offset="0.7234" stop-color="#1c35ff"/><stop offset="0.7709" stop-color="#1b36ff"/><stop offset="1.0000" stop-color="#1a3aff"/></linearGradient>
<linearGradient id="c36" gradientUnits="userSpaceOnUse" x1="1371.5" x2="1856" y1="0" y2="0"><stop offset="0.0000" stop-color="#ffe000"/><stop offset="0.2033" stop-color="#ffe500"/><stop offset="0.3778" stop-color="#ffe900"/><stop offset="0.4929" stop-color="#ffe100"/><stop offset="0.5369" stop-color="#ff9500"/><stop offset="0.5729" stop-color="#ff4400"/><stop offset="0.6023" stop-color="#ff4300"/><stop offset="0.6440" stop-color="#ff7300"/><stop offset="0.6550" stop-color="#ffff00"/><stop offset="0.6692" stop-color="#00ff00"/><stop offset="0.6813" stop-color="#00ff7d"/><stop offset="0.6958" stop-color="#00ffff"/><stop offset="0.7136" stop-color="#0080ff"/><stop offset="0.7234" stop-color="#1b36ff"/><stop offset="0.7709" stop-color="#1b37ff"/><stop offset="1.0000" stop-color="#1a3bff"/></linearGradient>
<linearGradient id="c37" gradientUnits="userSpaceOnUse" x1="1371.5" x2="1856" y1="0" y2="0"><stop offset="0.0000" stop-color="#ffe000"/><stop offset="0.2033" stop-color="#ffe500"/><stop offset="0.3775" stop-color="#ffe900"/><stop offset="0.4918" stop-color="#ffe100"/><stop offset="0.5359" stop-color="#ff9500"/><stop offset="0.5719" stop-color="#ff4400"/><stop offset="0.6012" stop-color="#ff4300"/><stop offset="0.6438" stop-color="#ff7400"/><stop offset="0.6549" stop-color="#ffff00"/><stop offset="0.6692" stop-color="#00ff00"/><stop offset="0.6813" stop-color="#00ff7d"/><stop offset="0.6958" stop-color="#00ffff"/><stop offset="0.7137" stop-color="#0080ff"/><stop offset="0.7234" stop-color="#1b36ff"/><stop offset="0.7709" stop-color="#1b38ff"/><stop offset="1.0000" stop-color="#1a3bff"/></linearGradient>
<linearGradient id="c38" gradientUnits="userSpaceOnUse" x1="1371.5" x2="1856" y1="0" y2="0"><stop offset="0.0000" stop-color="#ffe000"/><stop offset="0.2033" stop-color="#ffe500"/><stop offset="0.3772" stop-color="#ffe900"/><stop offset="0.4907" stop-color="#ffe100"/><stop offset="0.5350" stop-color="#ff9500"/><stop offset="0.5710" stop-color="#ff4500"/><stop offset="0.6001" stop-color="#ff4400"/><stop offset="0.6436" stop-color="#ff7400"/><stop offset="0.6548" stop-color="#ffff00"/><stop offset="0.6692" stop-color="#00ff00"/><stop offset="0.6813" stop-color="#00ff7d"/><stop offset="0.6958" stop-color="#00ffff"/><stop offset="0.7137" stop-color="#0080ff"/><stop offset="0.7234" stop-color="#1b37ff"/><stop offset="0.7709" stop-color="#1a39ff"/><stop offset="1.0000" stop-color="#193bff"/></linearGradient>
<linearGradient id="c39" gradientUnits="userSpaceOnUse" x1="1371.5" x2="1856" y1="0" y2="0"><stop offset="0.0000" stop-color="#ffe000"/><stop offset="0.2033" stop-color="#ffe500"/><stop offset="0.3769" stop-color="#ffe900"/><stop offset="0.4896" stop-color="#ffe100"/><stop offset="0.5341" stop-color="#ff9500"/><stop offset="0.5700" stop-color="#ff4500"/><stop offset="0.5990" stop-color="#ff4400"/><stop offset="0.6434" stop-color="#ff7400"/><stop offset="0.6547" stop-color="#ffff00"/><stop offset="0.6692" stop-color="#00ff00"/><stop offset="0.6813" stop-color="#00ff7d"/><stop offset="0.6958" stop-color="#00ffff"/><stop offset="0.7138" stop-color="#0080ff"/><stop offset="0.7234" stop-color="#1b37ff"/><stop offset="0.7709" stop-color="#1a3aff"/><stop offset="1.0000" stop-color="#193cff"/></linearGradient>
<linearGradient id="c40" gradientUnits="userSpaceOnUse" x1="1371.5" x2="1856" y1="0" y2="0"><stop offset="0.0000" stop-color="#ffe000"/><stop offset="0.2033" stop-color="#ffe500"/><stop offset="0.3765" stop-color="#ffe900"/><stop offset="0.4885" stop-color="#ffe100"/><stop offset="0.5332" stop-color="#ff9500"/><stop offset="0.5691" stop-color="#ff4500"/><stop offset="0.5979" stop-color="#ff4500"/><stop offset="0.6433" stop-color="#ff7500"/><stop offset="0.6547" stop-color="#ffff00"/><stop offset="0.6691" stop-color="#00ff00"/><stop offset="0.6813" stop-color="#00ff7d"/><stop offset="0.6958" stop-color="#00ffff"/><stop offset="0.7138" stop-color="#0080ff"/><stop offset="0.7234" stop-color="#1b38ff"/><stop offset="0.7709" stop-color="#193bff"/><stop offset="1.0000" stop-color="#193cff"/></linearGradient>
<linearGradient id="c41" gradientUnits="userSpaceOnUse" x1="1371.5" x2="1856" y1="0" y2="0"><stop offset="0.0000" stop-color="#ffe000"/><stop offset="0.2033" stop-color="#ffe500"/><stop offset="0.3762" stop-color="#ffe900"/><stop offset="0.4874" stop-color="#ffe100"/><stop offset="0.5322" stop-color="#ff9500"/><stop offset="0.5681" stop-color="#ff4600"/><stop offset="0.5968" stop-color="#ff4500"/><stop offset="0.6431" stop-color="#ff7500"/><stop offset="0.6546" stop-color="#ffff00"/><stop offset="0.6691" stop-color="#00ff00"/><stop offset="0.6813" stop-color="#00ff7d"/><stop offset="0.6958" stop-color="#00ffff"/><stop offset="0.7138" stop-color="#0080ff"/><stop offset="0.7234" stop-color="#1b38ff"/><stop offset="0.7709" stop-color="#193cff"/><stop offset="1.0000" stop-color="#193cff"/></linearGradient>
<linearGradient id="c42" gradientUnits="userSpaceOnUse" x1="1371.5" x2="1856" y1="0" y2="0"><stop offset="0.0000" stop-color="#ffe000"/><stop offset="0.2033" stop-color="#ffe500"/><stop offset="0.3759" stop-color="#ffe900"/><stop offset="0.4863" stop-color="#ffe100"/><stop offset="0.5313" stop-color="#ff9500"/><stop offset="0.5671" stop-color="#ff4600"/><stop offset="0.5957" stop-color="#ff4600"/><stop offset="0.6429" stop-color="#ff7500"/><stop offset="0.6545" stop-color="#ffff00"/><stop offset="0.6691" stop-color="#00ff00"/><stop offset="0.6813" stop-color="#00ff7d"/><stop offset="0.6958" stop-color="#00ffff"/><stop offset="0.7139" stop-color="#0080ff"/><stop offset="0.7234" stop-color="#1a39ff"/><stop offset="0.7709" stop-color="#193dff"/><stop offset="1.0000" stop-color="#193dff"/></linearGradient>
<linearGradient id="c43" gradientUnits="userSpaceOnUse" x1="1371.5" x2="1856" y1="0" y2="0"><stop offset="0.0000" stop-color="#ffe000"/><stop offset="0.2033" stop-color="#ffe500"/><stop offset="0.3756" stop-color="#ffe900"/><stop offset="0.4852" stop-color="#ffe100"/><stop offset="0.5304" stop-color="#ff9500"/><stop offset="0.5662" stop-color="#ff4700"/><stop offset="0.5945" stop-color="#ff4700"/><stop offset="0.6428" stop-color="#ff7600"/><stop offset="0.6544" stop-color="#ffff00"/><stop offset="0.6691" stop-color="#00ff00"/><stop offset="0.6813" stop-color="#00ff7d"/><stop offset="0.6958" stop-color="#00ffff"/><stop offset="0.7139" stop-color="#0080ff"/><stop offset="0.7234" stop-color="#1a39ff"/><stop offset="0.7709" stop-color="#183eff"/><stop offset="1.0000" stop-color="#193dff"/></linearGradient>
<linearGradient id="c44" gradientUnits="userSpaceOnUse" x1="1371.5" x2="1856" y1="0" y2="0"><stop offset="0.0000" stop-color="#ffe000"/><stop offset="0.2033" stop-color="#ffe500"/><stop offset="0.3753" stop-color="#ffe900"/><stop offset="0.4840" stop-color="#ffe200"/><stop offset="0.5294" stop-color="#ff9500"/><stop offset="0.5652" stop-color="#ff4700"/><stop offset="0.5934" stop-color="#ff4700"/><stop offset="0.6426" stop-color="#ff7600"/><stop offset="0.6543" stop-color="#ffff00"/><stop offset="0.6691" stop-color="#00ff00"/><stop offset="0.6813" stop-color="#00ff7d"/><stop offset="0.6958" stop-color="#00ffff"/><stop offset="0.7140" stop-color="#0080ff"/><stop offset="0.7234" stop-color="#1a3aff"/><stop offset="0.7709" stop-color="#183fff"/><stop offset="1.0000" stop-color="#193dff"/></linearGradient>
<linearGradient id="c45" gradientUnits="userSpaceOnUse" x1="1371.5" x2="1856" y1="0" y2="0"><stop offset="0.0000" stop-color="#ffe000"/><stop offset="0.2033" stop-color="#ffe500"/><stop offset="0.3750" stop-color="#ffe900"/><stop offset="0.4829" stop-color="#ffe200"/><stop offset="0.5285" stop-color="#ff9500"/><stop offset="0.5643" stop-color="#ff4800"/><stop offset="0.5923" stop-color="#ff4800"/><stop offset="0.6424" stop-color="#ff7600"/><stop offset="0.6542" stop-color="#ffff00"/><stop offset="0.6691" stop-color="#00ff00"/><stop offset="0.6813" stop-color="#00ff7d"/><stop offset="0.6958" stop-color="#00ffff"/><stop offset="0.7140" stop-color="#0080ff"/><stop offset="0.7234" stop-color="#1a3aff"/><stop offset="0.7709" stop-color="#1840ff"/><stop offset="1.0000" stop-color="#193eff"/></linearGradient>
<linearGradient id="c46" gradientUnits="userSpaceOnUse" x1="1371.5" x2="1856" y1="0" y2="0"><stop offset="0.0000" stop-color="#ffe000"/><stop offset="0.2033" stop-color="#ffe500"/><stop offset="0.3747" stop-color="#ffe900"/><stop offset="0.4818" stop-color="#ffe200"/><stop offset="0.5276" stop-color="#ff9500"/><stop offset="0.5633" stop-color="#ff4800"/><stop offset="0.5912" stop-color="#ff4800"/><stop offset="0.6423" stop-color="#ff7700"/><stop offset="0.6541" stop-color="#ffff00"/><stop offset="0.6690" stop-color="#00ff00"/><stop offset="0.6813" stop-color="#00ff7d"/><stop offset="0.6958" stop-color="#00ffff"/><stop offset="0.7140" stop-color="#0080ff"/><stop offset="0.7234" stop-color="#1a3bff"/><stop offset="0.7709" stop-color="#1741ff"/><stop offset="1.0000" stop-color="#183eff"/></linearGradient>
<linearGradient id="c47" gradientUnits="userSpaceOnUse" x1="1371.5" x2="1856" y1="0" y2="0"><stop offset="0.0000" stop-color="#ffe000"/><stop offset="0.2033" stop-color="#ffe500"/><stop offset="0.3744" stop-color="#ffe900"/><stop offset="0.4807" stop-color="#ffe200"/><stop offset="0.5267" stop-color="#ff9500"/><stop offset="0.5623" stop-color="#ff4800"/><stop offset="0.5901" stop-color="#ff4900"/><stop offset="0.6421" stop-color="#ff7700"/><stop offset="0.6540" stop-color="#ffff00"/><stop offset="0.6690" stop-color="#00ff00"/><stop offset="0.6813" stop-color="#00ff7d"/><stop offset="0.6958" stop-color="#00ffff"/><stop offset="0.7141" stop-color="#0080ff"/><stop offset="0.7234" stop-color="#193bff"/><stop offset="0.7709" stop-color="#1742ff"/><stop offset="1.0000" stop-color="#183eff"/></linearGradient>
<linearGradient id="c48" gradientUnits="userSpaceOnUse" x1="1371.5" x2="1856" y1="0" y2="0"><stop offset="0.0000" stop-color="#ffe000"/><stop offset="0.2033" stop-color="#ffe500"/><stop offset="0.3741" stop-color="#ffe900"/><stop offset="0.4796" stop-color="#ffe200"/><stop offset="0.5257" stop-color="#ff9500"/><stop offset="0.5614" stop-color="#ff4900"/><stop offset="0.5890" stop-color="#ff4900"/><stop offset="0.6419" stop-color="#ff7700"/><stop offset="0.6539" stop-color="#ffff00"/><stop offset="0.6690" stop-color="#00ff00"/><stop offset="0.6813" stop-color="#00ff7d"/><stop offset="0.6958" stop-color="#00ffff"/><stop offset="0.7141" stop-color="#0080ff"/><stop offset="0.7234" stop-color="#193cff"/><stop offset="0.7709" stop-color="#1743ff"/><stop offset="1.0000" stop-color="#183fff"/></linearGradient>
<linearGradient id="c49" gradientUnits="userSpaceOnUse" x1="1371.5" x2="1856" y1="0" y2="0"><stop offset="0.0000" stop-color="#ffe000"/><stop offset="0.2033" stop-color="#ffe500"/><stop offset="0.3738" stop-color="#ffea00"/><stop offset="0.4785" stop-color="#ffe200"/><stop offset="0.5248" stop-color="#ff9600"/><stop offset="0.5604" stop-color="#ff4900"/><stop offset="0.5879" stop-color="#ff4a00"/><stop offset="0.6417" stop-color="#ff7800"/><stop offset="0.6538" stop-color="#ffff00"/><stop offset="0.6690" stop-color="#00ff00"/><stop offset="0.6813" stop-color="#00ff7d"/><stop offset="0.6958" stop-color="#00ffff"/><stop offset="0.7142" stop-color="#0080ff"/><stop offset="0.7234" stop-color="#193cff"/><stop offset="0.7709" stop-color="#1644ff"/><stop offset="1.0000" stop-color="#183fff"/></linearGradient>
<linearGradient id="c50" gradientUnits="userSpaceOnUse" x1="1371.5" x2="1856" y1="0" y2="0"><stop offset="0.0000" stop-color="#ffe000"/><stop offset="0.2033" stop-color="#ffe500"/><stop offset="0.3735" stop-color="#ffea00"/><stop offset="0.4774" stop-color="#ffe200"/><stop offset="0.5239" stop-color="#ff9600"/><stop offset="0.5595" stop-color="#ff4a00"/><stop offset="0.5868" stop-color="#ff4a00"/><stop offset="0.6416" stop-color="#ff7800"/><stop offset="0.6537" stop-color="#ffff00"/><stop offset="0.6690" stop-color="#00ff00"/><stop offset="0.6813" stop-color="#00ff7d"/><stop offset="0.6958" stop-color="#00ffff"/><stop offset="0.7142" stop-color="#0080ff"/><stop offset="0.7234" stop-color="#193dff"/><stop offset="0.7709" stop-color="#1645ff"/><stop offset="1.0000" stop-color="#183fff"/></linearGradient>
<linearGradient id="c51" gradientUnits="userSpaceOnUse" x1="1371.5" x2="1856" y1="0" y2="0"><stop offset="0.0000" stop-color="#ffe000"/><stop offset="0.2033" stop-color="#ffe500"/><stop offset="0.3731" stop-color="#ffea00"/><stop offset="0.4763" stop-color="#ffe200"/><stop offset="0.5230" stop-color="#ff9600"/><stop offset="0.5585" stop-color="#ff4a00"/><stop offset="0.5856" stop-color="#ff4b00"/><stop offset="0.6414" stop-color="#ff7800"/><stop offset="0.6536" stop-color="#ffff00"/><stop offset="0.6690" stop-color="#00ff00"/><stop offset="0.6813" stop-color="#00ff7d"/><stop offset="0.6958" stop-color="#00ffff"/><stop offset="0.7143" stop-color="#0080ff"/><stop offset="0.7234" stop-color="#193dff"/><stop offset="0.7709" stop-color="#1546ff"/><stop offset="1.0000" stop-color="#1840ff"/></linearGradient>
<linearGradient id="c52" gradientUnits="userSpaceOnUse" x1="1371.5" x2="1856" y1="0" y2="0"><stop offset="0.0000" stop-color="#ffe000"/><stop offset="0.2033" stop-color="#ffe500"/><stop offset="0.3728" stop-color="#ffea00"/><stop offset="0.4751" stop-color="#ffe200"/><stop offset="0.5220" stop-color="#ff9600"/><stop offset="0.5576" stop-color="#ff4b00"/><stop offset="0.5845" stop-color="#ff4b00"/><stop offset="0.6412" stop-color="#ff7800"/><stop offset="0.6535" stop-color="#ffff00"/><stop offset="0.6690" stop-color="#00ff00"/><stop offset="0.6813" stop-color="#00ff7d"/><stop offset="0.6958" stop-color="#00ffff"/><stop offset="0.7143" stop-color="#0080ff"/><stop offset="0.7234" stop-color="#193eff"/><stop offset="0.7709" stop-color="#1547ff"/><stop offset="1.0000" stop-color="#1840ff"/></linearGradient>
<linearGradient id="c53" gradientUnits="userSpaceOnUse" x1="1371.5" x2="1856" y1="0" y2="0"><stop offset="0.0000" stop-color="#ffe000"/><stop offset="0.2033" stop-color="#ffe500"/><stop offset="0.3725" stop-color="#ffea00"/><stop offset="0.4740" stop-color="#ffe200"/><stop offset="0.5211" stop-color="#ff9600"/><stop offset="0.5566" stop-color="#ff4b00"/><stop offset="0.5834" stop-color="#ff4c00"/><stop offset="0.6411" stop-color="#ff7900"/><stop offset="0.6535" stop-color="#ffff00"/><stop offset="0.6689" stop-color="#00ff00"/><stop offset="0.6813" stop-color="#00ff7d"/><stop offset="0.6958" stop-color="#00ffff"/><stop offset="0.7144" stop-color="#0080ff"/><stop offset="0.7234" stop-color="#183eff"/><stop offset="0.7709" stop-color="#1548ff"/><stop offset="1.0000" stop-color="#1840ff"/></linearGradient>
<linearGradient id="c54" gradientUnits="userSpaceOnUse" x1="1371.5" x2="1856" y1="0" y2="0"><stop offset="0.0000" stop-color="#ffe000"/><stop offset="0.2033" stop-color="#ffe500"/><stop offset="0.3722" stop-color="#ffea00"/><stop offset="0.4729" stop-color="#ffe200"/><stop offset="0.5202" stop-color="#ff9600"/><stop offset="0.5556" stop-color="#ff4b00"/><stop offset="0.5823" stop-color="#ff4d00"/><stop offset="0.6409" stop-color="#ff7900"/><stop offset="0.6534" stop-color="#ffff00"/><stop offset="0.6689" stop-color="#00ff00"/><stop offset="0.6813" stop-color="#00ff7d"/><stop offset="0.6958" stop-color="#00ffff"/><stop offset="0.7144" stop-color="#0080ff"/><stop offset="0.7234" stop-color="#183fff"/><stop offset="0.7709" stop-color="#1449ff"/><stop offset="1.0000" stop-color="#1741ff"/></linearGradient>
<linearGradient id="c55" gradientUnits="userSpaceOnUse" x1="1371.5" x2="1856" y1="0" y2="0"><stop offset="0.0000" stop-color="#ffe000"/><stop offset="0.2033" stop-color="#ffe500"/><stop offset="0.3719" stop-color="#ffea00"/><stop offset="0.4718" stop-color="#ffe200"/><stop offset="0.5192" stop-color="#ff9600"/><stop offset="0.5547" stop-color="#ff4c00"/><stop offset="0.5812" stop-color="#ff4d00"/><stop offset="0.6407" stop-color="#ff7900"/><stop offset="0.6533" stop-color="#ffff00"/><stop offset="0.6689" stop-color="#00ff00"/><stop offset="0.6813" stop-color="#00ff7d"/><stop offset="0.6958" stop-color="#00ffff"/><stop offset="0.7144" stop-color="#0080ff"/><stop offset="0.7234" stop-color="#183fff"/><stop offset="0.7709" stop-color="#144aff"/><stop offset="1.0000" stop-color="#1741ff"/></linearGradient>
<linearGradient id="c56" gradientUnits="userSpaceOnUse" x1="1371.5" x2="1856" y1="0" y2="0"><stop offset="0.0000" stop-color="#ffe000"/><stop offset="0.2033" stop-color="#ffe500"/><stop offset="0.3716" stop-color="#ffea00"/><stop offset="0.4707" stop-color="#ffe200"/><stop offset="0.5183" stop-color="#ff9600"/><stop offset="0.5537" stop-color="#ff4c00"/><stop offset="0.5801" stop-color="#ff4e00"/><stop offset="0.6406" stop-color="#ff7a00"/><stop offset="0.6532" stop-color="#ffff00"/><stop offset="0.6689" stop-color="#00ff00"/><stop offset="0.6813" stop-color="#00ff7d"/><stop offset="0.6958" stop-color="#00ffff"/><stop offset="0.7145" stop-color="#0080ff"/><stop offset="0.7234" stop-color="#1840ff"/><stop offset="0.7709" stop-color="#144bff"/><stop offset="1.0000" stop-color="#1741ff"/></linearGradient>
<linearGradient id="c57" gradientUnits="userSpaceOnUse" x1="1371.5" x2="1856" y1="0" y2="0"><stop offset="0.0000" stop-color="#ffe000"/><stop offset="0.2033" stop-color="#ffe500"/><stop offset="0.3713" stop-color="#ffea00"/><stop offset="0.4696" stop-color="#ffe200"/><stop offset="0.5174" stop-color="#ff9600"/><stop offset="0.5528" stop-color="#ff4d00"/><stop offset="0.5790" stop-color="#ff4e00"/><stop offset="0.6404" stop-color="#ff7a00"/><stop offset="0.6531" stop-color="#ffff00"/><stop offset="0.6689" stop-color="#00ff00"/><stop offset="0.6813" stop-color="#00ff7d"/><stop offset="0.6958" stop-color="#00ffff"/><stop offset="0.7145" stop-color="#0080ff"/><stop offset="0.7234" stop-color="#1840ff"/><stop offset="0.7709" stop-color="#134cff"/><stop offset="1.0000" stop-color="#1742ff"/></linearGradient>
<linearGradient id="c58" gradientUnits="userSpaceOnUse" x1="1371.5" x2="1856" y1="0" y2="0"><stop offset="0.0000" stop-color="#ffe000"/><stop offset="0.2033" stop-color="#ffe500"/><stop offset="0.3710" stop-color="#ffea00"/><stop offset="0.4685" stop-color="#ffe200"/><stop offset="0.5165" stop-color="#ff9600"/><stop offset="0.5518" stop-color="#ff4d00"/><stop offset="0.5779" stop-color="#ff4f00"/><stop offset="0.6402" stop-color="#ff7a00"/><stop offset="0.6530" stop-color="#ffff00"/><stop offset="0.6689" stop-color="#00ff00"/><stop offset="0.6813" stop-color="#00ff7d"/><stop offset="0.6958" stop-color="#00ffff"/><stop offset="0.7146" stop-color="#0080ff"/><stop offset="0.7234" stop-color="#1741ff"/><stop offset="0.7709" stop-color="#134dff"/><stop offset="1.0000" stop-color="#1742ff"/></linearGradient>
<linearGradient id="c59" gradientUnits="userSpaceOnUse" x1="1371.5" x2="1856" y1="0" y2="0"><stop offset="0.0000" stop-color="#ffe000"/><stop offset="0.2033" stop-color="#ffe500"/><stop offset="0.3707" stop-color="#ffea00"/><stop offset="0.4674" stop-color="#ffe200"/><stop offset="0.5155" stop-color="#ff9600"/><stop offset="0.5509" stop-color="#ff4e00"/><stop offset="0.5767" stop-color="#ff4f00"/><stop offset="0.6400" stop-color="#ff7b00"/><stop offset="0.6529" stop-color="#ffff00"/><stop offset="0.6688" stop-color="#00ff00"/><stop offset="0.6813" stop-color="#00ff7d"/><stop offset="0.6958" stop-color="#00ffff"/><stop offset="0.7146" stop-color="#0080ff"/><stop offset="0.7234" stop-color="#1741ff"/><stop offset="0.7709" stop-color="#134eff"/><stop offset="1.0000" stop-color="#1742ff"/></linearGradient>
<linearGradient id="c60" gradientUnits="userSpaceOnUse" x1="1371.5" x2="1856" y1="0" y2="0"><stop offset="0.0000" stop-color="#ffe000"/><stop offset="0.2033" stop-color="#ffe500"/><stop offset="0.3704" stop-color="#ffea00"/><stop offset="0.4662" stop-color="#ffe200"/><stop offset="0.5146" stop-color="#ff9600"/><stop offset="0.5499" stop-color="#ff4e00"/><stop offset="0.5756" stop-color="#ff5000"/><stop offset="0.6399" stop-color="#ff7b00"/><stop offset="0.6528" stop-color="#ffff00"/><stop offset="0.6688" stop-color="#00ff00"/><stop offset="0.6813" stop-color="#00ff7d"/><stop offset="0.6958" stop-color="#00ffff"/><stop offset="0.7147" stop-color="#0080ff"/><stop offset="0.7234" stop-color="#1742ff"/><stop offset="0.7709" stop-color="#124fff"/><stop offset="1.0000" stop-color="#1743ff"/></linearGradient>
<linearGradient id="c61" gradientUnits="userSpaceOnUse" x1="1371.5" x2="1856" y1="0" y2="0"><stop offset="0.0000" stop-color="#ffe000"/><stop offset="0.2033" stop-color="#ffe500"/><stop offset="0.3701" stop-color="#ffea00"/><stop offset="0.4651" stop-color="#ffe200"/><stop offset="0.5137" stop-color="#ff9700"/><stop offset="0.5489" stop-color="#ff4e00"/><stop offset="0.5745" stop-color="#ff5000"/><stop offset="0.6397" stop-color="#ff7b00"/><stop offset="0.6527" stop-color="#ffff00"/><stop offset="0.6688" stop-color="#00ff00"/><stop offset="0.6813" stop-color="#00ff7d"/><stop offset="0.6958" stop-color="#00ffff"/><stop offset="0.7147" stop-color="#0080ff"/><stop offset="0.7234" stop-color="#1742ff"/><stop offset="0.7709" stop-color="#1250ff"/><stop offset="1.0000" stop-color="#1743ff"/></linearGradient>
<linearGradient id="c62" gradientUnits="userSpaceOnUse" x1="1371.5" x2="1856" y1="0" y2="0"><stop offset="0.0000" stop-color="#ffe000"/><stop offset="0.2033" stop-color="#ffe500"/><stop offset="0.3697" stop-color="#ffea00"/><stop offset="0.4640" stop-color="#ffe200"/><stop offset="0.5128" stop-color="#ff9700"/><stop offset="0.5480" stop-color="#ff4f00"/><stop offset="0.5734" stop-color="#ff5100"/><stop offset="0.6395" stop-color="#ff7c00"/><stop offset="0.6526" stop-color="#ffff00"/><stop offset="0.6688" stop-color="#00ff00"/><stop offset="0.6813" stop-color="#00ff7d"/><stop offset="0.6958" stop-color="#00ffff"/><stop offset="0.7148" stop-color="#0080ff"/><stop offset="0.7234" stop-color="#1743ff"/><stop offset="0.7709" stop-color="#1251ff"/><stop offset="1.0000" stop-color="#1743ff"/></linearGradient>
<linearGradient id="c63" gradientUnits="userSpaceOnUse" x1="1371.5" x2="1856" y1="0" y2="0"><stop offset="0.0000" stop-color="#ffe000"/><stop offset="0.2033" stop-color="#ffe500"/><stop offset="0.3694" stop-color="#ffea00"/><stop offset="0.4629" stop-color="#ffe200"/><stop offset="0.5118" stop-color="#ff9700"/><stop offset="0.5470" stop-color="#ff4f00"/><stop offset="0.5723" stop-color="#ff5100"/><stop offset="0.6394" stop-color="#ff7c00"/><stop offset="0.6525" stop-color="#ffff00"/><stop offset="0.6688" stop-color="#00ff00"/><stop offset="0.6813" stop-color="#00ff7d"/><stop offset="0.6958" stop-color="#00ffff"/><stop offset="0.7148" stop-color="#0080ff"/><stop offset="0.7234" stop-color="#1743ff"/><stop offset="0.7709" stop-color="#1152ff"/><stop offset="1.0000" stop-color="#1644ff"/></linearGradient>
<linearGradient id="c64" gradientUnits="userSpaceOnUse" x1="1371.5" x2="1856" y1="0" y2="0"><stop offset="0.0000" stop-color="#ffe000"/><stop offset="0.2033" stop-color="#ffe500"/><stop offset="0.3691" stop-color="#ffea00"/><stop offset="0.4618" stop-color="#ffe200"/><stop offset="0.5109" stop-color="#ff9700"/><stop offset="0.5461" stop-color="#ff5000"/><stop offset="0.5712" stop-color="#ff5200"/><stop offset="0.6392" stop-color="#ff7c00"/><stop offset="0.6524" stop-color="#ffff00"/><stop offset="0.6688" stop-color="#00ff00"/><stop offset="0.6813" stop-color="#00ff7d"/><stop offset="0.6958" stop-color="#00ffff"/><stop offset="0.7149" stop-color="#0080ff"/><stop offset="0.7234" stop-color="#1643ff"/><stop offset="0.7709" stop-color="#1153ff"/><stop offset="1.0000" stop-color="#1644ff"/></linearGradient>
<linearGradient id="c65" gradientUnits="userSpaceOnUse" x1="1371.5" x2="1856" y1="0" y2="0"><stop offset="0.0000" stop-color="#ffe000"/><stop offset="0.2033" stop-color="#ffe500"/><stop offset="0.3688" stop-color="#ffea00"/><stop offset="0.4607" stop-color="#ffe200"/><stop offset="0.5100" stop-color="#ff9700"/><stop offset="0.5451" stop-color="#ff5000"/><stop offset="0.5701" stop-color="#ff5300"/><stop offset="0.6390" stop-color="#ff7c00"/><stop offset="0.6523" stop-color="#ffff00"/><stop offset="0.6688" stop-color="#00ff00"/><stop offset="0.6813" stop-color="#00ff7d"/><stop offset="0.6958" stop-color="#00ffff"/><stop offset="0.7149" stop-color="#0080ff"/><stop offset="0.7234" stop-color="#1644ff"/><stop offset="0.7709" stop-color="#1054ff"/><stop offset="1.0000" stop-color="#1644ff"/></linearGradient>
<linearGradient id="c66" gradientUnits="userSpaceOnUse" x1="1371.5" x2="1856" y1="0" y2="0"><stop offset="0.0000" stop-color="#ffe000"/><stop offset="0.2033" stop-color="#ffe500"/><stop offset="0.3685" stop-color="#ffea00"/><stop offset="0.4596" stop-color="#ffe200"/><stop offset="0.5091" stop-color="#ff9700"/><stop offset="0.5441" stop-color="#ff5100"/><stop offset="0.5690" stop-color="#ff5300"/><stop offset="0.6389" stop-color="#ff7d00"/><stop offset="0.6522" stop-color="#ffff00"/><stop offset="0.6687" stop-color="#00ff00"/><stop offset="0.6813" stop-color="#00ff7d"/><stop offset="0.6958" stop-color="#00ffff"/><stop offset="0.7150" stop-color="#0080ff"/><stop offset="0.7234" stop-color="#1644ff"/><stop offset="0.7709" stop-color="#1055ff"/><stop offset="1.0000" stop-color="#1645ff"/></linearGradient>
<linearGradient id="c67" gradientUnits="userSpaceOnUse" x1="1371.5" x2="1856" y1="0" y2="0"><stop offset="0.0000" stop-color="#ffe000"/><stop offset="0.2033" stop-color="#ffe500"/><stop offset="0.3684" stop-color="#ffea00"/><stop offset="0.4599" stop-color="#ffe200"/><stop offset="0.5091" stop-color="#ff9700"/><stop offset="0.5439" stop-color="#ff5200"/><stop offset="0.5689" stop-color="#ff5400"/><stop offset="0.6388" stop-color="#ff7d00"/><stop offset="0.6522" stop-color="#ffff00"/><stop offset="0.6687" stop-color="#00ff00"/><stop offset="0.6813" stop-color="#00ff7d"/><stop offset="0.6957" stop-color="#00ffff"/><stop offset="0.7149" stop-color="#0080ff"/><stop offset="0.7234" stop-color="#1644ff"/><stop offset="0.7705" stop-color="#1054ff"/><stop offset="1.0000" stop-color="#1645ff"/></linearGradient>
<linearGradient id="c68" gradientUnits="userSpaceOnUse" x1="1371.5" x2="1856" y1="0" y2="0"><stop offset="0.0000" stop-color="#ffe000"/><stop offset="0.2033" stop-color="#ffe500"/><stop offset="0.3684" stop-color="#ffea00"/><stop offset="0.4608" stop-color="#ffe200"/><stop offset="0.5095" stop-color="#ff9800"/><stop offset="0.5440" stop-color="#ff5300"/><stop offset="0.5693" stop-color="#ff5600"/><stop offset="0.6388" stop-color="#ff7e00"/><stop offset="0.6521" stop-color="#ffff00"/><stop offset="0.6686" stop-color="#00ff00"/><stop offset="0.6813" stop-color="#00ff7e"/><stop offset="0.6957" stop-color="#00ffff"/><stop offset="0.7148" stop-color="#0080ff"/><stop offset="0.7234" stop-color="#1644ff"/><stop offset="0.7700" stop-color="#1152ff"/><stop offset="1.0000" stop-color="#1645ff"/></linearGradient>
<linearGradient id="c69" gradientUnits="userSpaceOnUse" x1="1371.5" x2="1856" y1="0" y2="0"><stop offset="0.0000" stop-color="#ffdf00"/><stop offset="0.2033" stop-color="#ffe500"/><stop offset="0.3684" stop-color="#ffea00"/><stop offset="0.4617" stop-color="#ffe200"/><stop offset="0.5099" stop-color="#ff9800"/><stop offset="0.5441" stop-color="#ff5500"/><stop offset="0.5696" stop-color="#ff5700"/><stop offset="0.6388" stop-color="#ff7f00"/><stop offset="0.6521" stop-color="#ffff00"/><stop offset="0.6686" stop-color="#00ff00"/><stop offset="0.6813" stop-color="#00ff7f"/><stop offset="0.6956" stop-color="#00ffff"/><stop offset="0.7147" stop-color="#0080ff"/><stop offset="0.7233" stop-color="#1643ff"/><stop offset="0.7694" stop-color="#1151ff"/><stop offset="1.0000" stop-color="#1645ff"/></linearGradient>
<linearGradient id="c70" gradientUnits="userSpaceOnUse" x1="1371.5" x2="1856" y1="0" y2="0"><stop offset="0.0000" stop-color="#ffdf00"/><stop offset="0.2033" stop-color="#ffe400"/><stop offset="0.3684" stop-color="#ffea00"/><stop offset="0.4626" stop-color="#ffe100"/><stop offset="0.5103" stop-color="#ff9900"/><stop offset="0.5442" stop-color="#ff5700"/><stop offset="0.5700" stop-color="#ff5900"/><stop offset="0.6388" stop-color="#ff8000"/><stop offset="0.6521" stop-color="#ffff00"/><stop offset="0.6685" stop-color="#00ff00"/><stop offset="0.6813" stop-color="#00ff7f"/><stop offset="0.6956" stop-color="#00ffff"/><stop offset="0.7147" stop-color="#0080ff"/><stop offset="0.7233" stop-color="#1743ff"/><stop offset="0.7689" stop-color="#1250ff"/><stop offset="1.0000" stop-color="#1645ff"/></linearGradient>
<linearGradient id="c71" gradientUnits="userSpaceOnUse" x1="1371.5" x2="1856" y1="0" y2="0"><stop offset="0.0000" stop-color="#ffdf00"/><stop offset="0.2033" stop-color="#ffe400"/><stop offset="0.3684" stop-color="#ffea00"/><stop offset="0.4635" stop-color="#ffe100"/><stop offset="0.5107" stop-color="#ff9900"/><stop offset="0.5442" stop-color="#ff5800"/><stop offset="0.5704" stop-color="#ff5a00"/><stop offset="0.6388" stop-color="#ff8000"/><stop offset="0.6520" stop-color="#ffff00"/><stop offset="0.6684" stop-color="#00ff00"/><stop offset="0.6813" stop-color="#00ff80"/><stop offset="0.6956" stop-color="#00ffff"/><stop offset="0.7146" stop-color="#0080ff"/><stop offset="0.7232" stop-color="#1743ff"/><stop offset="0.7684" stop-color="#124eff"/><stop offset="1.0000" stop-color="#1645ff"/></linearGradient>
<linearGradient id="c72" gradientUnits="userSpaceOnUse" x1="1371.5" x2="1856" y1="0" y2="0"><stop offset="0.0000" stop-color="#ffdf00"/><stop offset="0.2033" stop-color="#ffe400"/><stop offset="0.3684" stop-color="#ffea00"/><stop offset="0.4644" stop-color="#ffe100"/><stop offset="0.5111" stop-color="#ff9a00"/><stop offset="0.5443" stop-color="#ff5a00"/><stop offset="0.5708" stop-color="#ff5c00"/><stop offset="0.6388" stop-color="#ff8100"/><stop offset="0.6520" stop-color="#ffff00"/><stop offset="0.6684" stop-color="#00ff00"/><stop offset="0.6813" stop-color="#00ff80"/><stop offset="0.6955" stop-color="#00ffff"/><stop offset="0.7145" stop-color="#0080ff"/><stop offset="0.7232" stop-color="#1742ff"/><stop offset="0.7678" stop-color="#134dff"/><stop offset="1.0000" stop-color="#1645ff"/></linearGradient>
<linearGradient id="c73" gradientUnits="userSpaceOnUse" x1="1371.5" x2="1856" y1="0" y2="0"><stop offset="0.0000" stop-color="#ffdf00"/><stop offset="0.2033" stop-color="#ffe400"/><stop offset="0.3684" stop-color="#ffeb00"/><stop offset="0.4654" stop-color="#ffe100"/><stop offset="0.5116" stop-color="#ff9a00"/><stop offset="0.5444" stop-color="#ff5c00"/><stop offset="0.5711" stop-color="#ff5d00"/><stop offset="0.6388" stop-color="#ff8200"/><stop offset="0.6519" stop-color="#ffff00"/><stop offset="0.6683" stop-color="#00ff00"/><stop offset="0.6813" stop-color="#00ff81"/><stop offset="0.6955" stop-color="#00ffff"/><stop offset="0.7144" stop-color="#0080ff"/><stop offset="0.7231" stop-color="#1742ff"/><stop offset="0.7673" stop-color="#144bff"/><stop offset="1.0000" stop-color="#1645ff"/></linearGradient>
<linearGradient id="c74" gradientUnits="userSpaceOnUse" x1="1371.5" x2="1856" y1="0" y2="0"><stop offset="0.0000" stop-color="#ffdf00"/><stop offset="0.2033" stop-color="#ffe400"/><stop offset="0.3684" stop-color="#ffeb00"/><stop offset="0.4663" stop-color="#ffe000"/><stop offset="0.5120" stop-color="#ff9b00"/><stop offset="0.5445" stop-color="#ff5d00"/><stop offset="0.5715" stop-color="#ff5f00"/><stop offset="0.6388" stop-color="#ff8300"/><stop offset="0.6519" stop-color="#ffff00"/><stop offset="0.6683" stop-color="#00ff00"/><stop offset="0.6813" stop-color="#00ff82"/><stop offset="0.6954" stop-color="#00ffff"/><stop offset="0.7143" stop-color="#0080ff"/><stop offset="0.7231" stop-color="#1741ff"/><stop offset="0.7667" stop-color="#144aff"/><stop offset="1.0000" stop-color="#1645ff"/></linearGradient>
<linearGradient id="c75" gradientUnits="userSpaceOnUse" x1="1371.5" x2="1856" y1="0" y2="0"><stop offset="0.0000" stop-color="#ffdf00"/><stop offset="0.2033" stop-color="#ffe400"/><stop offset="0.3684" stop-color="#ffeb00"/><stop offset="0.4672" stop-color="#ffe000"/><stop offset="0.5124" stop-color="#ff9b00"/><stop offset="0.5446" stop-color="#ff5f00"/><stop offset="0.5719" stop-color="#ff6000"/><stop offset="0.6388" stop-color="#ff8300"/><stop offset="0.6519" stop-color="#ffff00"/><stop offset="0.6682" stop-color="#00ff00"/><stop offset="0.6813" stop-color="#00ff82"/><stop offset="0.6954" stop-color="#00ffff"/><stop offset="0.7142" stop-color="#0080ff"/><stop offset="0.7231" stop-color="#1741ff"/><stop offset="0.7662" stop-color="#1549ff"/><stop offset="1.0000" stop-color="#1645ff"/></linearGradient>
<linearGradient id="c76" gradientUnits="userSpaceOnUse" x1="1371.5" x2="1856" y1="0" y2="0"><stop offset="0.0000" stop-color="#ffdf00"/><stop offset="0.2033" stop-color="#ffe300"/><stop offset="0.3684" stop-color="#ffeb00"/><stop offset="0.4681" stop-color="#ffe000"/><stop offset="0.5128" stop-color="#ff9c00"/><stop offset="0.5447" stop-color="#ff6000"/><stop offset="0.5722" stop-color="#ff6200"/><stop offset="0.6388" stop-color="#ff8400"/><stop offset="0.6518" stop-color="#ffff00"/><stop offset="0.6681" stop-color="#00ff00"/><stop offset="0.6813" stop-color="#00ff83"/><stop offset="0.6953" stop-color="#00ffff"/><stop offset="0.7142" stop-color="#0080ff"/><stop offset="0.7230" stop-color="#1840ff"/><stop offset="0.7657" stop-color="#1547ff"/><stop offset="1.0000" stop-color="#1645ff"/></linearGradient>
<linearGradient id="c77" gradientUnits="userSpaceOnUse" x1="1371.5" x2="1856" y1="0" y2="0"><stop offset="0.0000" stop-color="#ffdf00"/><stop offset="0.2033" stop-color="#ffe300"/><stop offset="0.3684" stop-color="#ffeb00"/><stop offset="0.4690" stop-color="#ffe000"/><stop offset="0.5132" stop-color="#ff9d00"/><stop offset="0.5447" stop-color="#ff6200"/><stop offset="0.5726" stop-color="#ff6300"/><stop offset="0.6388" stop-color="#ff8500"/><stop offset="0.6518" stop-color="#ffff00"/><stop offset="0.6681" stop-color="#00ff00"/><stop offset="0.6813" stop-color="#00ff83"/><stop offset="0.6953" stop-color="#00ffff"/><stop offset="0.7141" stop-color="#0080ff"/><stop offset="0.7230" stop-color="#1840ff"/><stop offset="0.7651" stop-color="#1646ff"/><stop offset="1.0000" stop-color="#1645ff"/></linearGradient>
<linearGradient id="c78" gradientUnits="userSpaceOnUse" x1="1371.5" x2="1856" y1="0" y2="0"><stop offset="0.0000" stop-color="#ffdf00"/><stop offset="0.2033" stop-color="#ffe300"/><stop offset="0.3684" stop-color="#ffeb00"/><stop offset="0.4699" stop-color="#ffdf00"/><stop offset="0.5136" stop-color="#ff9d00"/><stop offset="0.5448" stop-color="#ff6400"/><stop offset="0.5730" stop-color="#ff6500"/><stop offset="0.6388" stop-color="#ff8500"/><stop offset="0.6517" stop-color="#ffff00"/><stop offset="0.6680" stop-color="#00ff00"/><stop offset="0.6813" stop-color="#00ff84"/><stop offset="0.6952" stop-color="#00ffff"/><stop offset="0.7140" stop-color="#0080ff"/><stop offset="0.7229" stop-color="#1840ff"/><stop offset="0.7646" stop-color="#1644ff"/><stop offset="1.0000" stop-color="#1645ff"/></linearGradient>
<linearGradient id="c79" gradientUnits="userSpaceOnUse" x1="1371.5" x2="1856" y1="0" y2="0"><stop offset="0.0000" stop-color="#ffde00"/><stop offset="0.2033" stop-color="#ffe300"/><stop offset="0.3684" stop-color="#ffeb00"/><stop offset="0.4708" stop-color="#ffdf00"/><stop offset="0.5140" stop-color="#ff9e00"/><stop offset="0.5449" stop-color="#ff6500"/><stop offset="0.5734" stop-color="#ff6700"/><stop offset="0.6388" stop-color="#ff8600"/><stop offset="0.6517" stop-color="#ffff00"/><stop offset="0.6679" stop-color="#00ff00"/><stop offset="0.6813" stop-color="#00ff85"/><stop offset="0.6952" stop-color="#00ffff"/><stop offset="0.7139" stop-color="#0080ff"/><stop offset="0.7229" stop-color="#183fff"/><stop offset="0.7640" stop-color="#1743ff"/><stop offset="1.0000" stop-color="#1645ff"/></linearGradient>
<linearGradient id="c80" gradientUnits="userSpaceOnUse" x1="1371.5" x2="1856" y1="0" y2="0"><stop offset="0.0000" stop-color="#ffde00"/><stop offset="0.2033" stop-color="#ffe300"/><stop offset="0.3684" stop-color="#ffeb00"/><stop offset="0.4717" stop-color="#ffdf00"/><stop offset="0.5145" stop-color="#ff9e00"/><stop offset="0.5450" stop-color="#ff6700"/><stop offset="0.5737" stop-color="#ff6800"/><stop offset="0.6388" stop-color="#ff8700"/><stop offset="0.6517" stop-color="#ffff00"/><stop offset="0.6679" stop-color="#00ff00"/><stop offset="0.6813" stop-color="#00ff85"/><stop offset="0.6951" stop-color="#00ffff"/><stop offset="0.7138" stop-color="#0080ff"/><stop offset="0.7229" stop-color="#183fff"/><stop offset="0.7635" stop-color="#1741ff"/><stop offset="1.0000" stop-color="#1645ff"/></linearGradient>
<linearGradient id="c81" gradientUnits="userSpaceOnUse" x1="1371.5" x2="1856" y1="0" y2="0"><stop offset="0.0000" stop-color="#ffde00"/><stop offset="0.2033" stop-color="#ffe300"/><stop offset="0.3684" stop-color="#ffeb00"/><stop offset="0.4727" stop-color="#ffdf00"/><stop offset="0.5149" stop-color="#ff9f00"/><stop offset="0.5451" stop-color="#ff6800"/><stop offset="0.5741" stop-color="#ff6a00"/><stop offset="0.6388" stop-color="#ff8800"/><stop offset="0.6516" stop-color="#ffff00"/><stop offset="0.6678" stop-color="#00ff00"/><stop offset="0.6813" stop-color="#00ff86"/><stop offset="0.6951" stop-color="#00ffff"/><stop offset="0.7137" stop-color="#0080ff"/><stop offset="0.7228" stop-color="#183eff"/><stop offset="0.7630" stop-color="#1840ff"/><stop offset="1.0000" stop-color="#1645ff"/></linearGradient>
<linearGradient id="c82" gradientUnits="userSpaceOnUse" x1="1371.5" x2="1856" y1="0" y2="0"><stop offset="0.0000" stop-color="#ffde00"/><stop offset="0.2033" stop-color="#ffe300"/><stop offset="0.3684" stop-color="#ffeb00"/><stop offset="0.4736" stop-color="#ffde00"/><stop offset="0.5153" stop-color="#ff9f00"/><stop offset="0.5452" stop-color="#ff6a00"/><stop offset="0.5745" stop-color="#ff6b00"/><stop offset="0.6388" stop-color="#ff8800"/><stop offset="0.6516" stop-color="#ffff00"/><stop offset="0.6678" stop-color="#00ff00"/><stop offset="0.6813" stop-color="#00ff86"/><stop offset="0.6951" stop-color="#00ffff"/><stop offset="0.7137" stop-color="#0080ff"/><stop offset="0.7228" stop-color="#193eff"/><stop offset="0.7624" stop-color="#183fff"/><stop offset="1.0000" stop-color="#1645ff"/></linearGradient>
<linearGradient id="c83" gradientUnits="userSpaceOnUse" x1="1371.5" x2="1856" y1="0" y2="0"><stop offset="0.0000" stop-color="#ffde00"/><stop offset="0.2033" stop-color="#ffe200"/><stop offset="0.3684" stop-color="#ffeb00"/><stop offset="0.4745" stop-color="#ffde00"/><stop offset="0.5157" stop-color="#ffa000"/><stop offset="0.5452" stop-color="#ff6c00"/><stop offset="0.5749" stop-color="#ff6d00"/><stop offset="0.6388" stop-color="#ff8900"/><stop offset="0.6515" stop-color="#ffff00"/><stop offset="0.6677" stop-color="#00ff00"/><stop offset="0.6813" stop-color="#00ff87"/><stop offset="0.6950" stop-color="#00ffff"/><stop offset="0.7136" stop-color="#0080ff"/><stop offset="0.7227" stop-color="#193dff"/><stop offset="0.7619" stop-color="#193dff"/><stop offset="1.0000" stop-color="#1645ff"/></linearGradient>
<linearGradient id="c84" gradientUnits="userSpaceOnUse" x1="1371.5" x2="1856" y1="0" y2="0"><stop offset="0.0000" stop-color="#ffde00"/><stop offset="0.2033" stop-color="#ffe200"/><stop offset="0.3684" stop-color="#ffeb00"/><stop offset="0.4754" stop-color="#ffde00"/><stop offset="0.5161" stop-color="#ffa000"/><stop offset="0.5453" stop-color="#ff6d00"/><stop offset="0.5752" stop-color="#ff6e00"/><stop offset="0.6388" stop-color="#ff8a00"/><stop offset="0.6515" stop-color="#ffff00"/><stop offset="0.6676" stop-color="#00ff00"/><stop offset="0.6813" stop-color="#00ff88"/><stop offset="0.6950" stop-color="#00ffff"/><stop offset="0.7135" stop-color="#0080ff"/><stop offset="0.7227" stop-color="#193dff"/><stop offset="0.7614" stop-color="#193cff"/><stop offset="1.0000" stop-color="#1645ff"/></linearGradient>
<linearGradient id="c85" gradientUnits="userSpaceOnUse" x1="1371.5" x2="1856" y1="0" y2="0"><stop offset="0.0000" stop-color="#ffde00"/><stop offset="0.2033" stop-color="#ffe200"/><stop offset="0.3684" stop-color="#ffeb00"/><stop offset="0.4763" stop-color="#ffdd00"/><stop offset="0.5165" stop-color="#ffa100"/><stop offset="0.5454" stop-color="#ff6f00"/><stop offset="0.5756" stop-color="#ff7000"/><stop offset="0.6388" stop-color="#ff8b00"/><stop offset="0.6514" stop-color="#ffff00"/><stop offset="0.6676" stop-color="#00ff00"/><stop offset="0.6813" stop-color="#00ff88"/><stop offset="0.6949" stop-color="#00ffff"/><stop offset="0.7134" stop-color="#0080ff"/><stop offset="0.7227" stop-color="#193cff"/><stop offset="0.7608" stop-color="#1a3aff"/><stop offset="1.0000" stop-color="#1645ff"/></linearGradient>
<linearGradient id="c86" gradientUnits="userSpaceOnUse" x1="1371.5" x2="1856" y1="0" y2="0"><stop offset="0.0000" stop-color="#ffde00"/><stop offset="0.2033" stop-color="#ffe200"/><stop offset="0.3684" stop-color="#ffeb00"/><stop offset="0.4772" stop-color="#ffdd00"/><stop offset="0.5169" stop-color="#ffa100"/><stop offset="0.5455" stop-color="#ff7100"/><stop offset="0.5760" stop-color="#ff7100"/><stop offset="0.6388" stop-color="#ff8b00"/><stop offset="0.6514" stop-color="#ffff00"/><stop offset="0.6675" stop-color="#00ff00"/><stop offset="0.6813" stop-color="#00ff89"/><stop offset="0.6949" stop-color="#00ffff"/><stop offset="0.7133" stop-color="#0080ff"/><stop offset="0.7226" stop-color="#193cff"/><stop offset="0.7603" stop-color="#1a39ff"/><stop offset="1.0000" stop-color="#1645ff"/></linearGradient>
<linearGradient id="c87" gradientUnits="userSpaceOnUse" x1="1371.5" x2="1856" y1="0" y2="0"><stop offset="0.0000" stop-color="#ffde00"/><stop offset="0.2033" stop-color="#ffe200"/><stop offset="0.3684" stop-color="#ffeb00"/><stop offset="0.4781" stop-color="#ffdd00"/><stop offset="0.5174" stop-color="#ffa200"/><stop offset="0.5456" stop-color="#ff7200"/><stop offset="0.5764" stop-color="#ff7300"/><stop offset="0.6388" stop-color="#ff8c00"/><stop offset="0.6514" stop-color="#ffff00"/><stop offset="0.6674" stop-color="#00ff00"/><stop offset="0.6813" stop-color="#00ff89"/><stop offset="0.6948" stop-color="#00ffff"/><stop offset="0.7132" stop-color="#0080ff"/><stop offset="0.7226" stop-color="#193cff"/><stop offset="0.7597" stop-color="#1b38ff"/><stop offset="1.0000" stop-color="#1645ff"/></linearGradient>
<linearGradient id="c88" gradientUnits="userSpaceOnUse" x1="1371.5" x2="1856" y1="0" y2="0"><stop offset="0.0000" stop-color="#ffde00"/><stop offset="0.2033" stop-color="#ffe200"/><stop offset="0.3684" stop-color="#ffeb00"/><stop offset="0.4790" stop-color="#ffdd00"/><stop offset="0.5178" stop-color="#ffa200"/><stop offset="0.5457" stop-color="#ff7400"/><stop offset="0.5767" stop-color="#ff7400"/><stop offset="0.6388" stop-color="#ff8d00"/><stop offset="0.6513" stop-color="#ffff00"/><stop offset="0.6674" stop-color="#00ff00"/><stop offset="0.6813" stop-color="#00ff8a"/><stop offset="0.6948" stop-color="#00ffff"/><stop offset="0.7132" stop-color="#0080ff"/><stop offset="0.7225" stop-color="#193bff"/><stop offset="0.7592" stop-color="#1b36ff"/><stop offset="1.0000" stop-color="#1645ff"/></linearGradient>
<linearGradient id="c89" gradientUnits="userSpaceOnUse" x1="1371.5" x2="1856" y1="0" y2="0"><stop offset="0.0000" stop-color="#ffdd00"/><stop offset="0.2033" stop-color="#ffe100"/><stop offset="0.3684" stop-color="#ffeb00"/><stop offset="0.4800" stop-color="#ffdc00"/><stop offset="0.5182" stop-color="#ffa300"/><stop offset="0.5457" stop-color="#ff7500"/><stop offset="0.5771" stop-color="#ff7600"/><stop offset="0.6388" stop-color="#ff8e00"/><stop offset="0.6513" stop-color="#ffff00"/><stop offset="0.6673" stop-color="#00ff00"/><stop offset="0.6813" stop-color="#00ff8b"/><stop offset="0.6947" stop-color="#00ffff"/><stop offset="0.7131" stop-color="#0080ff"/><stop offset="0.7225" stop-color="#1a3bff"/><stop offset="0.7587" stop-color="#1c35ff"/><stop offset="1.0000" stop-color="#1645ff"/></linearGradient>
<linearGradient id="c90" gradientUnits="userSpaceOnUse" x1="1371.5" x2="1856" y1="0" y2="0"><stop offset="0.0000" stop-color="#ffdd00"/><stop offset="0.2033" stop-color="#ffe100"/><stop offset="0.3684" stop-color="#ffeb00"/><stop offset="0.4809" stop-color="#ffdc00"/><stop offset="0.5186" stop-color="#ffa300"/><stop offset="0.5458" stop-color="#ff7700"/><stop offset="0.5775" stop-color="#ff7700"/><stop offset="0.6388" stop-color="#ff8e00"/><stop offset="0.6512" stop-color="#ffff00"/><stop offset="0.6673" stop-color="#00ff00"/><stop offset="0.6813" stop-color="#00ff8b"/><stop offset="0.6947" stop-color="#00ffff"/><stop offset="0.7130" stop-color="#0080ff"/><stop offset="0.7224" stop-color="#1a3aff"/><stop offset="0.7581" stop-color="#1c33ff"/><stop offset="1.0000" stop-color="#1645ff"/></linearGradient>
<linearGradient id="c91" gradientUnits="userSpaceOnUse" x1="1371.5" x2="1856" y1="0" y2="0"><stop offset="0.0000" stop-color="#ffdd00"/><stop offset="0.2033" stop-color="#ffe100"/><stop offset="0.3684" stop-color="#ffeb00"/><stop offset="0.4818" stop-color="#ffdc00"/><stop offset="0.5190" stop-color="#ffa400"/><stop offset="0.5459" stop-color="#ff7900"/><stop offset="0.5779" stop-color="#ff7900"/><stop offset="0.6388" stop-color="#ff8f00"/><stop offset="0.6512" stop-color="#ffff00"/><stop offset="0.6672" stop-color="#00ff00"/><stop offset="0.6813" stop-color="#00ff8c"/><stop offset="0.6946" stop-color="#00ffff"/><stop offset="0.7129" stop-color="#0080ff"/><stop offset="0.7224" stop-color="#1a3aff"/><stop offset="0.7576" stop-color="#1d32ff"/><stop offset="1.0000" stop-color="#1645ff"/></linearGradient>
<linearGradient id="c92" gradientUnits="userSpaceOnUse" x1="1371.5" x2="1856" y1="0" y2="0"><stop offset="0.0000" stop-color="#ffdd00"/><stop offset="0.2033" stop-color="#ffe100"/><stop offset="0.3684" stop-color="#ffec00"/><stop offset="0.4827" stop-color="#ffdc00"/><stop offset="0.5194" stop-color="#ffa400"/><stop offset="0.5460" stop-color="#ff7a00"/><stop offset="0.5782" stop-color="#ff7a00"/><stop offset="0.6388" stop-color="#ff9000"/><stop offset="0.6512" stop-color="#ffff00"/><stop offset="0.6671" stop-color="#00ff00"/><stop offset="0.6813" stop-color="#00ff8c"/><stop offset="0.6946" stop-color="#00ffff"/><stop offset="0.7128" stop-color="#0080ff"/><stop offset="0.7224" stop-color="#1a39ff"/><stop offset="0.7570" stop-color="#1d31ff"/><stop offset="1.0000" stop-color="#1645ff"/></linearGradient>
<linearGradient id="c93" gradientUnits="userSpaceOnUse" x1="1371.5" x2="1856" y1="0" y2="0"><stop offset="0.0000" stop-color="#ffdd00"/><stop offset="0.2033" stop-color="#ffe100"/><stop offset="0.3684" stop-color="#ffec00"/><stop offset="0.4836" stop-color="#ffdb00"/><stop offset="0.5198" stop-color="#ffa500"/><stop offset="0.5461" stop-color="#ff7c00"/><stop offset="0.5786" stop-color="#ff7c00"/><stop offset="0.6388" stop-color="#ff9000"/><stop offset="0.6511" stop-color="#ffff00"/><stop offset="0.6671" stop-color="#00ff00"/><stop offset="0.6813" stop-color="#00ff8d"/><stop offset="0.6946" stop-color="#00ffff"/><stop offset="0.7127" stop-color="#0080ff"/><stop offset="0.7223" stop-color="#1a39ff"/><stop offset="0.7565" stop-color="#1e2fff"/><stop offset="1.0000" stop-color="#1645ff"/></linearGradient>
<linearGradient id="c94" gradientUnits="userSpaceOnUse" x1="1371.5" x2="1856" y1="0" y2="0"><stop offset="0.0000" stop-color="#ffdd00"/><stop offset="0.2033" stop-color="#ffe100"/><stop offset="0.3684" stop-color="#ffec00"/><stop offset="0.4845" stop-color="#ffdb00"/><stop offset="0.5203" stop-color="#ffa500"/><stop offset="0.5462" stop-color="#ff7e00"/><stop offset="0.5790" stop-color="#ff7d00"/><stop offset="0.6388" stop-color="#ff9100"/><stop offset="0.6511" stop-color="#ffff00"/><stop offset="0.6670" stop-color="#00ff00"/><stop offset="0.6813" stop-color="#00ff8e"/><stop offset="0.6945" stop-color="#00ffff"/><stop offset="0.7127" stop-color="#0080ff"/><stop offset="0.7223" stop-color="#1a39ff"/><stop offset="0.7560" stop-color="#1e2eff"/><stop offset="1.0000" stop-color="#1645ff"/></linearGradient>
<linearGradient id="c95" gradientUnits="userSpaceOnUse" x1="1371.5" x2="1856" y1="0" y2="0"><stop offset="0.0000" stop-color="#ffdd00"/><stop offset="0.2033" stop-color="#ffe000"/><stop offset="0.3684" stop-color="#ffec00"/><stop offset="0.4854" stop-color="#ffdb00"/><stop offset="0.5207" stop-color="#ffa600"/><stop offset="0.5462" stop-color="#ff7f00"/><stop offset="0.5793" stop-color="#ff7f00"/><stop offset="0.6388" stop-color="#ff9200"/><stop offset="0.6510" stop-color="#ffff00"/><stop offset="0.6669" stop-color="#00ff00"/><stop offset="0.6813" stop-color="#00ff8e"/><stop offset="0.6945" stop-color="#00ffff"/><stop offset="0.7126" stop-color="#0080ff"/><stop offset="0.7222" stop-color="#1b38ff"/><stop offset="0.7554" stop-color="#1f2cff"/><stop offset="1.0000" stop-color="#1645ff"/></linearGradient>
<linearGradient id="c96" gradientUnits="userSpaceOnUse" x1="1371.5" x2="1856" y1="0" y2="0"><stop offset="0.0000" stop-color="#ffdd00"/><stop offset="0.2033" stop-color="#ffe000"/><stop offset="0.3684" stop-color="#ffec00"/><stop offset="0.4863" stop-color="#ffdb00"/><stop offset="0.5211" stop-color="#ffa600"/><stop offset="0.5463" stop-color="#ff8100"/><stop offset="0.5797" stop-color="#ff8000"/><stop offset="0.6388" stop-color="#ff9300"/><stop offset="0.6510" stop-color="#ffff00"/><stop offset="0.6669" stop-color="#00ff00"/><stop offset="0.6813" stop-color="#00ff8f"/><stop offset="0.6944" stop-color="#00ffff"/><stop offset="0.7125" stop-color="#0080ff"/><stop offset="0.7222" stop-color="#1b38ff"/><stop offset="0.7549" stop-color="#202bff"/><stop offset="1.0000" stop-color="#1645ff"/></linearGradient>
<linearGradient id="c97" gradientUnits="userSpaceOnUse" x1="1371.5" x2="1856" y1="0" y2="0"><stop offset="0.0000" stop-color="#ffdd00"/><stop offset="0.2033" stop-color="#ffe000"/><stop offset="0.3684" stop-color="#ffec00"/><stop offset="0.4873" stop-color="#ffda00"/><stop offset="0.5215" stop-color="#ffa700"/><stop offset="0.5464" stop-color="#ff8200"/><stop offset="0.5801" stop-color="#ff8200"/><stop offset="0.6388" stop-color="#ff9300"/><stop offset="0.6509" stop-color="#ffff00"/><stop offset="0.6668" stop-color="#00ff00"/><stop offset="0.6813" stop-color="#00ff90"/><stop offset="0.6944" stop-color="#00ffff"/><stop offset="0.7124" stop-color="#0080ff"/><stop offset="0.7222" stop-color="#1b37ff"/><stop offset="0.7543" stop-color="#2029ff"/><stop offset="1.0000" stop-color="#1645ff"/></linearGradient>
<linearGradient id="c98" gradientUnits="userSpaceOnUse" x1="1371.5" x2="1856" y1="0" y2="0"><stop offset="0.0000" stop-color="#ffdc00"/><stop offset="0.2033" stop-color="#ffe000"/><stop offset="0.3684" stop-color="#ffec00"/><stop offset="0.4882" stop-color="#ffda00"/><stop offset="0.5219" stop-color="#ffa700"/><stop offset="0.5465" stop-color="#ff8400"/><stop offset="0.5805" stop-color="#ff8300"/><stop offset="0.6388" stop-color="#ff9400"/><stop offset="0.6509" stop-color="#ffff00"/><stop offset="0.6668" stop-color="#00ff00"/><stop offset="0.6813" stop-color="#00ff90"/><stop offset="0.6943" stop-color="#00ffff"/><stop offset="0.7123" stop-color="#0080ff"/><stop offset="0.7221" stop-color="#1b37ff"/><stop offset="0.7538" stop-color="#2128ff"/><stop offset="1.0000" stop-color="#1645ff"/></linearGradient>
<linearGradient id="c99" gradientUnits="userSpaceOnUse" x1="1371.5" x2="1856" y1="0" y2="0"><stop offset="0.0000" stop-color="#ffdc00"/><stop offset="0.2033" stop-color="#ffe000"/><stop offset="0.3684" stop-color="#ffec00"/><stop offset="0.4891" stop-color="#ffda00"/><stop offset="0.5223" stop-color="#ffa800"/><stop offset="0.5466" stop-color="#ff8600"/><stop offset="0.5808" stop-color="#ff8500"/><stop offset="0.6388" stop-color="#ff9500"/><stop offset="0.6509" stop-color="#ffff00"/><stop offset="0.6667" stop-color="#00ff00"/><stop offset="0.6813" stop-color="#00ff91"/><stop offset="0.6943" stop-color="#00ffff"/><stop offset="0.7123" stop-color="#0080ff"/><stop offset="0.7221" stop-color="#1b36ff"/><stop offset="0.7533" stop-color="#2127ff"/><stop offset="1.0000" stop-color="#1645ff"/></linearGradient>
<linearGradient id="c100" gradientUnits="userSpaceOnUse" x1="1371.5" x2="1856" y1="0" y2="0"><stop offset="0.0000" stop-color="#ffdc00"/><stop offset="0.2033" stop-color="#ffe000"/><stop offset="0.3684" stop-color="#ffec00"/><stop offset="0.4900" stop-color="#ffda00"/><stop offset="0.5228" stop-color="#ffa900"/><stop offset="0.5467" stop-color="#ff8700"/><stop offset="0.5812" stop-color="#ff8600"/><stop offset="0.6388" stop-color="#ff9600"/><stop offset="0.6508" stop-color="#ffff00"/><stop offset="0.6666" stop-color="#00ff00"/><stop offset="0.6813" stop-color="#00ff91"/><stop offset="0.6942" stop-color="#00ffff"/><stop offset="0.7122" stop-color="#0080ff"/><stop offset="0.7220" stop-color="#1b36ff"/><stop offset="0.7527" stop-color="#2225ff"/><stop offset="1.0000" stop-color="#1645ff"/></linearGradient>
<linearGradient id="c101" gradientUnits="userSpaceOnUse" x1="1371.5" x2="1856" y1="0" y2="0"><stop offset="0.0000" stop-color="#ffdc00"/><stop offset="0.2033" stop-color="#ffe000"/><stop offset="0.3684" stop-color="#ffec00"/><stop offset="0.4909" stop-color="#ffd900"/><stop offset="0.5232" stop-color="#ffa900"/><stop offset="0.5467" stop-color="#ff8900"/><stop offset="0.5816" stop-color="#ff8800"/><stop offset="0.6388" stop-color="#ff9600"/><stop offset="0.6508" stop-color="#ffff00"/><stop offset="0.6666" stop-color="#00ff00"/><stop offset="0.6813" stop-color="#00ff92"/><stop offset="0.6942" stop-color="#00ffff"/><stop offset="0.7121" stop-color="#0080ff"/><stop offset="0.7220" stop-color="#1c36ff"/><stop offset="0.7522" stop-color="#2224ff"/><stop offset="1.0000" stop-color="#1645ff"/></linearGradient>
<linearGradient id="c102" gradientUnits="userSpaceOnUse" x1="1371.5" x2="1856" y1="0" y2="0"><stop offset="0.0000" stop-color="#ffdc00"/><stop offset="0.2033" stop-color="#ffdf00"/><stop offset="0.3684" stop-color="#ffec00"/><stop offset="0.4918" stop-color="#ffd900"/><stop offset="0.5236" stop-color="#ffaa00"/><stop offset="0.5468" stop-color="#ff8b00"/><stop offset="0.5820" stop-color="#ff8900"/><stop offset="0.6388" stop-color="#ff9700"/><stop offset="0.6507" stop-color="#ffff00"/><stop offset="0.6665" stop-color="#00ff00"/><stop offset="0.6813" stop-color="#00ff93"/><stop offset="0.6941" stop-color="#00ffff"/><stop offset="0.7120" stop-color="#0080ff"/><stop offset="0.7219" stop-color="#1c35ff"/><stop offset="0.7516" stop-color="#2322ff"/><stop offset="1.0000" stop-color="#1645ff"/></linearGradient>
<linearGradient id="c103" gradientUnits="userSpaceOnUse" x1="1371.5" x2="1856" y1="0" y2="0"><stop offset="0.0000" stop-color="#ffdc00"/><stop offset="0.2033" stop-color="#ffdf00"/><stop offset="0.3684" stop-color="#ffec00"/><stop offset="0.4927" stop-color="#ffd900"/><stop offset="0.5240" stop-color="#ffaa00"/><stop offset="0.5469" stop-color="#ff8c00"/><stop offset="0.5823" stop-color="#ff8b00"/><stop offset="0.6388" stop-color="#ff9800"/><stop offset="0.6507" stop-color="#ffff00"/><stop offset="0.6664" stop-color="#00ff00"/><stop offset="0.6813" stop-color="#00ff93"/><stop offset="0.6941" stop-color="#00ffff"/><stop offset="0.7119" stop-color="#0080ff"/><stop offset="0.7219" stop-color="#1c35ff"/><stop offset="0.7511" stop-color="#2321ff"/><stop offset="1.0000" stop-color="#1645ff"/></linearGradient>
<linearGradient id="c104" gradientUnits="userSpaceOnUse" x1="1371.5" x2="1856" y1="0" y2="0"><stop offset="0.0000" stop-color="#ffdc00"/><stop offset="0.2033" stop-color="#ffdf00"/><stop offset="0.3684" stop-color="#ffec00"/><stop offset="0.4936" stop-color="#ffd900"/><stop offset="0.5244" stop-color="#ffab00"/><stop offset="0.5470" stop-color="#ff8e00"/><stop offset="0.5827" stop-color="#ff8c00"/><stop offset="0.6388" stop-color="#ff9900"/><stop offset="0.6507" stop-color="#ffff00"/><stop offset="0.6664" stop-color="#00ff00"/><stop offset="0.6813" stop-color="#00ff94"/><stop offset="0.6940" stop-color="#00ffff"/><stop offset="0.7119" stop-color="#0080ff"/><stop offset="0.7219" stop-color="#1c34ff"/><stop offset="0.7506" stop-color="#2420ff"/><stop offset="1.0000" stop-color="#1645ff"/></linearGradient>
<linearGradient id="c105" gradientUnits="userSpaceOnUse" x1="1371.5" x2="1856" y1="0" y2="0"><stop offset="0.0000" stop-color="#ffdc00"/><stop offset="0.2033" stop-color="#ffdf00"/><stop offset="0.3684" stop-color="#ffec00"/><stop offset="0.4946" stop-color="#ffd800"/><stop offset="0.5248" stop-color="#ffab00"/><stop offset="0.5471" stop-color="#ff8f00"/><stop offset="0.5831" stop-color="#ff8e00"/><stop offset="0.6388" stop-color="#ff9900"/><stop offset="0.6506" stop-color="#ffff00"/><stop offset="0.6663" stop-color="#00ff00"/><stop offset="0.6813" stop-color="#00ff94"/><stop offset="0.6940" stop-color="#00ffff"/><stop offset="0.7118" stop-color="#0080ff"/><stop offset="0.7218" stop-color="#1c34ff"/><stop offset="0.7500" stop-color="#241eff"/><stop offset="1.0000" stop-color="#1645ff"/></linearGradient>
<linearGradient id="c106" gradientUnits="userSpaceOnUse" x1="1371.5" x2="1856" y1="0" y2="0"><stop offset="0.0000" stop-color="#ffdc00"/><stop offset="0.2033" stop-color="#ffdf00"/><stop offset="0.3684" stop-color="#ffec00"/><stop offset="0.4955" stop-color="#ffd800"/><stop offset="0.5252" stop-color="#ffac00"/><stop offset="0.5472" stop-color="#ff9100"/><stop offset="0.5835" stop-color="#ff8f00"/><stop offset="0.6388" stop-color="#ff9a00"/><stop offset="0.6506" stop-color="#ffff00"/><stop offset="0.6663" stop-color="#00ff00"/><stop offset="0.6813" stop-color="#00ff95"/><stop offset="0.6940" stop-color="#00ffff"/><stop offset="0.7117" stop-color="#0080ff"/><stop offset="0.7218" stop-color="#1c33ff"/><stop offset="0.7495" stop-color="#251dff"/><stop offset="1.0000" stop-color="#1645ff"/></linearGradient>
<linearGradient id="c107" gradientUnits="userSpaceOnUse" x1="1371.5" x2="1856" y1="0" y2="0"><stop offset="0.0000" stop-color="#ffdc00"/><stop offset="0.2033" stop-color="#ffdf00"/><stop offset="0.3684" stop-color="#ffec00"/><stop offset="0.4964" stop-color="#ffd800"/><stop offset="0.5257" stop-color="#ffac00"/><stop offset="0.5472" stop-color="#ff9300"/><stop offset="0.5838" stop-color="#ff9100"/><stop offset="0.6388" stop-color="#ff9b00"/><stop offset="0.6505" stop-color="#ffff00"/><stop offset="0.6662" stop-color="#00ff00"/><stop offset="0.6813" stop-color="#00ff96"/><stop offset="0.6939" stop-color="#00ffff"/><stop offset="0.7116" stop-color="#0080ff"/><stop offset="0.7217" stop-color="#1d33ff"/><stop offset="0.7489" stop-color="#251bff"/><stop offset="1.0000" stop-color="#1645ff"/></linearGradient>
<linearGradient id="c108" gradientUnits="userSpaceOnUse" x1="1371.5" x2="1856" y1="0" y2="0"><stop offset="0.0000" stop-color="#ffdb00"/><stop offset="0.2033" stop-color="#ffde00"/><stop offset="0.3684" stop-color="#ffec00"/><stop offset="0.4973" stop-color="#ffd700"/><stop offset="0.5261" stop-color="#ffad00"/><stop offset="0.5473" stop-color="#ff9400"/><stop offset="0.5842" stop-color="#ff9300"/><stop offset="0.6388" stop-color="#ff9b00"/><stop offset="0.6505" stop-color="#ffff00"/><stop offset="0.6661" stop-color="#00ff00"/><stop offset="0.6813" stop-color="#00ff96"/><stop offset="0.6939" stop-color="#00ffff"/><stop offset="0.7115" stop-color="#0080ff"/><stop offset="0.7217" stop-color="#1d32ff"/><stop offset="0.7484" stop-color="#261aff"/><stop offset="1.0000" stop-color="#1645ff"/></linearGradient>
<linearGradient id="c109" gradientUnits="userSpaceOnUse" x1="1371.5" x2="1856" y1="0" y2="0"><stop offset="0.0000" stop-color="#ffdb00"/><stop offset="0.2033" stop-color="#ffde00"/><stop offset="0.3684" stop-color="#ffec00"/><stop offset="0.4982" stop-color="#ffd700"/><stop offset="0.5265" stop-color="#ffad00"/><stop offset="0.5474" stop-color="#ff9600"/><stop offset="0.5846" stop-color="#ff9400"/><stop offset="0.6388" stop-color="#ff9c00"/><stop offset="0.6504" stop-color="#ffff00"/><stop offset="0.6661" stop-color="#00ff00"/><stop offset="0.6813" stop-color="#00ff97"/><stop offset="0.6938" stop-color="#00ffff"/><stop offset="0.7115" stop-color="#0080ff"/><stop offset="0.7217" stop-color="#1d32ff"/><stop offset="0.7479" stop-color="#2619ff"/><stop offset="1.0000" stop-color="#1645ff"/></linearGradient>
<linearGradient id="c110" gradientUnits="userSpaceOnUse" x1="1371.5" x2="1856" y1="0" y2="0"><stop offset="0.0000" stop-color="#ffdb00"/><stop offset="0.2033" stop-color="#ffde00"/><stop offset="0.3684" stop-color="#ffec00"/><stop offset="0.4991" stop-color="#ffd700"/><stop offset="0.5269" stop-color="#ffae00"/><stop offset="0.5475" stop-color="#ff9800"/><stop offset="0.5849" stop-color="#ff9600"/><stop offset="0.6388" stop-color="#ff9d00"/><stop offset="0.6504" stop-color="#ffff00"/><stop offset="0.6660" stop-color="#00ff00"/><stop offset="0.6813" stop-color="#00ff97"/><stop offset="0.6938" stop-color="#00ffff"/><stop offset="0.7114" stop-color="#0080ff"/><stop offset="0.7216" stop-color="#1d32ff"/><stop offset="0.7473" stop-color="#2717ff"/><stop offset="1.0000" stop-color="#1645ff"/></linearGradient>
<linearGradient id="c111" gradientUnits="userSpaceOnUse" x1="1371.5" x2="1856" y1="0" y2="0"><stop offset="0.0000" stop-color="#ffdb00"/><stop offset="0.2033" stop-color="#ffde00"/><stop offset="0.3684" stop-color="#ffed00"/><stop offset="0.5000" stop-color="#ffd700"/><stop offset="0.5273" stop-color="#ffae00"/><stop offset="0.5476" stop-color="#ff9900"/><stop offset="0.5853" stop-color="#ff9700"/><stop offset="0.6388" stop-color="#ff9e00"/><stop offset="0.6504" stop-color="#ffff00"/><stop offset="0.6659" stop-color="#00ff00"/><stop offset="0.6813" stop-color="#00ff98"/><stop offset="0.6937" stop-color="#00ffff"/><stop offset="0.7113" stop-color="#0080ff"/><stop offset="0.7216" stop-color="#1d31ff"/><stop offset="0.7468" stop-color="#2716ff"/><stop offset="1.0000" stop-color="#1645ff"/></linearGradient>
<linearGradient id="c112" gradientUnits="userSpaceOnUse" x1="1371.5" x2="1856" y1="0" y2="0"><stop offset="0.0000" stop-color="#ffdb00"/><stop offset="0.2033" stop-color="#ffde00"/><stop offset="0.3684" stop-color="#ffed00"/><stop offset="0.5009" stop-color="#ffd600"/><stop offset="0.5277" stop-color="#ffaf00"/><stop offset="0.5477" stop-color="#ff9b00"/><stop offset="0.5857" stop-color="#ff9900"/><stop offset="0.6388" stop-color="#ff9e00"/><stop offset="0.6503" stop-color="#ffff00"/><stop offset="0.6659" stop-color="#00ff00"/><stop offset="0.6813" stop-color="#00ff99"/><stop offset="0.6937" stop-color="#00ffff"/><stop offset="0.7112" stop-color="#0080ff"/><stop offset="0.7215" stop-color="#1d31ff"/><stop offset="0.7463" stop-color="#2814ff"/><stop offset="1.0000" stop-color="#1645ff"/></linearGradient>
<linearGradient id="c113" gradientUnits="userSpaceOnUse" x1="1371.5" x2="1856" y1="0" y2="0"><stop offset="0.0000" stop-color="#ffdb00"/><stop offset="0.2033" stop-color="#ffde00"/><stop offset="0.3684" stop-color="#ffed00"/><stop offset="0.5019" stop-color="#ffd600"/><stop offset="0.5281" stop-color="#ffaf00"/><stop offset="0.5477" stop-color="#ff9c00"/><stop offset="0.5861" stop-color="#ff9a00"/><stop offset="0.6388" stop-color="#ff9f00"/><stop offset="0.6503" stop-color="#ffff00"/><stop offset="0.6658" stop-color="#00ff00"/><stop offset="0.6813" stop-color="#00ff99"/><stop offset="0.6936" stop-color="#00ffff"/><stop offset="0.7112" stop-color="#0080ff"/><stop offset="0.7215" stop-color="#1e30ff"/><stop offset="0.7448" stop-color="#2814ff"/><stop offset="0.7457" stop-color="#2913ff"/><stop offset="0.7513" stop-color="#2814ff"/><stop offset="1.0000" stop-color="#1645ff"/></linearGradient>
<linearGradient id="c114" gradientUnits="userSpaceOnUse" x1="1371.5" x2="1856" y1="0" y2="0"><stop offset="0.0000" stop-color="#ffdb00"/><stop offset="0.2033" stop-color="#ffdd00"/><stop offset="0.3684" stop-color="#ffed00"/><stop offset="0.5028" stop-color="#ffd600"/><stop offset="0.5286" stop-color="#ffb000"/><stop offset="0.5478" stop-color="#ff9e00"/><stop offset="0.5864" stop-color="#ff9c00"/><stop offset="0.6388" stop-color="#ffa000"/><stop offset="0.6502" stop-color="#ffff00"/><stop offset="0.6658" stop-color="#00ff00"/><stop offset="0.6813" stop-color="#00ff9a"/><stop offset="0.6936" stop-color="#00ffff"/><stop offset="0.7111" stop-color="#0080ff"/><stop offset="0.7214" stop-color="#1e30ff"/><stop offset="0.7432" stop-color="#2814ff"/><stop offset="0.7452" stop-color="#2a13ff"/><stop offset="0.7577" stop-color="#2814ff"/><stop offset="1.0000" stop-color="#1645ff"/></linearGradient>
<linearGradient id="c115" gradientUnits="userSpaceOnUse" x1="1371.5" x2="1856" y1="0" y2="0"><stop offset="0.0000" stop-color="#ffdb00"/><stop offset="0.2033" stop-color="#ffdd00"/><stop offset="0.3684" stop-color="#ffed00"/><stop offset="0.5037" stop-color="#ffd600"/><stop offset="0.5290" stop-color="#ffb000"/><stop offset="0.5479" stop-color="#ffa000"/><stop offset="0.5868" stop-color="#ff9d00"/><stop offset="0.6388" stop-color="#ffa100"/><stop offset="0.6502" stop-color="#ffff00"/><stop offset="0.6657" stop-color="#00ff00"/><stop offset="0.6813" stop-color="#00ff9a"/><stop offset="0.6935" stop-color="#00ffff"/><stop offset="0.7110" stop-color="#0080ff"/><stop offset="0.7214" stop-color="#1e2fff"/><stop offset="0.7417" stop-color="#2814ff"/><stop offset="0.7446" stop-color="#2b12ff"/><stop offset="0.7637" stop-color="#2814ff"/><stop offset="1.0000" stop-color="#1645ff"/></linearGradient>
<linearGradient id="c116" gradientUnits="userSpaceOnUse" x1="1371.5" x2="1856" y1="0" y2="0"><stop offset="0.0000" stop-color="#ffdb00"/><stop offset="0.2033" stop-color="#ffdd00"/><stop offset="0.3684" stop-color="#ffed00"/><stop offset="0.5044" stop-color="#ffd500"/><stop offset="0.5293" stop-color="#ffb100"/><stop offset="0.5480" stop-color="#ffa100"/><stop offset="0.5871" stop-color="#ff9e00"/><stop offset="0.6388" stop-color="#ffa100"/><stop offset="0.6502" stop-color="#ffff00"/><stop offset="0.6657" stop-color="#00ff00"/><stop offset="0.6813" stop-color="#00ff9b"/><stop offset="0.6935" stop-color="#00ffff"/><stop offset="0.7109" stop-color="#0080ff"/><stop offset="0.7214" stop-color="#1e2fff"/><stop offset="0.7407" stop-color="#2814ff"/><stop offset="0.7442" stop-color="#2c12ff"/><stop offset="0.7681" stop-color="#2814ff"/><stop offset="1.0000" stop-color="#1645ff"/></linearGradient>
</defs>
<rect width="2007" height="622" fill="#fff"/>
<!-- panel a -->
<g clip-path="url(#pc)">
<rect x="17" y="100" width="379" height="453" fill="url(#pbg)"/>
<polygon points="236,236 400,199 400,345 228,380" fill="url(#psurf)" filter="url(#bl4)"/>
<path d="M10 292 L120 270 L215 252" stroke="#6e6e6e" stroke-width="5" fill="none" filter="url(#bl2)" opacity="0.8"/>
<path d="M236 232 L400 196" stroke="#2a2a2a" stroke-width="10" fill="none" filter="url(#bl4)" opacity="0.6"/>
<polygon points="231,378 240,376 256,500 244,500" fill="url(#prefl)" filter="url(#bl4)"/>
<polygon points="205,96 239.5,96 236,146 233.5,198 233.5,255 231.5,268 231,280 231,330 231.5,356 231,378 228,378 228.5,356 225,330 224,280 221.5,268 216,255 215,224 211,198 208.6,146" fill="url(#pstreak)" filter="url(#bl2)"/>
<rect x="17" y="100" width="379" height="453" filter="url(#grain)" opacity="0.10"/>
<g mask="url(#pmask)"><rect x="225" y="195" width="175" height="190" filter="url(#grain2)" opacity="0.22" transform="rotate(-13 310 290)"/></g>
<path d="M17 423.7 L396 342" stroke="#d3222e" stroke-width="1.9" stroke-dasharray="6 1" fill="none"/>
<g fill="#fff" font-weight="bold">
<text transform="translate(70 368) rotate(-12)" font-size="38">DP590</text>
<text transform="translate(91 491) rotate(-11.6)" font-size="37">AZ31</text>
<text x="275" y="506.6" font-size="31">2 mm</text>
<rect x="279" y="520.3" width="66.3" height="6.4"/>
</g>
</g>

<!-- panel b heatmap -->
<g shape-rendering="crispEdges">
<rect x="557.5" y="61.70" width="486.5" height="4.60" fill="url(#b0)"/>
<rect x="557.5" y="65.70" width="486.5" height="4.60" fill="url(#b1)"/>
<rect x="557.5" y="69.70" width="486.5" height="4.60" fill="url(#b2)"/>
<rect x="557.5" y="73.70" width="486.5" height="4.60" fill="url(#b3)"/>
<rect x="557.5" y="77.70" width="486.5" height="4.60" fill="url(#b4)"/>
<rect x="557.5" y="81.70" width="486.5" height="4.60" fill="url(#b5)"/>
<rect x="557.5" y="85.70" width="486.5" height="4.60" fill="url(#b6)"/>
<rect x="557.5" y="89.70" width="486.5" height="4.60" fill="url(#b7)"/>
<rect x="557.5" y="93.70" width="486.5" height="4.60" fill="url(#b8)"/>
<rect x="557.5" y="97.70" width="486.5" height="4.60" fill="url(#b9)"/>
<rect x="557.5" y="101.70" width="486.5" height="4.60" fill="url(#b10)"/>
<rect x="557.5" y="105.70" width="486.5" height="4.60" fill="url(#b11)"/>
<rect x="557.5" y="109.70" width="486.5" height="4.60" fill="url(#b12)"/>
<rect x="557.5" y="113.70" width="486.5" height="4.60" fill="url(#b13)"/>
<rect x="557.5" y="117.70" width="486.5" height="4.60" fill="url(#b14)"/>
<rect x="557.5" y="121.70" width="486.5" height="4.60" fill="url(#b15)"/>
<rect x="557.5" y="125.70" width="486.5" height="4.60" fill="url(#b16)"/>
<rect x="557.5" y="129.70" width="486.5" height="4.60" fill="url(#b17)"/>
<rect x="557.5" y="133.70" width="486.5" height="4.60" fill="url(#b18)"/>
<rect x="557.5" y="137.70" width="486.5" height="4.60" fill="url(#b19)"/>
<rect x="557.5" y="141.70" width="486.5" height="4.60" fill="url(#b20)"/>
<rect x="557.5" y="145.70" width="486.5" height="4.60" fill="url(#b21)"/>
<rect x="557.5" y="149.70" width="486.5" height="4.60" fill="url(#b22)"/>
<rect x="557.5" y="153.70" width="486.5" height="4.60" fill="url(#b23)"/>
<rect x="557.5" y="157.70" width="486.5" height="4.60" fill="url(#b24)"/>
<rect x="557.5" y="161.70" width="486.5" height="4.60" fill="url(#b25)"/>
<rect x="557.5" y="165.70" width="486.5" height="4.60" fill="url(#b26)"/>
<rect x="557.5" y="169.70" width="486.5" height="4.60" fill="url(#b27)"/>
<rect x="557.5" y="173.70" width="486.5" height="4.60" fill="url(#b28)"/>
<rect x="557.5" y="177.70" width="486.5" height="4.60" fill="url(#b29)"/>
<rect x="557.5" y="181.70" width="486.5" height="4.60" fill="url(#b30)"/>
<rect x="557.5" y="185.70" width="486.5" height="4.60" fill="url(#b31)"/>
<rect x="557.5" y="189.70" width="486.5" height="4.60" fill="url(#b32)"/>
<rect x="557.5" y="193.70" width="486.5" height="4.60" fill="url(#b33)"/>
<rect x="557.5" y="197.70" width="486.5" height="4.60" fill="url(#b34)"/>
<rect x="557.5" y="201.70" width="486.5" height="4.60" fill="url(#b35)"/>
<rect x="557.5" y="205.70" width="486.5" height="4.60" fill="url(#b36)"/>
<rect x="557.5" y="209.70" width="486.5" height="4.60" fill="url(#b37)"/>
<rect x="557.5" y="213.70" width="486.5" height="4.60" fill="url(#b38)"/>
<rect x="557.5" y="217.70" width="486.5" height="4.60" fill="url(#b39)"/>
<rect x="557.5" y="221.70" width="486.5" height="4.60" fill="url(#b40)"/>
<rect x="557.5" y="225.70" width="486.5" height="4.60" fill="url(#b41)"/>
<rect x="557.5" y="229.70" width="486.5" height="4.60" fill="url(#b42)"/>
<rect x="557.5" y="233.70" width="486.5" height="4.60" fill="url(#b43)"/>
<rect x="557.5" y="237.70" width="486.5" height="4.60" fill="url(#b44)"/>
<rect x="557.5" y="241.70" width="486.5" height="4.60" fill="url(#b45)"/>
<rect x="557.5" y="245.70" width="486.5" height="4.60" fill="url(#b46)"/>
<rect x="557.5" y="249.70" width="486.5" height="4.60" fill="url(#b47)"/>
<rect x="557.5" y="253.70" width="486.5" height="4.60" fill="url(#b48)"/>
<rect x="557.5" y="257.70" width="486.5" height="4.60" fill="url(#b49)"/>
<rect x="557.5" y="261.70" width="486.5" height="4.60" fill="url(#b50)"/>
<rect x="557.5" y="265.70" width="486.5" height="4.60" fill="url(#b51)"/>
<rect x="557.5" y="269.70" width="486.5" height="4.60" fill="url(#b52)"/>
<rect x="557.5" y="273.70" width="486.5" height="4.60" fill="url(#b53)"/>
<rect x="557.5" y="277.70" width="486.5" height="4.60" fill="url(#b54)"/>
<rect x="557.5" y="281.70" width="486.5" height="4.60" fill="url(#b55)"/>
<rect x="557.5" y="285.70" width="486.5" height="4.60" fill="url(#b56)"/>
<rect x="557.5" y="289.70" width="486.5" height="4.60" fill="url(#b57)"/>
<rect x="557.5" y="293.70" width="486.5" height="4.60" fill="url(#b58)"/>
<rect x="557.5" y="297.70" width="486.5" height="4.60" fill="url(#b59)"/>
<rect x="557.5" y="301.70" width="486.5" height="4.60" fill="url(#b60)"/>
<rect x="557.5" y="305.70" width="486.5" height="4.60" fill="url(#b61)"/>
<rect x="557.5" y="309.70" width="486.5" height="4.60" fill="url(#b62)"/>
<rect x="557.5" y="313.70" width="486.5" height="4.60" fill="url(#b63)"/>
<rect x="557.5" y="317.70" width="486.5" height="4.60" fill="url(#b64)"/>
<rect x="557.5" y="321.70" width="486.5" height="4.60" fill="url(#b65)"/>
<rect x="557.5" y="325.70" width="486.5" height="4.60" fill="url(#b66)"/>
<rect x="557.5" y="329.70" width="486.5" height="4.60" fill="url(#b67)"/>
<rect x="557.5" y="333.70" width="486.5" height="4.60" fill="url(#b68)"/>
<rect x="557.5" y="337.70" width="486.5" height="4.60" fill="url(#b69)"/>
<rect x="557.5" y="341.70" width="486.5" height="4.60" fill="url(#b70)"/>
<rect x="557.5" y="345.70" width="486.5" height="4.60" fill="url(#b71)"/>
<rect x="557.5" y="349.70" width="486.5" height="4.60" fill="url(#b72)"/>
<rect x="557.5" y="353.70" width="486.5" height="4.60" fill="url(#b73)"/>
<rect x="557.5" y="357.70" width="486.5" height="4.60" fill="url(#b74)"/>
<rect x="557.5" y="361.70" width="486.5" height="4.60" fill="url(#b75)"/>
<rect x="557.5" y="365.70" width="486.5" height="4.60" fill="url(#b76)"/>
<rect x="557.5" y="369.70" width="486.5" height="4.60" fill="url(#b77)"/>
<rect x="557.5" y="373.70" width="486.5" height="4.60" fill="url(#b78)"/>
<rect x="557.5" y="377.70" width="486.5" height="4.60" fill="url(#b79)"/>
<rect x="557.5" y="381.70" width="486.5" height="4.60" fill="url(#b80)"/>
<rect x="557.5" y="385.70" width="486.5" height="4.60" fill="url(#b81)"/>
<rect x="557.5" y="389.70" width="486.5" height="4.60" fill="url(#b82)"/>
<rect x="557.5" y="393.70" width="486.5" height="4.60" fill="url(#b83)"/>
<rect x="557.5" y="397.70" width="486.5" height="4.60" fill="url(#b84)"/>
<rect x="557.5" y="401.70" width="486.5" height="4.60" fill="url(#b85)"/>
<rect x="557.5" y="405.70" width="486.5" height="4.60" fill="url(#b86)"/>
<rect x="557.5" y="409.70" width="486.5" height="4.60" fill="url(#b87)"/>
<rect x="557.5" y="413.70" width="486.5" height="4.60" fill="url(#b88)"/>
<rect x="557.5" y="417.70" width="486.5" height="4.60" fill="url(#b89)"/>
<rect x="557.5" y="421.70" width="486.5" height="4.60" fill="url(#b90)"/>
<rect x="557.5" y="425.70" width="486.5" height="4.60" fill="url(#b91)"/>
<rect x="557.5" y="429.70" width="486.5" height="4.60" fill="url(#b92)"/>
<rect x="557.5" y="433.70" width="486.5" height="4.60" fill="url(#b93)"/>
<rect x="557.5" y="437.70" width="486.5" height="4.60" fill="url(#b94)"/>
<rect x="557.5" y="441.70" width="486.5" height="4.60" fill="url(#b95)"/>
<rect x="557.5" y="445.70" width="486.5" height="4.60" fill="url(#b96)"/>
<rect x="557.5" y="449.70" width="486.5" height="4.60" fill="url(#b97)"/>
<rect x="557.5" y="453.70" width="486.5" height="4.60" fill="url(#b98)"/>
<rect x="557.5" y="457.70" width="486.5" height="4.60" fill="url(#b99)"/>
<rect x="557.5" y="461.70" width="486.5" height="4.60" fill="url(#b100)"/>
<rect x="557.5" y="465.70" width="486.5" height="4.60" fill="url(#b101)"/>
<rect x="557.5" y="469.70" width="486.5" height="4.60" fill="url(#b102)"/>
<rect x="557.5" y="473.70" width="486.5" height="4.60" fill="url(#b103)"/>
<rect x="557.5" y="477.70" width="486.5" height="4.60" fill="url(#b104)"/>
<rect x="557.5" y="481.70" width="486.5" height="4.60" fill="url(#b105)"/>
<rect x="557.5" y="485.70" width="486.5" height="4.60" fill="url(#b106)"/>
<rect x="557.5" y="489.70" width="486.5" height="4.60" fill="url(#b107)"/>
<rect x="557.5" y="493.70" width="486.5" height="4.60" fill="url(#b108)"/>
<rect x="557.5" y="497.70" width="486.5" height="4.60" fill="url(#b109)"/>
<rect x="557.5" y="501.70" width="486.5" height="4.60" fill="url(#b110)"/>
<rect x="557.5" y="505.70" width="486.5" height="4.60" fill="url(#b111)"/>
<rect x="557.5" y="509.70" width="486.5" height="4.60" fill="url(#b112)"/>
<rect x="557.5" y="513.70" width="486.5" height="4.60" fill="url(#b113)"/>
<rect x="557.5" y="517.70" width="486.5" height="4.60" fill="url(#b114)"/>
<rect x="557.5" y="521.70" width="486.5" height="4.60" fill="url(#b115)"/>
<rect x="557.5" y="525.70" width="486.5" height="3.90" fill="url(#b116)"/>
</g>
<path d="M889.3 525.7V57" stroke="#ffdd88" stroke-width="5.4" stroke-dasharray="15.3 6.36" fill="none"/>
<rect x="557.5" y="61.7" width="486.5" height="467.3" fill="none" stroke="#000" stroke-width="2"/>
<path d="M557.5 529v9.5M590.7 529v5.5M623.8 529v9.5M657.0 529v5.5M690.2 529v9.5M723.4 529v5.5M756.5 529v9.5M789.7 529v5.5M822.9 529v9.5M856.0 529v5.5M889.2 529v9.5M922.4 529v5.5M955.5 529v9.5M988.7 529v5.5M1021.9 529v9.5M557.5 529.0h-9.5M557.5 495.6h-5.5M557.5 462.2h-9.5M557.5 428.9h-5.5M557.5 395.5h-9.5M557.5 362.1h-5.5M557.5 328.7h-9.5M557.5 295.4h-5.5M557.5 262.0h-9.5M557.5 228.6h-5.5M557.5 195.2h-9.5M557.5 161.8h-5.5M557.5 128.5h-9.5M557.5 95.1h-5.5M557.5 61.7h-9.5" stroke="#000" stroke-width="2" fill="none"/>
<g font-size="31" text-anchor="middle">
<text transform="translate(557.5 569.2) scale(1 1)">0</text>
<text transform="translate(623.8 569.2) scale(1 1)">60</text>
<text transform="translate(690.2 569.2) scale(1 1)">120</text>
<text transform="translate(756.5 569.2) scale(1 1)">180</text>
<text transform="translate(822.9 569.2) scale(1 1)">240</text>
<text transform="translate(889.2 569.2) scale(1 1)">300</text>
<text transform="translate(955.5 569.2) scale(1 1)">360</text>
<text transform="translate(1021.9 569.2) scale(1 1)">420</text>
</g>
<g font-size="31" text-anchor="end">
<text transform="translate(542.5 537.7) scale(1 1)">0</text>
<text transform="translate(542.5 470.9) scale(1 1)">10</text>
<text transform="translate(542.5 404.2) scale(1 1)">20</text>
<text transform="translate(542.5 337.4) scale(1 1)">30</text>
<text transform="translate(542.5 270.7) scale(1 1)">40</text>
<text transform="translate(542.5 203.9) scale(1 1)">50</text>
<text transform="translate(542.5 137.2) scale(1 1)">60</text>
<text transform="translate(542.5 70.4) scale(1 1)">70</text>
</g>
<text x="800.5" y="606" font-size="40" text-anchor="middle">x, μm</text>
<text transform="translate(491.8 295) rotate(-90)" font-size="40" text-anchor="middle">y, μm</text>
<text x="591" y="106.2" font-size="33">DP590 Steel</text>
<text x="903" y="108" font-size="33" fill="#fff">AZ31 Mg</text>
<rect x="1064.1" y="63.8" width="38.100000000000136" height="467.40000000000003" rx="1.2" fill="url(#kb)" stroke="#2b2b2b" stroke-width="1.3"/>
<rect x="1064.1" y="529.0" width="38.100000000000136" height="2.6" rx="1" fill="#06007a"/>
<path d="M1102.6000000000001 69.1h8.3M1102.6000000000001 120.3h8.3M1102.6000000000001 171.5h8.3M1102.6000000000001 222.8h8.3M1102.6000000000001 274.0h8.3M1102.6000000000001 325.2h8.3M1102.6000000000001 376.4h8.3" stroke="#333" stroke-width="1.5" fill="none"/>
<path d="M1102.6000000000001 427.7h8.3M1102.6000000000001 478.9h8.3M1102.6000000000001 530.1h8.3" stroke="#777" stroke-width="1.4" fill="none"/>
<g font-size="31.8">
<text transform="translate(1122.5 79.9) scale(0.955 1)">0.00</text>
<text transform="translate(1122.5 131.1) scale(0.955 1)">-0.20</text>
<text transform="translate(1122.5 182.3) scale(0.955 1)">-0.40</text>
<text transform="translate(1122.5 233.6) scale(0.955 1)">-0.60</text>
<text transform="translate(1122.5 284.8) scale(0.955 1)">-0.80</text>
<text transform="translate(1122.5 336.0) scale(0.955 1)">-1.00</text>
<text transform="translate(1122.5 387.2) scale(0.955 1)">-1.20</text>
<text transform="translate(1122.5 438.5) scale(0.955 1)">-1.40</text>
<text transform="translate(1122.5 489.7) scale(0.955 1)">-1.60</text>
<text transform="translate(1122.5 540.9) scale(0.955 1)">-1.80</text>
</g>
<text transform="translate(953.2 36.2) scale(1.0 1)" font-size="40.3" font-weight="bold">E<tspan font-size="28" dy="10.3">corr</tspan><tspan dy="-10.3"> (Tafel), V</tspan></text>
<!-- panel c heatmap -->
<g shape-rendering="crispEdges">
<rect x="1371.5" y="54.80" width="484.5" height="4.60" fill="url(#c0)"/>
<rect x="1371.5" y="58.80" width="484.5" height="4.60" fill="url(#c1)"/>
<rect x="1371.5" y="62.80" width="484.5" height="4.60" fill="url(#c2)"/>
<rect x="1371.5" y="66.80" width="484.5" height="4.60" fill="url(#c3)"/>
<rect x="1371.5" y="70.80" width="484.5" height="4.60" fill="url(#c4)"/>
<rect x="1371.5" y="74.80" width="484.5" height="4.60" fill="url(#c5)"/>
<rect x="1371.5" y="78.80" width="484.5" height="4.60" fill="url(#c6)"/>
<rect x="1371.5" y="82.80" width="484.5" height="4.60" fill="url(#c7)"/>
<rect x="1371.5" y="86.80" width="484.5" height="4.60" fill="url(#c8)"/>
<rect x="1371.5" y="90.80" width="484.5" height="4.60" fill="url(#c9)"/>
<rect x="1371.5" y="94.80" width="484.5" height="4.60" fill="url(#c10)"/>
<rect x="1371.5" y="98.80" width="484.5" height="4.60" fill="url(#c11)"/>
<rect x="1371.5" y="102.80" width="484.5" height="4.60" fill="url(#c12)"/>
<rect x="1371.5" y="106.80" width="484.5" height="4.60" fill="url(#c13)"/>
<rect x="1371.5" y="110.80" width="484.5" height="4.60" fill="url(#c14)"/>
<rect x="1371.5" y="114.80" width="484.5" height="4.60" fill="url(#c15)"/>
<rect x="1371.5" y="118.80" width="484.5" height="4.60" fill="url(#c16)"/>
<rect x="1371.5" y="122.80" width="484.5" height="4.60" fill="url(#c17)"/>
<rect x="1371.5" y="126.80" width="484.5" height="4.60" fill="url(#c18)"/>
<rect x="1371.5" y="130.80" width="484.5" height="4.60" fill="url(#c19)"/>
<rect x="1371.5" y="134.80" width="484.5" height="4.60" fill="url(#c20)"/>
<rect x="1371.5" y="138.80" width="484.5" height="4.60" fill="url(#c21)"/>
<rect x="1371.5" y="142.80" width="484.5" height="4.60" fill="url(#c22)"/>
<rect x="1371.5" y="146.80" width="484.5" height="4.60" fill="url(#c23)"/>
<rect x="1371.5" y="150.80" width="484.5" height="4.60" fill="url(#c24)"/>
<rect x="1371.5" y="154.80" width="484.5" height="4.60" fill="url(#c25)"/>
<rect x="1371.5" y="158.80" width="484.5" height="4.60" fill="url(#c26)"/>
<rect x="1371.5" y="162.80" width="484.5" height="4.60" fill="url(#c27)"/>
<rect x="1371.5" y="166.80" width="484.5" height="4.60" fill="url(#c28)"/>
<rect x="1371.5" y="170.80" width="484.5" height="4.60" fill="url(#c29)"/>
<rect x="1371.5" y="174.80" width="484.5" height="4.60" fill="url(#c30)"/>
<rect x="1371.5" y="178.80" width="484.5" height="4.60" fill="url(#c31)"/>
<rect x="1371.5" y="182.80" width="484.5" height="4.60" fill="url(#c32)"/>
<rect x="1371.5" y="186.80" width="484.5" height="4.60" fill="url(#c33)"/>
<rect x="1371.5" y="190.80" width="484.5" height="4.60" fill="url(#c34)"/>
<rect x="1371.5" y="194.80" width="484.5" height="4.60" fill="url(#c35)"/>
<rect x="1371.5" y="198.80" width="484.5" height="4.60" fill="url(#c36)"/>
<rect x="1371.5" y="202.80" width="484.5" height="4.60" fill="url(#c37)"/>
<rect x="1371.5" y="206.80" width="484.5" height="4.60" fill="url(#c38)"/>
<rect x="1371.5" y="210.80" width="484.5" height="4.60" fill="url(#c39)"/>
<rect x="1371.5" y="214.80" width="484.5" height="4.60" fill="url(#c40)"/>
<rect x="1371.5" y="218.80" width="484.5" height="4.60" fill="url(#c41)"/>
<rect x="1371.5" y="222.80" width="484.5" height="4.60" fill="url(#c42)"/>
<rect x="1371.5" y="226.80" width="484.5" height="4.60" fill="url(#c43)"/>
<rect x="1371.5" y="230.80" width="484.5" height="4.60" fill="url(#c44)"/>
<rect x="1371.5" y="234.80" width="484.5" height="4.60" fill="url(#c45)"/>
<rect x="1371.5" y="238.80" width="484.5" height="4.60" fill="url(#c46)"/>
<rect x="1371.5" y="242.80" width="484.5" height="4.60" fill="url(#c47)"/>
<rect x="1371.5" y="246.80" width="484.5" height="4.60" fill="url(#c48)"/>
<rect x="1371.5" y="250.80" width="484.5" height="4.60" fill="url(#c49)"/>
<rect x="1371.5" y="254.80" width="484.5" height="4.60" fill="url(#c50)"/>
<rect x="1371.5" y="258.80" width="484.5" height="4.60" fill="url(#c51)"/>
<rect x="1371.5" y="262.80" width="484.5" height="4.60" fill="url(#c52)"/>
<rect x="1371.5" y="266.80" width="484.5" height="4.60" fill="url(#c53)"/>
<rect x="1371.5" y="270.80" width="484.5" height="4.60" fill="url(#c54)"/>
<rect x="1371.5" y="274.80" width="484.5" height="4.60" fill="url(#c55)"/>
<rect x="1371.5" y="278.80" width="484.5" height="4.60" fill="url(#c56)"/>
<rect x="1371.5" y="282.80" width="484.5" height="4.60" fill="url(#c57)"/>
<rect x="1371.5" y="286.80" width="484.5" height="4.60" fill="url(#c58)"/>
<rect x="1371.5" y="290.80" width="484.5" height="4.60" fill="url(#c59)"/>
<rect x="1371.5" y="294.80" width="484.5" height="4.60" fill="url(#c60)"/>
<rect x="1371.5" y="298.80" width="484.5" height="4.60" fill="url(#c61)"/>
<rect x="1371.5" y="302.80" width="484.5" height="4.60" fill="url(#c62)"/>
<rect x="1371.5" y="306.80" width="484.5" height="4.60" fill="url(#c63)"/>
<rect x="1371.5" y="310.80" width="484.5" height="4.60" fill="url(#c64)"/>
<rect x="1371.5" y="314.80" width="484.5" height="4.60" fill="url(#c65)"/>
<rect x="1371.5" y="318.80" width="484.5" height="4.60" fill="url(#c66)"/>
<rect x="1371.5" y="322.80" width="484.5" height="4.60" fill="url(#c67)"/>
<rect x="1371.5" y="326.80" width="484.5" height="4.60" fill="url(#c68)"/>
<rect x="1371.5" y="330.80" width="484.5" height="4.60" fill="url(#c69)"/>
<rect x="1371.5" y="334.80" width="484.5" height="4.60" fill="url(#c70)"/>
<rect x="1371.5" y="338.80" width="484.5" height="4.60" fill="url(#c71)"/>
<rect x="1371.5" y="342.80" width="484.5" height="4.60" fill="url(#c72)"/>
<rect x="1371.5" y="346.80" width="484.5" height="4.60" fill="url(#c73)"/>
<rect x="1371.5" y="350.80" width="484.5" height="4.60" fill="url(#c74)"/>
<rect x="1371.5" y="354.80" width="484.5" height="4.60" fill="url(#c75)"/>
<rect x="1371.5" y="358.80" width="484.5" height="4.60" fill="url(#c76)"/>
<rect x="1371.5" y="362.80" width="484.5" height="4.60" fill="url(#c77)"/>
<rect x="1371.5" y="366.80" width="484.5" height="4.60" fill="url(#c78)"/>
<rect x="1371.5" y="370.80" width="484.5" height="4.60" fill="url(#c79)"/>
<rect x="1371.5" y="374.80" width="484.5" height="4.60" fill="url(#c80)"/>
<rect x="1371.5" y="378.80" width="484.5" height="4.60" fill="url(#c81)"/>
<rect x="1371.5" y="382.80" width="484.5" height="4.60" fill="url(#c82)"/>
<rect x="1371.5" y="386.80" width="484.5" height="4.60" fill="url(#c83)"/>
<rect x="1371.5" y="390.80" width="484.5" height="4.60" fill="url(#c84)"/>
<rect x="1371.5" y="394.80" width="484.5" height="4.60" fill="url(#c85)"/>
<rect x="1371.5" y="398.80" width="484.5" height="4.60" fill="url(#c86)"/>
<rect x="1371.5" y="402.80" width="484.5" height="4.60" fill="url(#c87)"/>
<rect x="1371.5" y="406.80" width="484.5" height="4.60" fill="url(#c88)"/>
<rect x="1371.5" y="410.80" width="484.5" height="4.60" fill="url(#c89)"/>
<rect x="1371.5" y="414.80" width="484.5" height="4.60" fill="url(#c90)"/>
<rect x="1371.5" y="418.80" width="484.5" height="4.60" fill="url(#c91)"/>
<rect x="1371.5" y="422.80" width="484.5" height="4.60" fill="url(#c92)"/>
<rect x="1371.5" y="426.80" width="484.5" height="4.60" fill="url(#c93)"/>
<rect x="1371.5" y="430.80" width="484.5" height="4.60" fill="url(#c94)"/>
<rect x="1371.5" y="434.80" width="484.5" height="4.60" fill="url(#c95)"/>
<rect x="1371.5" y="438.80" width="484.5" height="4.60" fill="url(#c96)"/>
<rect x="1371.5" y="442.80" width="484.5" height="4.60" fill="url(#c97)"/>
<rect x="1371.5" y="446.80" width="484.5" height="4.60" fill="url(#c98)"/>
<rect x="1371.5" y="450.80" width="484.5" height="4.60" fill="url(#c99)"/>
<rect x="1371.5" y="454.80" width="484.5" height="4.60" fill="url(#c100)"/>
<rect x="1371.5" y="458.80" width="484.5" height="4.60" fill="url(#c101)"/>
<rect x="1371.5" y="462.80" width="484.5" height="4.60" fill="url(#c102)"/>
<rect x="1371.5" y="466.80" width="484.5" height="4.60" fill="url(#c103)"/>
<rect x="1371.5" y="470.80" width="484.5" height="4.60" fill="url(#c104)"/>
<rect x="1371.5" y="474.80" width="484.5" height="4.60" fill="url(#c105)"/>
<rect x="1371.5" y="478.80" width="484.5" height="4.60" fill="url(#c106)"/>
<rect x="1371.5" y="482.80" width="484.5" height="4.60" fill="url(#c107)"/>
<rect x="1371.5" y="486.80" width="484.5" height="4.60" fill="url(#c108)"/>
<rect x="1371.5" y="490.80" width="484.5" height="4.60" fill="url(#c109)"/>
<rect x="1371.5" y="494.80" width="484.5" height="4.60" fill="url(#c110)"/>
<rect x="1371.5" y="498.80" width="484.5" height="4.60" fill="url(#c111)"/>
<rect x="1371.5" y="502.80" width="484.5" height="4.60" fill="url(#c112)"/>
<rect x="1371.5" y="506.80" width="484.5" height="4.60" fill="url(#c113)"/>
<rect x="1371.5" y="510.80" width="484.5" height="4.60" fill="url(#c114)"/>
<rect x="1371.5" y="514.80" width="484.5" height="4.60" fill="url(#c115)"/>
<rect x="1371.5" y="518.80" width="484.5" height="2.80" fill="url(#c116)"/>
</g>
<path d="M1701.6 519.2V58.3" stroke="#ffde90" stroke-width="5.5" stroke-dasharray="15.6 6.1" fill="none"/>
<rect x="1371.5" y="54.8" width="484.5" height="466.2" fill="none" stroke="#000" stroke-width="2"/>
<path d="M1371.5 521v9.5M1404.5 521v5.5M1437.6 521v9.5M1470.6 521v5.5M1503.6 521v9.5M1536.7 521v5.5M1569.7 521v9.5M1602.7 521v5.5M1635.8 521v9.5M1668.8 521v5.5M1701.8 521v9.5M1734.9 521v5.5M1767.9 521v9.5M1800.9 521v5.5M1834.0 521v9.5M1371.5 521.0h-9.5M1371.5 487.7h-5.5M1371.5 454.4h-9.5M1371.5 421.1h-5.5M1371.5 387.8h-9.5M1371.5 354.5h-5.5M1371.5 321.2h-9.5M1371.5 287.9h-5.5M1371.5 254.6h-9.5M1371.5 221.3h-5.5M1371.5 188.0h-9.5M1371.5 154.7h-5.5M1371.5 121.4h-9.5M1371.5 88.1h-5.5M1371.5 54.8h-9.5" stroke="#000" stroke-width="2" fill="none"/>
<g font-size="36.5" text-anchor="middle">
<text transform="translate(1370.9 563.6) scale(0.955 1)">0</text>
<text transform="translate(1437.0 563.6) scale(0.955 1)">60</text>
<text transform="translate(1503.0 563.6) scale(0.955 1)">120</text>
<text transform="translate(1569.1 563.6) scale(0.955 1)">180</text>
<text transform="translate(1635.2 563.6) scale(0.955 1)">240</text>
<text transform="translate(1701.2 563.6) scale(0.955 1)">300</text>
<text transform="translate(1767.3 563.6) scale(0.955 1)">360</text>
<text transform="translate(1833.4 563.6) scale(0.955 1)">420</text>
</g>
<g font-size="36.2" text-anchor="end">
<text transform="translate(1354.9 531.9) scale(0.96 1)">0</text>
<text transform="translate(1354.9 465.3) scale(0.96 1)">10</text>
<text transform="translate(1354.9 398.7) scale(0.96 1)">20</text>
<text transform="translate(1354.9 332.1) scale(0.96 1)">30</text>
<text transform="translate(1354.9 265.5) scale(0.96 1)">40</text>
<text transform="translate(1354.9 198.9) scale(0.96 1)">50</text>
<text transform="translate(1354.9 132.3) scale(0.96 1)">60</text>
<text transform="translate(1354.9 65.7) scale(0.96 1)">70</text>
</g>
<text x="1613" y="601" font-size="40" text-anchor="middle">x, μm</text>
<text transform="translate(1300.7 287.5) rotate(-90)" font-size="40" text-anchor="middle">y, μm</text>
<text x="1381.5" y="92" font-size="33">DP590 Steel</text>
<text x="1716" y="95" font-size="33" fill="#fff">AZ31 Mg</text>
<rect x="1875.4" y="56.9" width="37.0" height="465.4" fill="url(#kc)"/>
<rect x="1875.4" y="521.1" width="38.0" height="2.5" fill="#06007a"/>
<path d="M1913.5 56.9V523.6" stroke="#000" stroke-width="2.3" fill="none"/>
<path d="M1914.4 62.7h7.8M1914.4 113.7h7.8M1914.4 164.8h7.8M1914.4 215.8h7.8M1914.4 266.8h7.8M1914.4 317.9h7.8M1914.4 368.9h7.8M1914.4 419.9h7.8M1914.4 471.0h7.8M1914.4 522.0h7.8" stroke="#000" stroke-width="2.2" fill="none"/>
<g font-size="31.8">
<text transform="translate(1933.3 72.9) scale(0.955 1)">0.00</text>
<text transform="translate(1933.3 123.9) scale(0.955 1)">-0.20</text>
<text transform="translate(1933.3 175.0) scale(0.955 1)">-0.40</text>
<text transform="translate(1933.3 226.0) scale(0.955 1)">-0.60</text>
<text transform="translate(1933.3 277.0) scale(0.955 1)">-0.80</text>
<text transform="translate(1933.3 328.1) scale(0.955 1)">-1.00</text>
<text transform="translate(1933.3 379.1) scale(0.955 1)">-1.20</text>
<text transform="translate(1933.3 430.1) scale(0.955 1)">-1.40</text>
<text transform="translate(1933.3 481.2) scale(0.955 1)">-1.60</text>
<text transform="translate(1933.3 532.2) scale(0.955 1)">-1.80</text>
</g>
<text transform="translate(1826.6 36.9) scale(1.02 1)" font-size="40.5" font-weight="bold">OCP, V</text>
<!-- panel labels -->
<g>
<text transform="translate(0 58.2) scale(0.75 1)" font-size="57.3" stroke="#000" stroke-width="0.6"><tspan x="0.7">(</tspan><tspan x="25.6" dy="1.3" font-size="53.5">a</tspan><tspan x="66.6" dy="-1.3">)</tspan></text>
<text transform="translate(0 52.1) scale(0.85 1)" font-size="56.0" stroke="#000" stroke-width="0.6"><tspan x="523.2">(</tspan><tspan x="547.5" dy="1.4" font-size="55.0">b</tspan><tspan x="584.6" dy="-1.4">)</tspan></text>
<text transform="translate(0 44.1) scale(0.82 1)" font-size="55.5" stroke="#000" stroke-width="0.6"><tspan x="1515.1">(</tspan><tspan x="1539.0" dy="1.2" font-size="52.5">c</tspan><tspan x="1572.1" dy="-1.2">)</tspan></text>
</g>
</svg>
</body>
</html>
